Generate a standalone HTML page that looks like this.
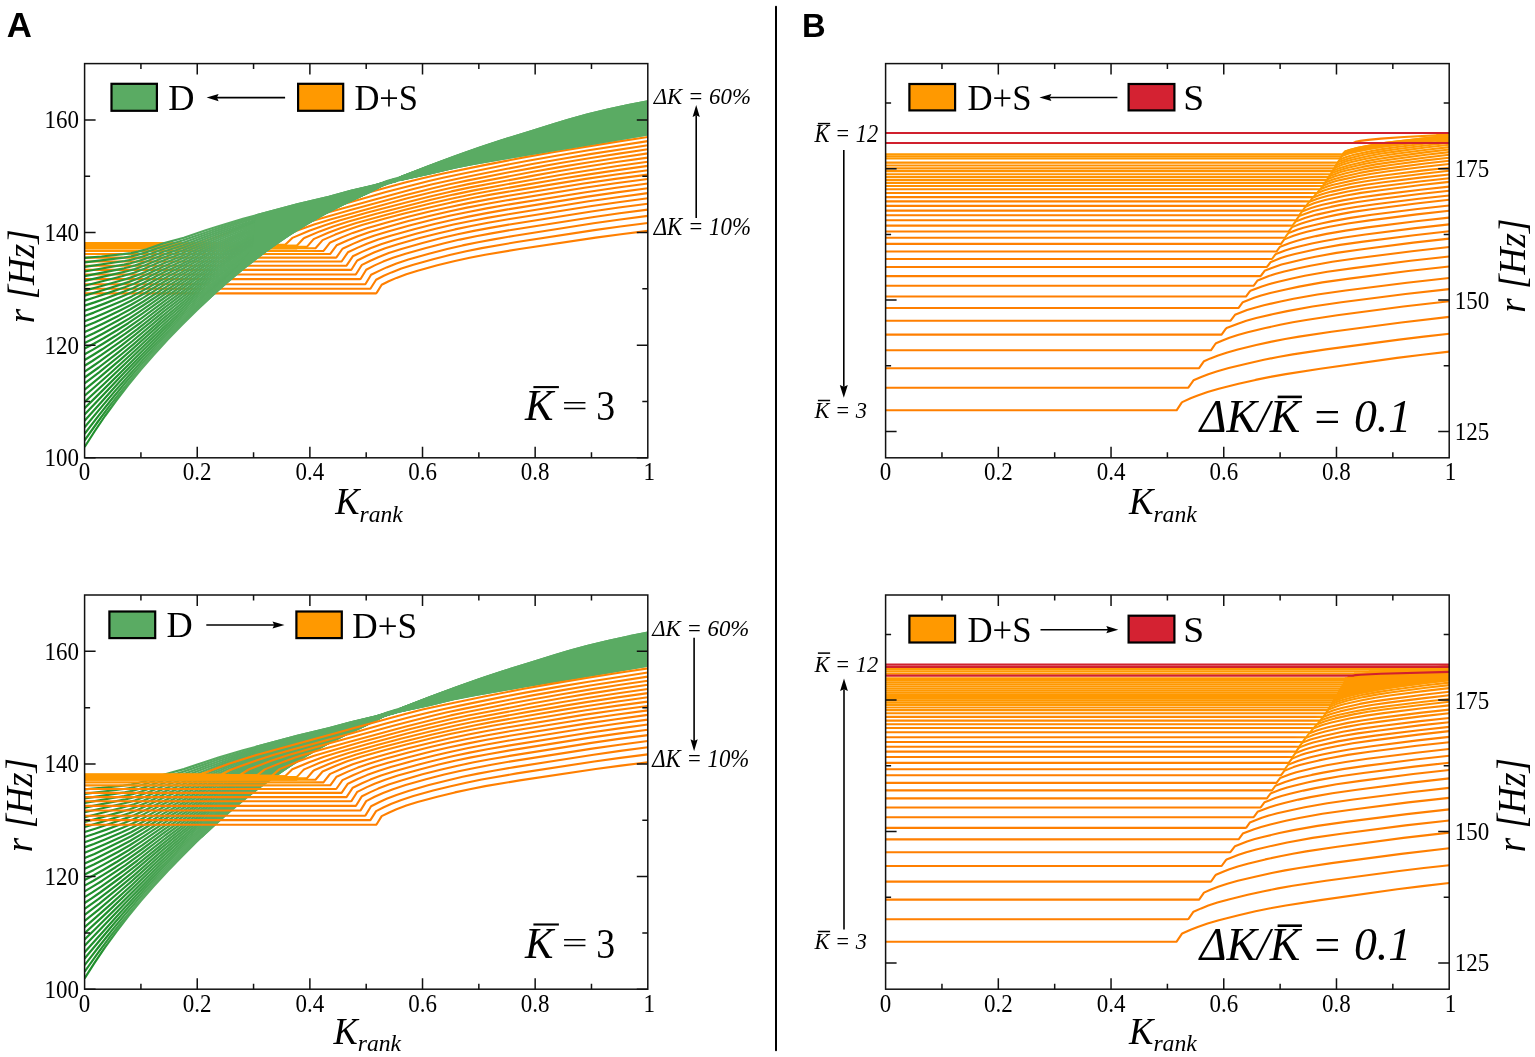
<!DOCTYPE html>
<html><head><meta charset="utf-8"><title>Figure</title>
<style>html,body{margin:0;padding:0;background:#fff;} svg{display:block;}</style></head>
<body><svg width="1535" height="1057" viewBox="0 0 1535 1057">
<rect x="0" y="0" width="1535" height="1057" fill="#fff"/>
<line x1="776.0" y1="6.7" x2="776.0" y2="1050.2" stroke="#000" stroke-width="2.0" stroke-linecap="round"/>
<defs></defs>
<clipPath id="clipA0"><rect x="84.60" y="63.60" width="563.20" height="394.20"/></clipPath>
<defs><linearGradient id="g0" gradientUnits="userSpaceOnUse" x1="84.6" y1="0" x2="647.8" y2="0"><stop offset="0.000" stop-color="#ff8200"/><stop offset="0.450" stop-color="#ff8200"/><stop offset="0.475" stop-color="#ff7f00"/><stop offset="1.000" stop-color="#ff7f00"/></linearGradient><linearGradient id="g1" gradientUnits="userSpaceOnUse" x1="84.6" y1="0" x2="647.8" y2="0"><stop offset="0.000" stop-color="#ff8200"/><stop offset="0.450" stop-color="#ff8200"/><stop offset="0.462" stop-color="#ff7f00"/><stop offset="1.000" stop-color="#ff7f00"/></linearGradient><linearGradient id="g2" gradientUnits="userSpaceOnUse" x1="84.6" y1="0" x2="647.8" y2="0"><stop offset="0.000" stop-color="#ff8500"/><stop offset="0.438" stop-color="#ff8500"/><stop offset="0.450" stop-color="#ff8300"/><stop offset="0.462" stop-color="#ff7f00"/><stop offset="1.000" stop-color="#ff7f00"/></linearGradient><linearGradient id="g3" gradientUnits="userSpaceOnUse" x1="84.6" y1="0" x2="647.8" y2="0"><stop offset="0.000" stop-color="#ff8800"/><stop offset="0.425" stop-color="#ff8800"/><stop offset="0.450" stop-color="#ff7f00"/><stop offset="1.000" stop-color="#ff7f00"/></linearGradient><linearGradient id="g4" gradientUnits="userSpaceOnUse" x1="84.6" y1="0" x2="647.8" y2="0"><stop offset="0.000" stop-color="#ff8f00"/><stop offset="0.412" stop-color="#ff8f00"/><stop offset="0.425" stop-color="#ff8b00"/><stop offset="0.438" stop-color="#ff7f00"/><stop offset="0.600" stop-color="#ff8100"/><stop offset="1.000" stop-color="#ff8000"/></linearGradient><linearGradient id="g5" gradientUnits="userSpaceOnUse" x1="84.6" y1="0" x2="647.8" y2="0"><stop offset="0.000" stop-color="#ff9200"/><stop offset="0.400" stop-color="#ff9200"/><stop offset="0.425" stop-color="#ff8000"/><stop offset="0.438" stop-color="#ff7f00"/><stop offset="0.500" stop-color="#ff7f00"/><stop offset="0.512" stop-color="#ff8000"/><stop offset="0.575" stop-color="#ff8200"/><stop offset="1.000" stop-color="#ff8100"/></linearGradient><linearGradient id="g6" gradientUnits="userSpaceOnUse" x1="84.6" y1="0" x2="647.8" y2="0"><stop offset="0.000" stop-color="#ff9900"/><stop offset="0.388" stop-color="#ff9900"/><stop offset="0.400" stop-color="#ff9300"/><stop offset="0.412" stop-color="#ff7f00"/><stop offset="0.450" stop-color="#ff8000"/><stop offset="0.462" stop-color="#ff8300"/><stop offset="0.475" stop-color="#ff8500"/><stop offset="0.500" stop-color="#ff8700"/><stop offset="0.775" stop-color="#ff8500"/><stop offset="0.900" stop-color="#ff8300"/><stop offset="1.000" stop-color="#ff8100"/></linearGradient><linearGradient id="g7" gradientUnits="userSpaceOnUse" x1="84.6" y1="0" x2="647.8" y2="0"><stop offset="0.000" stop-color="#ff9900"/><stop offset="0.388" stop-color="#ff9900"/><stop offset="0.400" stop-color="#ff7f00"/><stop offset="0.438" stop-color="#ff8000"/><stop offset="0.450" stop-color="#ff8300"/><stop offset="0.462" stop-color="#ff8500"/><stop offset="0.487" stop-color="#ff8800"/><stop offset="0.775" stop-color="#ff8600"/><stop offset="0.913" stop-color="#ff8300"/><stop offset="1.000" stop-color="#ff8200"/></linearGradient><linearGradient id="g8" gradientUnits="userSpaceOnUse" x1="84.6" y1="0" x2="647.8" y2="0"><stop offset="0.000" stop-color="#ff9900"/><stop offset="0.375" stop-color="#ff9900"/><stop offset="0.388" stop-color="#ff7f00"/><stop offset="0.412" stop-color="#ff7f00"/><stop offset="0.438" stop-color="#ff8300"/><stop offset="0.450" stop-color="#ff8500"/><stop offset="0.475" stop-color="#ff8800"/><stop offset="0.775" stop-color="#ff8600"/><stop offset="0.925" stop-color="#ff8400"/><stop offset="1.000" stop-color="#ff8200"/></linearGradient><linearGradient id="g9" gradientUnits="userSpaceOnUse" x1="84.6" y1="0" x2="647.8" y2="0"><stop offset="0.000" stop-color="#ff9900"/><stop offset="0.350" stop-color="#ff9900"/><stop offset="0.363" stop-color="#ff8100"/><stop offset="0.375" stop-color="#ff7f00"/><stop offset="0.400" stop-color="#ff7f00"/><stop offset="0.425" stop-color="#ff8400"/><stop offset="0.438" stop-color="#ff8600"/><stop offset="0.450" stop-color="#ff8700"/><stop offset="0.812" stop-color="#ff8500"/><stop offset="0.988" stop-color="#ff8300"/><stop offset="1.000" stop-color="#ff8300"/></linearGradient><linearGradient id="g10" gradientUnits="userSpaceOnUse" x1="84.6" y1="0" x2="647.8" y2="0"><stop offset="0.000" stop-color="#ff9900"/><stop offset="0.325" stop-color="#ff9900"/><stop offset="0.337" stop-color="#ff8f00"/><stop offset="0.350" stop-color="#ff7f00"/><stop offset="0.388" stop-color="#ff7f00"/><stop offset="0.400" stop-color="#ff8100"/><stop offset="0.412" stop-color="#ff8400"/><stop offset="0.438" stop-color="#ff8600"/><stop offset="0.450" stop-color="#ff8700"/><stop offset="0.812" stop-color="#ff8500"/><stop offset="1.000" stop-color="#ff8300"/></linearGradient><linearGradient id="g11" gradientUnits="userSpaceOnUse" x1="84.6" y1="0" x2="647.8" y2="0"><stop offset="0.000" stop-color="#ff9900"/><stop offset="0.300" stop-color="#ff9900"/><stop offset="0.312" stop-color="#ff8d00"/><stop offset="0.325" stop-color="#ff7f00"/><stop offset="0.375" stop-color="#ff7f00"/><stop offset="0.388" stop-color="#ff8100"/><stop offset="0.412" stop-color="#ff8400"/><stop offset="0.438" stop-color="#ff8600"/><stop offset="0.900" stop-color="#ff8400"/><stop offset="1.000" stop-color="#ff8300"/></linearGradient><linearGradient id="g12" gradientUnits="userSpaceOnUse" x1="84.6" y1="0" x2="647.8" y2="0"><stop offset="0.000" stop-color="#ff9900"/><stop offset="0.275" stop-color="#ff9900"/><stop offset="0.288" stop-color="#ff7f00"/><stop offset="0.363" stop-color="#ff7f00"/><stop offset="0.388" stop-color="#ff8200"/><stop offset="0.412" stop-color="#ff8400"/><stop offset="1.000" stop-color="#ff8300"/></linearGradient><linearGradient id="g13" gradientUnits="userSpaceOnUse" x1="84.6" y1="0" x2="647.8" y2="0"><stop offset="0.000" stop-color="#ff9900"/><stop offset="0.238" stop-color="#ff9900"/><stop offset="0.250" stop-color="#ff9400"/><stop offset="0.263" stop-color="#ff7f00"/><stop offset="0.363" stop-color="#ff8000"/><stop offset="0.388" stop-color="#ff8200"/><stop offset="0.650" stop-color="#ff8400"/><stop offset="1.000" stop-color="#ff8300"/></linearGradient><linearGradient id="g14" gradientUnits="userSpaceOnUse" x1="84.6" y1="0" x2="647.8" y2="0"><stop offset="0.000" stop-color="#ff9900"/><stop offset="0.212" stop-color="#ff9900"/><stop offset="0.225" stop-color="#ff7f00"/><stop offset="0.412" stop-color="#ff8200"/><stop offset="0.450" stop-color="#ff8100"/><stop offset="0.475" stop-color="#ff7f00"/><stop offset="0.600" stop-color="#ff8100"/><stop offset="0.625" stop-color="#ff8200"/><stop offset="1.000" stop-color="#ff8300"/></linearGradient></defs>
<g clip-path="url(#clipA0)" fill="none" stroke-width="2.1" stroke-linejoin="round">
<path d="M84.6,293.4 376.1,293.4 376.8,292.6 381.7,284.7 388.7,281.3 396.5,277.9 406.3,274.2 417.6,270.7 437.3,265.3 454.9,261.0 469.7,257.8 485.2,254.7 519.7,249.0 595.7,237.6 621.0,234.2 647.8,230.9" stroke="#ff7f00"/>
<path d="M84.6,288.7 370.4,288.7 376.1,279.7 383.8,275.8 391.5,272.4 401.4,268.6 413.4,264.7 433.1,259.2 450.7,254.8 466.2,251.3 481.7,248.1 516.9,242.0 594.3,230.1 620.3,226.5 647.8,223.0" stroke="#ff7f00"/>
<path d="M84.6,284.3 364.8,284.3 365.5,284.0 371.1,274.8 379.6,270.6 386.6,267.4 396.5,263.5 408.4,259.6 428.9,253.7 447.2,249.0 462.6,245.4 478.1,242.2 493.6,239.4 514.7,235.7 593.6,223.3 620.3,219.5 647.8,215.9" stroke="#ff7f00"/>
<path d="M84.6,279.1 359.9,279.1 360.6,279.0 366.2,269.7 374.6,265.4 383.1,261.6 393.0,257.8 405.6,253.7 426.0,247.9 444.3,243.2 459.8,239.6 476.0,236.3 491.5,233.4 512.6,229.7 592.2,217.2 619.6,213.3 647.8,209.6" stroke="#ff7f00"/>
<path d="M84.6,274.5 355.6,274.5 356.3,273.8 361.3,265.7 362.0,264.9 370.4,260.7 378.2,257.2 388.7,253.1 401.4,249.0 422.5,242.9 441.5,238.0 457.7,234.3 473.9,230.9 490.1,227.9 511.2,224.2 591.5,211.5 618.9,207.5 647.8,203.7" stroke="#ff7f00"/>
<path d="M84.6,269.9 350.7,269.9 351.4,269.7 357.0,260.8 357.8,260.2 366.9,255.7 374.6,252.3 385.2,248.3 397.9,244.2 419.7,238.0 438.7,233.2 454.9,229.4 471.1,226.0 488.0,222.8 509.8,219.0 590.1,206.2 618.2,202.2 647.8,198.3" stroke="url(#g0)"/>
<path d="M84.6,265.7 346.5,265.7 352.8,256.3 362.0,251.9 370.4,248.2 381.0,244.2 394.4,239.9 416.9,233.5 436.6,228.5 453.5,224.6 469.7,221.2 487.3,217.9 508.4,214.2 588.7,201.3 617.5,197.2 647.8,193.1" stroke="url(#g1)"/>
<path d="M84.6,261.5 341.6,261.5 347.9,252.3 357.8,247.6 366.9,243.7 378.2,239.6 391.5,235.4 414.1,229.2 434.5,224.0 452.1,220.0 468.3,216.6 486.6,213.1 507.7,209.4 587.3,196.6 616.8,192.4 647.8,188.2" stroke="url(#g2)"/>
<path d="M84.6,257.6 335.9,257.6 336.6,257.1 342.3,249.0 343.0,248.5 353.5,243.6 362.7,239.7 373.9,235.7 388.0,231.4 411.3,225.0 433.1,219.6 450.7,215.6 466.9,212.2 486.6,208.4 507.0,204.8 585.8,192.2 616.1,187.8 647.8,183.5" stroke="url(#g3)"/>
<path d="M84.6,254.0 330.3,253.9 336.6,245.3 347.9,240.2 357.8,236.2 369.7,232.0 385.2,227.4 408.4,221.1 432.4,215.2 450.0,211.2 466.9,207.6 487.3,203.8 507.0,200.3 584.4,187.8 615.4,183.3 647.8,179.0" stroke="url(#g4)"/>
<path d="M84.6,251.0 323.3,251.0 324.0,250.3 329.6,243.1 330.3,242.5 342.3,237.1 352.8,232.9 367.6,228.0 388.7,222.0 409.1,216.6 431.7,211.1 450.0,206.9 468.3,203.1 488.0,199.4 508.4,195.8 583.7,183.5 615.4,178.9 647.8,174.6" stroke="url(#g5)"/>
<path d="M84.6,248.3 315.5,248.3 322.6,240.1 335.2,234.6 347.2,229.9 362.0,225.1 385.2,218.6 406.3,213.1 431.7,206.9 451.4,202.4 473.9,197.8 492.2,194.4 520.4,189.6 585.8,178.9 616.1,174.5 647.8,170.2" stroke="url(#g6)"/>
<path d="M84.6,246.9 306.4,246.9 307.1,246.6 313.4,239.4 314.1,238.9 328.2,232.8 340.9,228.0 356.3,223.0 381.7,215.9 404.2,210.0 432.4,203.1 453.5,198.3 475.3,193.8 492.9,190.5 526.7,184.6 562.6,178.5 587.3,174.6 617.5,170.1 647.8,165.9" stroke="url(#g7)"/>
<path d="M84.6,245.8 296.5,245.8 297.2,245.2 303.5,238.5 304.2,238.0 319.7,231.4 333.1,226.5 348.6,221.6 375.4,214.0 400.7,207.4 431.0,199.8 453.5,194.6 473.9,190.4 529.5,180.2 561.9,174.7 588.0,170.5 617.5,166.0 647.8,161.7" stroke="url(#g8)"/>
<path d="M84.6,244.9 284.5,244.9 285.2,244.8 292.3,237.9 293.0,237.6 309.2,230.8 324.0,225.4 339.4,220.5 367.6,212.6 407.0,202.2 428.9,196.7 451.4,191.4 470.4,187.4 530.9,176.1 561.2,170.8 588.7,166.3 618.2,161.8 647.8,157.6" stroke="url(#g9)"/>
<path d="M84.6,244.4 271.9,244.4 279.6,237.7 297.9,230.2 314.1,224.4 330.3,219.5 360.6,210.9 408.4,198.1 431.7,192.3 451.4,187.7 468.3,184.1 533.0,171.8 561.2,166.9 589.4,162.2 618.2,157.7 647.8,153.4" stroke="url(#g10)"/>
<path d="M84.6,244.0 257.1,243.9 264.8,238.0 284.5,230.0 293.7,226.7 302.8,223.7 319.0,218.9 351.4,209.8 404.9,195.3 433.8,188.0 450.7,184.0 466.9,180.6 509.1,172.3 534.5,167.6 561.9,162.8 590.8,158.0 618.9,153.6 647.8,149.3" stroke="url(#g11)"/>
<path d="M84.6,243.6 240.2,243.6 247.9,238.6 249.3,237.9 270.5,229.7 280.3,226.3 289.5,223.4 326.8,212.7 392.2,194.7 413.4,189.1 432.4,184.3 447.2,180.9 463.4,177.5 507.0,168.8 532.3,164.0 559.8,159.2 590.1,154.1 647.8,145.2" stroke="url(#g12)"/>
<path d="M84.6,243.4 221.2,243.3 229.6,238.9 239.5,235.1 257.1,228.8 274.0,223.4 290.9,218.5 350.0,202.3 385.9,192.1 411.3,185.4 428.9,181.0 442.9,177.8 459.8,174.2 502.8,165.5 528.1,160.7 556.3,155.7 588.7,150.3 647.8,141.1" stroke="url(#g13)"/>
<path d="M84.6,243.1 200.1,243.1 214.8,237.5 229.6,232.2 243.7,227.5 256.4,223.7 334.5,202.2 377.5,190.0 404.2,182.8 422.5,178.2 442.2,173.8 483.1,165.4 522.5,157.6 551.4,152.5 586.6,146.6 617.5,141.6 647.8,137.0" stroke="url(#g14)"/>
</g>
<g clip-path="url(#clipA0)" fill="#ff9900" stroke="none">
<path d="M84.6,242.1 199.4,242.1 200.1,242.0 203.6,240.7 204.3,242.3 220.5,242.3 221.2,242.3 224.0,240.8 224.7,242.6 240.2,242.5 242.3,241.2 243.0,242.9 256.4,242.9 257.1,242.9 258.5,241.8 259.2,243.3 271.9,243.3 273.3,242.1 274.0,243.9 284.5,243.9 285.2,243.8 285.9,243.1 286.6,244.7 296.5,244.7 297.2,244.2 297.2,249.4 84.6,249.4Z"/>
</g>
<defs><linearGradient id="g15" gradientUnits="userSpaceOnUse" x1="84.6" y1="0" x2="647.8" y2="0"><stop offset="0.000" stop-color="#20902d"/><stop offset="0.012" stop-color="#259232"/><stop offset="0.025" stop-color="#2a9436"/><stop offset="0.050" stop-color="#33983e"/><stop offset="0.075" stop-color="#3a9c45"/><stop offset="0.100" stop-color="#409f4b"/><stop offset="0.125" stop-color="#45a14f"/><stop offset="0.150" stop-color="#4aa354"/><stop offset="0.175" stop-color="#4fa659"/><stop offset="0.200" stop-color="#54a85e"/><stop offset="0.225" stop-color="#59ab62"/><stop offset="1.000" stop-color="#5aab63"/></linearGradient><linearGradient id="g16" gradientUnits="userSpaceOnUse" x1="84.6" y1="0" x2="647.8" y2="0"><stop offset="0.000" stop-color="#20902d"/><stop offset="0.012" stop-color="#259232"/><stop offset="0.025" stop-color="#2a9436"/><stop offset="0.050" stop-color="#33983e"/><stop offset="0.075" stop-color="#3a9c45"/><stop offset="0.100" stop-color="#409f4b"/><stop offset="0.125" stop-color="#45a14f"/><stop offset="0.150" stop-color="#4aa354"/><stop offset="0.175" stop-color="#4fa659"/><stop offset="0.200" stop-color="#54a85e"/><stop offset="0.225" stop-color="#59ab62"/><stop offset="1.000" stop-color="#5aab63"/></linearGradient><linearGradient id="g17" gradientUnits="userSpaceOnUse" x1="84.6" y1="0" x2="647.8" y2="0"><stop offset="0.000" stop-color="#1f8f2c"/><stop offset="0.025" stop-color="#289334"/><stop offset="0.050" stop-color="#31973c"/><stop offset="0.075" stop-color="#389b44"/><stop offset="0.100" stop-color="#3f9e4a"/><stop offset="0.125" stop-color="#44a14f"/><stop offset="0.150" stop-color="#49a354"/><stop offset="0.175" stop-color="#4fa659"/><stop offset="0.200" stop-color="#54a85d"/><stop offset="0.225" stop-color="#59aa62"/><stop offset="1.000" stop-color="#5aab63"/></linearGradient><linearGradient id="g18" gradientUnits="userSpaceOnUse" x1="84.6" y1="0" x2="647.8" y2="0"><stop offset="0.000" stop-color="#1f8f2c"/><stop offset="0.025" stop-color="#269232"/><stop offset="0.050" stop-color="#2f963a"/><stop offset="0.075" stop-color="#379a42"/><stop offset="0.100" stop-color="#3e9e49"/><stop offset="0.125" stop-color="#43a04e"/><stop offset="0.150" stop-color="#49a353"/><stop offset="0.175" stop-color="#4fa658"/><stop offset="0.200" stop-color="#54a85d"/><stop offset="0.225" stop-color="#59aa62"/><stop offset="1.000" stop-color="#5aab63"/></linearGradient><linearGradient id="g19" gradientUnits="userSpaceOnUse" x1="84.6" y1="0" x2="647.8" y2="0"><stop offset="0.000" stop-color="#1f8f2c"/><stop offset="0.012" stop-color="#1f8f2c"/><stop offset="0.038" stop-color="#289334"/><stop offset="0.062" stop-color="#31983d"/><stop offset="0.088" stop-color="#399b44"/><stop offset="0.112" stop-color="#409e4a"/><stop offset="0.138" stop-color="#45a150"/><stop offset="0.163" stop-color="#4ba455"/><stop offset="0.188" stop-color="#51a75a"/><stop offset="0.212" stop-color="#56a95f"/><stop offset="0.225" stop-color="#58aa62"/><stop offset="1.000" stop-color="#5aab63"/></linearGradient><linearGradient id="g20" gradientUnits="userSpaceOnUse" x1="84.6" y1="0" x2="647.8" y2="0"><stop offset="0.000" stop-color="#1f8f2c"/><stop offset="0.012" stop-color="#1f8f2c"/><stop offset="0.038" stop-color="#269232"/><stop offset="0.062" stop-color="#2f973b"/><stop offset="0.088" stop-color="#389b43"/><stop offset="0.112" stop-color="#3f9e49"/><stop offset="0.138" stop-color="#44a14f"/><stop offset="0.163" stop-color="#4ba455"/><stop offset="0.188" stop-color="#50a65a"/><stop offset="0.212" stop-color="#56a95f"/><stop offset="0.225" stop-color="#58aa61"/><stop offset="1.000" stop-color="#5aab63"/></linearGradient><linearGradient id="g21" gradientUnits="userSpaceOnUse" x1="84.6" y1="0" x2="647.8" y2="0"><stop offset="0.000" stop-color="#1f8f2c"/><stop offset="0.025" stop-color="#1f8f2c"/><stop offset="0.050" stop-color="#289335"/><stop offset="0.075" stop-color="#32983d"/><stop offset="0.100" stop-color="#3a9c45"/><stop offset="0.125" stop-color="#419f4b"/><stop offset="0.150" stop-color="#47a251"/><stop offset="0.175" stop-color="#4da557"/><stop offset="0.200" stop-color="#53a85c"/><stop offset="0.225" stop-color="#58aa61"/><stop offset="0.238" stop-color="#5aab63"/><stop offset="1.000" stop-color="#5aab63"/></linearGradient><linearGradient id="g22" gradientUnits="userSpaceOnUse" x1="84.6" y1="0" x2="647.8" y2="0"><stop offset="0.000" stop-color="#1f8f2c"/><stop offset="0.025" stop-color="#1f8f2c"/><stop offset="0.050" stop-color="#269333"/><stop offset="0.062" stop-color="#2b9537"/><stop offset="0.075" stop-color="#30973c"/><stop offset="0.100" stop-color="#399b44"/><stop offset="0.125" stop-color="#3f9e4a"/><stop offset="0.150" stop-color="#46a250"/><stop offset="0.175" stop-color="#4da557"/><stop offset="0.200" stop-color="#53a75c"/><stop offset="0.225" stop-color="#58aa61"/><stop offset="0.238" stop-color="#5aab63"/><stop offset="1.000" stop-color="#5aab63"/></linearGradient><linearGradient id="g23" gradientUnits="userSpaceOnUse" x1="84.6" y1="0" x2="647.8" y2="0"><stop offset="0.000" stop-color="#1f8f2c"/><stop offset="0.038" stop-color="#208f2d"/><stop offset="0.062" stop-color="#299436"/><stop offset="0.075" stop-color="#2e963a"/><stop offset="0.100" stop-color="#379a42"/><stop offset="0.125" stop-color="#3e9e49"/><stop offset="0.150" stop-color="#45a150"/><stop offset="0.175" stop-color="#4ca456"/><stop offset="0.200" stop-color="#52a75c"/><stop offset="0.225" stop-color="#58aa61"/><stop offset="0.238" stop-color="#5aab63"/><stop offset="1.000" stop-color="#5aab63"/></linearGradient><linearGradient id="g24" gradientUnits="userSpaceOnUse" x1="84.6" y1="0" x2="647.8" y2="0"><stop offset="0.000" stop-color="#1f8f2c"/><stop offset="0.038" stop-color="#1f8f2c"/><stop offset="0.062" stop-color="#289334"/><stop offset="0.075" stop-color="#2d9539"/><stop offset="0.088" stop-color="#31983d"/><stop offset="0.112" stop-color="#3a9c45"/><stop offset="0.138" stop-color="#419f4b"/><stop offset="0.163" stop-color="#48a352"/><stop offset="0.188" stop-color="#4fa659"/><stop offset="0.212" stop-color="#55a85e"/><stop offset="0.238" stop-color="#5aab63"/><stop offset="1.000" stop-color="#5aab63"/></linearGradient><linearGradient id="g25" gradientUnits="userSpaceOnUse" x1="84.6" y1="0" x2="647.8" y2="0"><stop offset="0.000" stop-color="#1f8f2c"/><stop offset="0.038" stop-color="#1f8f2c"/><stop offset="0.062" stop-color="#269233"/><stop offset="0.075" stop-color="#2b9537"/><stop offset="0.088" stop-color="#30973c"/><stop offset="0.112" stop-color="#389b44"/><stop offset="0.138" stop-color="#409f4a"/><stop offset="0.163" stop-color="#47a252"/><stop offset="0.188" stop-color="#4ea558"/><stop offset="0.212" stop-color="#54a85e"/><stop offset="0.238" stop-color="#5aab63"/><stop offset="1.000" stop-color="#5aab63"/></linearGradient><linearGradient id="g26" gradientUnits="userSpaceOnUse" x1="84.6" y1="0" x2="647.8" y2="0"><stop offset="0.000" stop-color="#1f8f2c"/><stop offset="0.050" stop-color="#208f2d"/><stop offset="0.062" stop-color="#259231"/><stop offset="0.075" stop-color="#2a9436"/><stop offset="0.088" stop-color="#2e963a"/><stop offset="0.112" stop-color="#379a42"/><stop offset="0.138" stop-color="#3f9e4a"/><stop offset="0.163" stop-color="#47a251"/><stop offset="0.188" stop-color="#4ea558"/><stop offset="0.212" stop-color="#54a85d"/><stop offset="0.238" stop-color="#5aab63"/><stop offset="1.000" stop-color="#5aab63"/></linearGradient><linearGradient id="g27" gradientUnits="userSpaceOnUse" x1="84.6" y1="0" x2="647.8" y2="0"><stop offset="0.000" stop-color="#1f8f2c"/><stop offset="0.050" stop-color="#1f8f2c"/><stop offset="0.075" stop-color="#289335"/><stop offset="0.088" stop-color="#2d9639"/><stop offset="0.112" stop-color="#369a41"/><stop offset="0.138" stop-color="#3e9e49"/><stop offset="0.163" stop-color="#46a150"/><stop offset="0.188" stop-color="#4da557"/><stop offset="0.212" stop-color="#54a85d"/><stop offset="0.238" stop-color="#5aab63"/><stop offset="1.000" stop-color="#5aab63"/></linearGradient><linearGradient id="g28" gradientUnits="userSpaceOnUse" x1="84.6" y1="0" x2="647.8" y2="0"><stop offset="0.000" stop-color="#1f8f2c"/><stop offset="0.050" stop-color="#1f8f2c"/><stop offset="0.075" stop-color="#279333"/><stop offset="0.088" stop-color="#2c9538"/><stop offset="0.112" stop-color="#359940"/><stop offset="0.138" stop-color="#3d9d48"/><stop offset="0.163" stop-color="#45a14f"/><stop offset="0.188" stop-color="#4da557"/><stop offset="0.212" stop-color="#53a85d"/><stop offset="0.238" stop-color="#5aab63"/><stop offset="1.000" stop-color="#5aab63"/></linearGradient><linearGradient id="g29" gradientUnits="userSpaceOnUse" x1="84.6" y1="0" x2="647.8" y2="0"><stop offset="0.000" stop-color="#1f8f2c"/><stop offset="0.050" stop-color="#1f8f2c"/><stop offset="0.075" stop-color="#269233"/><stop offset="0.088" stop-color="#2b9537"/><stop offset="0.112" stop-color="#34993f"/><stop offset="0.138" stop-color="#3c9d47"/><stop offset="0.163" stop-color="#44a14f"/><stop offset="0.188" stop-color="#4ca456"/><stop offset="0.212" stop-color="#53a85c"/><stop offset="0.238" stop-color="#59ab62"/><stop offset="1.000" stop-color="#5aab63"/></linearGradient><linearGradient id="g30" gradientUnits="userSpaceOnUse" x1="84.6" y1="0" x2="647.8" y2="0"><stop offset="0.000" stop-color="#1f8f2c"/><stop offset="0.062" stop-color="#20902d"/><stop offset="0.075" stop-color="#259232"/><stop offset="0.088" stop-color="#2a9436"/><stop offset="0.112" stop-color="#33983f"/><stop offset="0.138" stop-color="#3b9c46"/><stop offset="0.163" stop-color="#44a04e"/><stop offset="0.188" stop-color="#4ca456"/><stop offset="0.212" stop-color="#52a75c"/><stop offset="0.238" stop-color="#59ab62"/><stop offset="1.000" stop-color="#5aab63"/></linearGradient><linearGradient id="g31" gradientUnits="userSpaceOnUse" x1="84.6" y1="0" x2="647.8" y2="0"><stop offset="0.000" stop-color="#1f8f2c"/><stop offset="0.062" stop-color="#208f2c"/><stop offset="0.075" stop-color="#259231"/><stop offset="0.088" stop-color="#299436"/><stop offset="0.112" stop-color="#32983e"/><stop offset="0.138" stop-color="#3b9c46"/><stop offset="0.163" stop-color="#43a04e"/><stop offset="0.188" stop-color="#4ba455"/><stop offset="0.212" stop-color="#52a75c"/><stop offset="0.238" stop-color="#59aa62"/><stop offset="1.000" stop-color="#5aab63"/></linearGradient><linearGradient id="g32" gradientUnits="userSpaceOnUse" x1="84.6" y1="0" x2="647.8" y2="0"><stop offset="0.000" stop-color="#1f8f2c"/><stop offset="0.062" stop-color="#1f8f2c"/><stop offset="0.075" stop-color="#249131"/><stop offset="0.088" stop-color="#299435"/><stop offset="0.112" stop-color="#32983e"/><stop offset="0.138" stop-color="#3a9c45"/><stop offset="0.163" stop-color="#43a04d"/><stop offset="0.188" stop-color="#4ba455"/><stop offset="0.212" stop-color="#52a75b"/><stop offset="0.238" stop-color="#59aa62"/><stop offset="1.000" stop-color="#5aab63"/></linearGradient><linearGradient id="g33" gradientUnits="userSpaceOnUse" x1="84.6" y1="0" x2="647.8" y2="0"><stop offset="0.000" stop-color="#1f8f2c"/><stop offset="0.062" stop-color="#1f8f2c"/><stop offset="0.075" stop-color="#249130"/><stop offset="0.088" stop-color="#299435"/><stop offset="0.112" stop-color="#32983d"/><stop offset="0.138" stop-color="#3a9c45"/><stop offset="0.163" stop-color="#43a04d"/><stop offset="0.188" stop-color="#4ba455"/><stop offset="0.212" stop-color="#52a75b"/><stop offset="0.238" stop-color="#59aa62"/><stop offset="1.000" stop-color="#5aab63"/></linearGradient><linearGradient id="g34" gradientUnits="userSpaceOnUse" x1="84.6" y1="0" x2="647.8" y2="0"><stop offset="0.000" stop-color="#1f8f2c"/><stop offset="0.062" stop-color="#1f8f2c"/><stop offset="0.088" stop-color="#299435"/><stop offset="0.100" stop-color="#2d9639"/><stop offset="0.125" stop-color="#369a41"/><stop offset="0.150" stop-color="#3e9e49"/><stop offset="0.175" stop-color="#47a251"/><stop offset="0.200" stop-color="#4ea558"/><stop offset="0.225" stop-color="#55a95f"/><stop offset="0.238" stop-color="#59aa62"/><stop offset="1.000" stop-color="#5aab63"/></linearGradient><linearGradient id="g35" gradientUnits="userSpaceOnUse" x1="84.6" y1="0" x2="647.8" y2="0"><stop offset="0.000" stop-color="#1f8f2c"/><stop offset="0.062" stop-color="#1f8f2c"/><stop offset="0.075" stop-color="#249130"/><stop offset="0.088" stop-color="#299435"/><stop offset="0.100" stop-color="#2e963a"/><stop offset="0.125" stop-color="#369a42"/><stop offset="0.150" stop-color="#3f9e4a"/><stop offset="0.175" stop-color="#47a251"/><stop offset="0.200" stop-color="#4ea658"/><stop offset="0.225" stop-color="#55a95f"/><stop offset="0.238" stop-color="#59aa62"/><stop offset="1.000" stop-color="#5aab63"/></linearGradient><linearGradient id="g36" gradientUnits="userSpaceOnUse" x1="84.6" y1="0" x2="647.8" y2="0"><stop offset="0.000" stop-color="#1f8f2c"/><stop offset="0.062" stop-color="#1f8f2c"/><stop offset="0.075" stop-color="#249131"/><stop offset="0.088" stop-color="#299436"/><stop offset="0.100" stop-color="#2e963a"/><stop offset="0.125" stop-color="#379a42"/><stop offset="0.150" stop-color="#3f9e4a"/><stop offset="0.175" stop-color="#48a252"/><stop offset="0.200" stop-color="#4fa659"/><stop offset="0.225" stop-color="#56a95f"/><stop offset="0.238" stop-color="#59ab62"/><stop offset="1.000" stop-color="#5aab63"/></linearGradient><linearGradient id="g37" gradientUnits="userSpaceOnUse" x1="84.6" y1="0" x2="647.8" y2="0"><stop offset="0.000" stop-color="#1f8f2c"/><stop offset="0.062" stop-color="#1f8f2c"/><stop offset="0.075" stop-color="#259231"/><stop offset="0.088" stop-color="#2a9436"/><stop offset="0.100" stop-color="#2f973b"/><stop offset="0.125" stop-color="#389b43"/><stop offset="0.150" stop-color="#409f4b"/><stop offset="0.175" stop-color="#48a353"/><stop offset="0.200" stop-color="#50a659"/><stop offset="0.225" stop-color="#56a960"/><stop offset="0.238" stop-color="#5aab63"/><stop offset="1.000" stop-color="#5aab63"/></linearGradient><linearGradient id="g38" gradientUnits="userSpaceOnUse" x1="84.6" y1="0" x2="647.8" y2="0"><stop offset="0.000" stop-color="#1f8f2c"/><stop offset="0.062" stop-color="#1f8f2c"/><stop offset="0.075" stop-color="#259232"/><stop offset="0.088" stop-color="#2b9537"/><stop offset="0.100" stop-color="#30973c"/><stop offset="0.125" stop-color="#399b44"/><stop offset="0.150" stop-color="#419f4c"/><stop offset="0.175" stop-color="#49a353"/><stop offset="0.200" stop-color="#50a65a"/><stop offset="0.225" stop-color="#57aa60"/><stop offset="0.238" stop-color="#5aab63"/><stop offset="1.000" stop-color="#5aab63"/></linearGradient><linearGradient id="g39" gradientUnits="userSpaceOnUse" x1="84.6" y1="0" x2="647.8" y2="0"><stop offset="0.000" stop-color="#1f8f2c"/><stop offset="0.062" stop-color="#208f2d"/><stop offset="0.075" stop-color="#269233"/><stop offset="0.088" stop-color="#2c9538"/><stop offset="0.100" stop-color="#31983d"/><stop offset="0.125" stop-color="#3a9c45"/><stop offset="0.150" stop-color="#43a04d"/><stop offset="0.175" stop-color="#4ba455"/><stop offset="0.200" stop-color="#52a75b"/><stop offset="0.225" stop-color="#58aa61"/><stop offset="0.238" stop-color="#5aab63"/><stop offset="1.000" stop-color="#5aab63"/></linearGradient><linearGradient id="g40" gradientUnits="userSpaceOnUse" x1="84.6" y1="0" x2="647.8" y2="0"><stop offset="0.000" stop-color="#1f8f2c"/><stop offset="0.050" stop-color="#1f8f2c"/><stop offset="0.075" stop-color="#279334"/><stop offset="0.088" stop-color="#2d9639"/><stop offset="0.100" stop-color="#33983e"/><stop offset="0.112" stop-color="#389b43"/><stop offset="0.138" stop-color="#409f4b"/><stop offset="0.163" stop-color="#48a352"/><stop offset="0.188" stop-color="#50a659"/><stop offset="0.212" stop-color="#56a95f"/><stop offset="0.225" stop-color="#59ab62"/><stop offset="1.000" stop-color="#5aab63"/></linearGradient><linearGradient id="g41" gradientUnits="userSpaceOnUse" x1="84.6" y1="0" x2="647.8" y2="0"><stop offset="0.000" stop-color="#1f8f2c"/><stop offset="0.050" stop-color="#1f8f2c"/><stop offset="0.075" stop-color="#299435"/><stop offset="0.088" stop-color="#2f973b"/><stop offset="0.100" stop-color="#359940"/><stop offset="0.112" stop-color="#399c45"/><stop offset="0.138" stop-color="#42a04c"/><stop offset="0.163" stop-color="#4aa354"/><stop offset="0.188" stop-color="#51a75b"/><stop offset="0.212" stop-color="#58aa61"/><stop offset="0.225" stop-color="#5aab63"/><stop offset="1.000" stop-color="#5aab63"/></linearGradient><linearGradient id="g42" gradientUnits="userSpaceOnUse" x1="84.6" y1="0" x2="647.8" y2="0"><stop offset="0.000" stop-color="#1f8f2c"/><stop offset="0.050" stop-color="#1f8f2c"/><stop offset="0.075" stop-color="#2b9537"/><stop offset="0.088" stop-color="#31983d"/><stop offset="0.100" stop-color="#379a42"/><stop offset="0.112" stop-color="#3c9d47"/><stop offset="0.138" stop-color="#44a14f"/><stop offset="0.163" stop-color="#4ca456"/><stop offset="0.188" stop-color="#53a85d"/><stop offset="0.212" stop-color="#59ab62"/><stop offset="1.000" stop-color="#5aab63"/></linearGradient><linearGradient id="g43" gradientUnits="userSpaceOnUse" x1="84.6" y1="0" x2="647.8" y2="0"><stop offset="0.000" stop-color="#1f8f2c"/><stop offset="0.050" stop-color="#1f8f2c"/><stop offset="0.062" stop-color="#259232"/><stop offset="0.075" stop-color="#2d9639"/><stop offset="0.088" stop-color="#33993f"/><stop offset="0.100" stop-color="#399b44"/><stop offset="0.112" stop-color="#3e9e49"/><stop offset="0.138" stop-color="#47a251"/><stop offset="0.163" stop-color="#4fa658"/><stop offset="0.188" stop-color="#56a95f"/><stop offset="0.200" stop-color="#59aa62"/><stop offset="1.000" stop-color="#5aab63"/></linearGradient><linearGradient id="g44" gradientUnits="userSpaceOnUse" x1="84.6" y1="0" x2="647.8" y2="0"><stop offset="0.000" stop-color="#1f8f2c"/><stop offset="0.050" stop-color="#1f8f2c"/><stop offset="0.062" stop-color="#289334"/><stop offset="0.075" stop-color="#30973c"/><stop offset="0.088" stop-color="#369a42"/><stop offset="0.100" stop-color="#3c9d47"/><stop offset="0.112" stop-color="#419f4c"/><stop offset="0.138" stop-color="#4aa354"/><stop offset="0.163" stop-color="#52a75b"/><stop offset="0.188" stop-color="#58aa61"/><stop offset="1.000" stop-color="#5aab63"/></linearGradient><linearGradient id="g45" gradientUnits="userSpaceOnUse" x1="84.6" y1="0" x2="647.8" y2="0"><stop offset="0.000" stop-color="#1f8f2c"/><stop offset="0.038" stop-color="#1f8f2c"/><stop offset="0.062" stop-color="#2b9537"/><stop offset="0.075" stop-color="#33993f"/><stop offset="0.088" stop-color="#3a9c45"/><stop offset="0.100" stop-color="#409f4b"/><stop offset="0.112" stop-color="#45a14f"/><stop offset="0.138" stop-color="#4da557"/><stop offset="0.163" stop-color="#55a95f"/><stop offset="0.175" stop-color="#59aa62"/><stop offset="1.000" stop-color="#5aab63"/></linearGradient><linearGradient id="g46" gradientUnits="userSpaceOnUse" x1="84.6" y1="0" x2="647.8" y2="0"><stop offset="0.000" stop-color="#1f8f2c"/><stop offset="0.038" stop-color="#1f8f2c"/><stop offset="0.050" stop-color="#269232"/><stop offset="0.062" stop-color="#2f973b"/><stop offset="0.075" stop-color="#389b43"/><stop offset="0.088" stop-color="#3f9e4a"/><stop offset="0.100" stop-color="#45a14f"/><stop offset="0.112" stop-color="#4aa354"/><stop offset="0.138" stop-color="#52a75c"/><stop offset="0.163" stop-color="#5aab63"/><stop offset="1.000" stop-color="#5aab63"/></linearGradient><linearGradient id="g47" gradientUnits="userSpaceOnUse" x1="84.6" y1="0" x2="647.8" y2="0"><stop offset="0.000" stop-color="#1f8f2c"/><stop offset="0.038" stop-color="#208f2d"/><stop offset="0.050" stop-color="#2c9538"/><stop offset="0.062" stop-color="#369a41"/><stop offset="0.075" stop-color="#3f9e49"/><stop offset="0.088" stop-color="#46a150"/><stop offset="0.100" stop-color="#4ca456"/><stop offset="0.112" stop-color="#51a75a"/><stop offset="0.138" stop-color="#58aa62"/><stop offset="1.000" stop-color="#5aab63"/></linearGradient><linearGradient id="g48" gradientUnits="userSpaceOnUse" x1="84.6" y1="0" x2="647.8" y2="0"><stop offset="0.000" stop-color="#1f8f2c"/><stop offset="0.025" stop-color="#1f8f2c"/><stop offset="0.038" stop-color="#2d9539"/><stop offset="0.050" stop-color="#3a9c45"/><stop offset="0.062" stop-color="#44a14f"/><stop offset="0.075" stop-color="#4da557"/><stop offset="0.088" stop-color="#53a85d"/><stop offset="0.100" stop-color="#59aa62"/><stop offset="1.000" stop-color="#5aab63"/></linearGradient><linearGradient id="g49" gradientUnits="userSpaceOnUse" x1="84.6" y1="0" x2="647.8" y2="0"><stop offset="0.000" stop-color="#1f8f2c"/><stop offset="0.025" stop-color="#1f8f2c"/><stop offset="0.038" stop-color="#2d9539"/><stop offset="0.050" stop-color="#3a9c45"/><stop offset="0.062" stop-color="#44a14f"/><stop offset="0.075" stop-color="#4da557"/><stop offset="0.088" stop-color="#53a85d"/><stop offset="0.100" stop-color="#59aa62"/><stop offset="1.000" stop-color="#5aab63"/></linearGradient></defs>
<g clip-path="url(#clipA0)" fill="none" stroke-width="2.2" stroke-linejoin="round">
<path d="M84.6,257.9 101.5,256.5 123.3,254.2 131.1,253.1 138.1,251.6 146.6,249.2 163.4,243.4 183.9,237.7 205.7,230.3 218.4,226.2 243.0,218.9 297.2,204.3 328.9,196.8 350.7,190.9 375.4,185.1 383.1,182.9 395.1,179.1 396.5,179.0 399.3,179.9 400.7,179.8 430.3,173.4 455.6,167.4 476.0,163.4 524.6,155.0 583.7,145.2 647.8,134.3" stroke="url(#g15)"/>
<path d="M84.6,262.4 124.0,257.6 131.1,256.4 137.4,254.9 145.8,252.4 163.4,246.2 183.2,240.3 206.4,232.2 219.1,227.9 245.1,219.9 297.9,205.0 330.3,197.0 352.1,190.8 375.4,185.2 395.1,179.2 396.5,179.0 399.3,179.9 400.7,179.7 430.3,173.1 455.6,167.1 477.4,162.7 527.4,153.8 647.8,133.3" stroke="url(#g16)"/>
<path d="M84.6,266.9 124.7,261.0 131.1,259.8 137.4,258.1 145.8,255.5 163.4,249.0 183.2,242.8 206.4,234.3 219.1,229.9 233.8,225.0 247.9,220.5 296.5,206.2 331.0,197.3 351.4,191.4 373.9,185.7 395.1,179.3 396.5,179.1 399.3,179.8 400.7,179.7 430.3,172.9 457.0,166.4 470.4,163.6 486.6,160.5 534.5,152.0 647.8,132.3" stroke="url(#g17)"/>
<path d="M84.6,271.5 124.0,264.6 130.4,263.3 136.0,261.8 145.8,258.6 163.4,251.8 183.2,245.3 206.4,236.4 219.8,231.6 235.3,226.2 250.7,221.2 297.9,206.7 331.0,197.8 351.4,191.7 373.9,185.9 395.1,179.3 396.5,179.2 399.3,179.7 400.7,179.6 430.3,172.7 457.0,166.1 471.1,163.1 487.3,159.9 542.9,149.8 647.8,131.4" stroke="url(#g18)"/>
<path d="M84.6,276.2 124.0,268.3 130.4,266.8 135.3,265.4 145.1,262.1 164.2,254.4 183.2,247.8 206.4,238.6 219.8,233.5 236.0,227.7 252.9,221.9 299.3,207.1 331.0,198.2 350.7,192.2 373.9,186.0 395.1,179.4 396.5,179.2 399.3,179.7 400.7,179.5 431.0,172.3 457.0,165.8 471.1,162.7 488.0,159.3 550.6,147.6 647.8,130.4" stroke="url(#g19)"/>
<path d="M84.6,280.9 123.3,272.1 129.7,270.5 134.6,269.1 145.1,265.3 164.2,257.3 183.2,250.3 206.4,240.7 219.8,235.4 236.7,229.1 255.0,222.6 285.2,212.5 300.0,207.7 331.7,198.5 350.7,192.6 373.9,186.2 395.1,179.5 396.5,179.3 399.3,179.6 400.7,179.4 431.0,172.0 457.0,165.4 471.8,162.1 489.4,158.5 555.6,146.0 647.8,129.4" stroke="url(#g20)"/>
<path d="M84.6,285.8 121.9,276.3 133.9,272.8 144.4,268.8 162.7,260.8 182.5,253.1 205.7,243.2 219.1,237.7 237.4,230.5 257.1,223.3 285.9,213.2 300.7,208.3 331.7,199.0 350.0,193.1 373.9,186.3 394.4,179.8 396.5,179.3 399.3,179.6 400.7,179.3 431.0,171.8 457.0,165.1 472.5,161.6 490.1,157.9 558.4,144.7 603.4,136.4 647.8,128.5" stroke="url(#g21)"/>
<path d="M84.6,290.6 98.0,287.0 121.9,280.2 129.7,277.9 135.3,275.9 145.1,271.9 163.4,263.4 181.8,256.0 207.1,244.7 226.1,236.7 250.7,227.0 282.4,215.4 305.7,207.5 331.7,199.4 349.3,193.7 371.1,187.3 394.4,179.8 396.5,179.4 399.3,179.5 400.7,179.3 457.0,164.7 472.5,161.2 490.8,157.3 569.0,141.9 609.1,134.4 647.8,127.5" stroke="url(#g22)"/>
<path d="M84.6,295.6 98.7,291.5 119.8,284.9 129.0,281.9 134.6,279.8 145.1,275.2 163.4,266.4 181.8,258.6 206.4,247.2 221.9,240.4 245.8,230.4 273.3,219.9 292.3,212.8 305.0,208.5 332.4,199.7 349.3,194.0 370.4,187.7 390.8,181.0 395.8,179.6 399.3,179.5 400.7,179.2 457.0,164.4 472.5,160.8 490.1,156.9 545.0,145.8 573.9,140.1 611.9,133.0 647.8,126.5" stroke="url(#g23)"/>
<path d="M84.6,300.6 95.2,297.3 108.5,292.9 125.4,287.0 133.9,283.8 144.4,279.0 163.4,269.5 181.8,261.3 205.7,249.7 218.4,243.9 242.3,233.4 269.0,222.6 290.9,214.3 305.0,209.2 332.4,200.1 349.3,194.3 366.9,189.0 388.0,181.9 395.8,179.7 399.3,179.4 400.7,179.1 458.4,163.7 489.4,156.6 546.4,144.7 575.3,139.0 612.6,131.9 647.8,125.6" stroke="url(#g24)"/>
<path d="M84.6,305.6 94.5,302.4 106.4,298.2 124.0,291.6 133.2,287.9 144.4,282.5 163.4,272.5 181.8,263.9 204.3,252.6 215.5,247.2 239.5,236.3 265.5,225.2 289.5,215.7 305.0,209.9 348.6,194.9 366.9,189.2 386.6,182.4 395.8,179.7 399.3,179.3 400.7,179.0 457.7,163.6 473.2,159.8 490.1,155.9 548.5,143.6 577.4,137.7 614.0,130.7 647.8,124.6" stroke="url(#g25)"/>
<path d="M84.6,310.8 94.5,307.4 105.7,303.1 122.6,296.3 132.5,292.1 143.7,286.5 164.2,275.3 181.8,266.6 213.4,250.3 238.1,238.5 263.4,227.4 288.1,217.2 305.0,210.7 348.6,195.3 366.9,189.4 385.2,182.9 395.1,180.0 400.0,179.1 457.0,163.4 472.5,159.5 490.1,155.4 549.2,142.7 578.1,136.7 614.7,129.6 647.8,123.6" stroke="url(#g26)"/>
<path d="M84.6,316.0 93.8,312.6 105.0,308.1 121.9,300.9 131.8,296.4 143.7,290.1 164.2,278.5 181.8,269.3 207.8,255.3 230.3,243.9 251.4,234.0 274.7,223.7 297.9,214.1 311.3,209.0 350.0,195.1 366.2,189.9 384.5,183.3 390.1,181.5 395.8,179.9 400.0,179.1 454.9,163.6 474.6,158.6 504.2,151.8 570.4,137.5 609.1,129.8 647.8,122.6" stroke="url(#g27)"/>
<path d="M84.6,321.3 94.5,317.4 105.0,312.9 120.5,305.9 131.1,300.8 143.7,293.8 164.2,281.7 181.8,272.1 207.1,257.9 228.9,246.4 249.3,236.4 273.3,225.5 297.2,215.2 312.0,209.4 349.3,195.7 366.2,190.1 384.5,183.3 388.7,182.0 395.8,180.0 400.0,179.0 454.2,163.5 475.3,158.0 504.2,151.2 572.5,136.2 610.5,128.6 647.8,121.7" stroke="url(#g28)"/>
<path d="M84.6,326.6 94.5,322.5 105.0,317.7 120.5,310.2 131.1,304.8 143.0,297.9 164.2,284.9 206.4,260.5 227.5,249.0 247.9,238.6 272.6,226.9 297.2,216.0 312.7,209.8 348.6,196.3 366.2,190.3 383.8,183.7 388.0,182.3 453.5,163.4 475.3,157.6 504.2,150.6 552.8,139.6 573.2,135.2 611.2,127.5 647.8,120.7" stroke="url(#g29)"/>
<path d="M84.6,332.0 93.8,328.0 104.3,322.9 119.1,315.4 130.4,309.3 143.0,301.7 164.2,288.1 205.0,263.6 226.1,251.7 245.8,241.2 270.5,229.0 295.8,217.4 312.7,210.4 346.5,197.4 366.2,190.5 387.3,182.6 452.1,163.5 474.6,157.4 504.2,150.1 553.5,138.7 573.2,134.3 611.2,126.5 647.8,119.7" stroke="url(#g30)"/>
<path d="M84.6,337.4 93.8,333.2 104.3,327.9 118.4,320.3 129.7,313.9 143.0,305.5 164.9,291.0 203.6,266.8 224.0,254.8 243.7,243.8 268.3,231.2 294.4,218.9 312.0,211.3 344.4,198.6 353.5,195.1 366.2,190.7 386.6,182.9 450.7,163.6 474.6,156.9 504.2,149.5 553.5,137.9 573.9,133.3 611.2,125.6 647.8,118.8" stroke="url(#g31)"/>
<path d="M84.6,343.0 93.8,338.5 103.6,333.2 117.7,325.3 129.0,318.6 142.3,309.8 164.9,294.2 202.2,270.1 221.9,257.9 241.6,246.6 254.3,239.7 266.9,233.1 280.3,226.4 293.0,220.3 312.0,212.0 341.6,200.0 352.8,195.7 366.2,190.9 386.6,182.9 395.8,180.3 402.8,177.8 449.3,163.7 473.2,156.9 504.2,149.0 553.5,137.2 573.9,132.5 589.4,129.1 611.2,124.7 647.8,117.8" stroke="url(#g32)"/>
<path d="M84.6,348.6 93.8,343.8 103.6,338.3 117.0,330.3 128.2,323.2 142.3,313.7 164.9,297.5 197.9,275.3 215.5,263.9 234.6,252.3 257.1,239.5 281.0,227.0 301.4,217.2 323.3,207.9 347.2,198.2 366.2,191.1 385.2,183.5 395.8,180.4 401.4,178.1 416.2,173.5 451.4,162.7 466.2,158.4 483.8,153.6 502.1,148.9 553.5,136.4 571.1,132.3 588.7,128.4 609.8,124.0 629.5,120.2 647.8,116.8" stroke="url(#g33)"/>
<path d="M84.6,354.2 93.0,349.6 102.9,343.7 115.6,335.8 126.8,328.4 141.6,318.1 164.9,300.8 196.5,278.7 214.1,266.9 233.1,254.9 255.7,241.7 278.9,229.1 300.0,218.6 321.1,209.3 346.5,198.8 366.2,191.3 385.2,183.6 395.8,180.5 400.7,178.3 414.1,174.0 450.0,162.8 465.5,158.3 483.1,153.4 502.1,148.4 553.5,135.6 571.1,131.5 588.0,127.6 609.1,123.2 629.5,119.2 647.8,115.9" stroke="url(#g34)"/>
<path d="M84.6,360.0 93.0,355.0 102.2,349.3 125.4,333.7 140.9,322.5 164.9,304.1 193.7,283.3 212.0,270.5 231.0,258.0 242.3,251.0 253.6,244.2 276.1,231.6 297.9,220.4 307.8,215.8 319.0,210.7 345.8,199.4 366.2,191.6 385.2,183.7 395.8,180.6 399.3,178.8 402.8,177.5 447.9,163.2 464.1,158.3 482.4,153.1 501.4,148.0 553.5,134.9 571.1,130.6 588.0,126.8 609.1,122.3 629.5,118.3 647.8,114.9" stroke="url(#g35)"/>
<path d="M84.6,365.7 92.3,361.0 101.5,354.9 124.0,339.1 137.4,329.1 164.2,307.9 190.2,288.4 209.2,274.6 228.9,261.2 240.2,253.9 251.4,246.9 262.7,240.2 274.0,233.8 285.9,227.3 296.5,221.9 306.4,217.1 317.6,211.9 344.4,200.4 366.2,191.8 385.2,183.7 395.8,180.6 399.3,178.7 402.8,177.4 446.5,163.3 463.4,158.1 482.4,152.7 501.4,147.5 553.5,134.1 571.1,129.8 588.0,125.9 609.1,121.4 629.5,117.3 647.8,113.9" stroke="url(#g36)"/>
<path d="M84.6,371.6 91.6,367.0 100.1,361.1 121.2,345.6 135.3,334.7 164.2,311.2 186.0,294.3 207.1,278.4 227.5,264.0 238.8,256.4 250.0,249.2 261.3,242.3 272.6,235.7 283.8,229.4 295.1,223.4 305.7,218.1 316.9,212.8 343.7,201.0 366.2,192.0 385.2,183.8 395.8,180.6 399.3,178.7 402.1,177.6 445.0,163.5 463.4,157.8 482.4,152.2 502.1,146.7 554.2,133.2 571.8,128.8 588.7,124.8 609.8,120.3 629.5,116.3 647.8,113.0" stroke="url(#g37)"/>
<path d="M84.6,377.5 98.7,367.5 117.0,353.4 132.5,341.0 160.6,317.3 174.0,306.5 202.9,283.8 214.1,275.4 225.4,267.3 236.7,259.5 247.9,252.0 259.2,244.8 270.5,238.0 282.4,231.1 293.7,224.9 304.2,219.5 315.5,214.0 342.3,202.0 352.1,197.8 366.2,192.3 385.2,183.8 395.8,180.7 399.3,178.6 402.1,177.5 428.9,168.5 462.6,157.6 481.7,151.9 501.4,146.4 554.2,132.4 571.8,127.9 588.7,123.9 609.8,119.4 629.5,115.4 647.8,112.0" stroke="url(#g38)"/>
<path d="M84.6,383.5 99.4,372.2 121.2,354.5 133.9,343.9 162.7,318.8 184.6,300.8 204.3,285.0 222.6,271.2 234.6,262.6 245.8,254.9 257.1,247.5 268.3,240.4 280.3,233.3 291.6,226.9 302.8,220.9 314.1,215.3 326.1,209.6 340.2,203.3 351.4,198.4 366.2,192.5 384.5,184.1 388.0,182.9 395.8,180.7 399.3,178.5 402.1,177.4 428.2,168.5 461.9,157.5 481.7,151.5 501.4,145.8 554.2,131.6 571.8,127.1 588.7,123.0 609.8,118.4 629.5,114.4 647.8,111.0" stroke="url(#g39)"/>
<path d="M84.6,389.6 98.7,378.2 119.8,360.1 133.2,348.4 159.9,324.4 172.6,313.5 199.4,291.2 220.5,274.7 232.4,265.8 243.7,257.8 255.0,250.1 266.9,242.4 278.9,235.0 290.9,228.1 302.1,221.9 313.4,216.2 324.7,210.8 338.0,204.6 350.7,199.1 366.2,192.8 384.5,184.1 388.0,182.9 395.8,180.8 399.3,178.5 402.1,177.3 428.2,168.3 461.2,157.3 481.7,151.0 501.4,145.3 554.2,130.8 571.8,126.3 588.7,122.1 609.8,117.5 629.5,113.5 647.8,110.1" stroke="url(#g40)"/>
<path d="M84.6,395.7 95.9,386.0 111.4,372.2 131.1,354.3 157.8,329.5 168.4,320.0 195.8,296.4 217.0,279.3 228.9,270.1 240.9,261.2 252.9,252.8 264.8,244.9 276.8,237.3 288.8,230.1 300.0,223.8 312.0,217.5 323.3,211.9 335.9,206.0 350.0,199.7 366.9,192.7 384.5,184.2 388.0,183.0 395.8,180.8 399.3,178.4 402.1,177.2 428.2,168.1 460.5,157.2 481.0,150.8 501.4,144.7 554.2,130.1 571.8,125.4 588.7,121.3 609.8,116.6 629.5,112.5 647.8,109.1" stroke="url(#g41)"/>
<path d="M84.6,401.9 102.9,385.0 153.6,336.6 164.9,326.1 191.6,302.3 202.9,292.7 214.1,283.4 226.8,273.4 238.8,264.3 250.7,255.6 262.7,247.4 274.7,239.6 287.4,231.8 299.3,224.9 310.6,218.8 321.8,213.1 333.8,207.4 348.6,200.6 366.2,193.1 384.5,184.2 388.0,183.0 395.8,180.8 397.2,180.0 399.3,178.3 402.1,177.1 428.2,167.9 459.1,157.3 480.2,150.6 501.4,144.2 554.2,129.3 571.8,124.6 588.7,120.4 609.8,115.6 629.5,111.5 647.8,108.1" stroke="url(#g42)"/>
<path d="M84.6,408.1 96.6,396.4 147.3,346.0 162.0,331.6 173.3,321.1 188.1,307.7 200.1,297.2 210.6,288.2 223.3,277.8 236.0,267.9 248.6,258.4 260.6,249.9 272.6,241.9 285.2,233.9 297.2,226.8 309.2,220.1 319.7,214.6 331.7,208.8 345.8,202.2 366.2,193.2 384.5,184.2 388.0,183.0 395.1,181.1 396.5,180.5 399.3,178.3 401.4,177.3 428.2,167.6 458.4,157.2 480.2,150.1 501.4,143.7 528.1,136.1 554.2,128.5 571.8,123.8 588.7,119.5 609.8,114.7 629.5,110.6 647.8,107.1" stroke="url(#g43)"/>
<path d="M84.6,414.4 124.7,372.3 157.1,339.3 168.4,328.3 181.8,315.7 194.4,304.2 206.4,293.6 219.8,282.3 232.4,272.1 245.1,262.3 257.8,253.0 270.5,244.2 283.1,236.0 295.8,228.3 307.8,221.5 318.3,215.8 330.3,209.9 343.0,203.9 366.2,193.3 383.8,184.5 387.3,183.2 395.8,180.9 397.2,180.0 399.3,178.2 402.1,176.9 428.2,167.4 457.7,157.1 480.2,149.7 501.4,143.1 528.1,135.5 554.9,127.6 571.8,122.9 588.7,118.6 609.8,113.8 629.5,109.6 647.8,106.2" stroke="url(#g44)"/>
<path d="M84.6,420.8 119.8,381.6 137.4,362.6 151.5,347.8 163.4,335.7 175.4,324.0 189.5,310.7 202.2,299.2 215.5,287.5 228.9,276.3 242.3,265.7 255.0,256.1 268.3,246.6 281.0,238.1 293.7,230.2 306.4,222.8 317.6,216.7 329.6,210.6 349.3,201.1 366.2,193.4 383.8,184.6 387.3,183.3 395.1,181.1 396.5,180.5 399.3,178.1 401.4,177.1 428.2,167.2 457.0,157.0 479.5,149.5 501.4,142.6 528.1,134.8 554.9,126.8 571.8,122.1 588.7,117.7 609.8,112.8 629.5,108.7 647.8,105.2" stroke="url(#g45)"/>
<path d="M84.6,427.2 102.2,406.1 115.6,390.4 129.7,374.4 144.4,358.2 157.1,344.7 169.8,331.8 183.9,318.0 197.9,304.8 211.3,292.7 225.4,280.6 238.8,269.7 252.2,259.3 265.5,249.5 278.9,240.3 292.3,231.7 305.0,224.2 317.6,217.2 336.6,207.3 350.7,200.5 366.2,193.4 383.8,184.6 387.3,183.3 395.1,181.2 396.5,180.5 399.3,178.1 401.4,177.0 428.2,167.0 455.6,157.2 478.8,149.3 500.7,142.2 528.8,134.0 554.9,126.0 571.8,121.2 588.7,116.8 609.8,111.9 629.5,107.7 647.8,104.2" stroke="url(#g46)"/>
<path d="M84.6,433.8 99.4,414.6 112.1,398.7 124.7,383.5 138.1,368.1 151.5,353.2 164.2,339.8 178.2,325.5 192.3,311.8 206.4,298.6 220.5,286.1 234.6,274.2 248.6,263.0 262.7,252.4 276.1,242.9 289.5,234.1 302.8,225.9 319.7,216.3 333.8,208.8 348.6,201.6 366.2,193.4 383.1,184.9 387.3,183.3 395.1,181.2 396.5,180.5 399.3,178.0 401.4,176.9 428.2,166.8 453.5,157.6 478.1,149.0 500.7,141.7 528.8,133.3 554.9,125.2 571.1,120.6 588.0,116.1 609.1,111.1 629.5,106.7 647.8,103.3" stroke="url(#g47)"/>
<path d="M84.6,440.3 97.3,422.5 109.2,406.4 121.2,391.1 133.9,375.7 147.3,360.3 160.6,345.5 174.7,330.8 189.5,316.0 204.3,301.9 219.1,288.5 233.8,275.9 247.9,264.4 262.0,253.7 275.4,244.1 292.3,232.9 305.7,224.5 319.7,216.4 334.5,208.5 349.3,201.3 366.2,193.5 383.8,184.6 387.3,183.3 395.1,181.2 396.5,180.5 399.3,177.9 401.4,176.9 428.2,166.5 457.0,156.0 480.2,147.9 501.4,140.9 528.8,132.7 554.9,124.5 572.5,119.4 588.7,115.0 610.5,109.9 630.2,105.6 647.8,102.3" stroke="url(#g48)"/>
<path d="M84.6,447.0 94.5,431.5 105.0,416.0 116.3,400.5 128.2,385.0 140.9,369.5 153.6,355.0 167.7,339.6 181.8,325.0 196.5,310.4 212.0,295.8 227.5,282.0 243.0,269.0 257.8,257.3 272.6,246.4 287.4,236.2 302.1,226.7 316.9,218.0 332.4,209.7 347.9,202.0 366.2,193.5 383.1,184.9 387.3,183.3 395.1,181.2 396.5,180.5 399.3,177.9 401.4,176.8 428.2,166.3 454.9,156.4 478.8,147.9 500.7,140.6 528.8,132.0 554.9,123.7 571.8,118.7 588.7,114.1 609.8,109.1 629.5,104.8 647.8,101.3" stroke="url(#g49)"/>
</g>
<g clip-path="url(#clipA0)" fill="#5aab63" stroke="none">
<path d="M202.2,301.3 215.5,289.0 216.2,287.3 225.4,279.5 226.1,277.5 232.4,272.4 233.1,270.4 237.4,267.1 238.1,265.2 241.6,262.5 242.3,260.6 244.4,259.0 245.1,257.1 247.2,255.6 247.9,253.8 248.6,253.3 249.3,251.4 250.0,250.9 250.7,249.1 251.4,248.6 252.9,245.0 253.6,240.4 254.3,228.8 255.7,214.3 297.9,203.0 328.9,195.7 350.7,189.8 370.4,185.2 378.9,183.0 386.6,180.1 400.7,175.9 439.4,161.0 464.1,152.0 485.2,144.7 504.2,138.4 566.8,119.0 585.8,113.8 606.3,108.8 628.1,104.0 647.8,100.2 647.8,135.4 583.7,146.3 522.5,156.4 468.3,165.9 454.9,168.7 430.3,174.5 401.4,180.8 388.0,184.7 383.1,186.4 379.6,187.8 366.2,194.6 345.8,204.1 328.2,213.0 307.8,224.4 288.1,236.8 277.5,244.0 266.9,251.6 256.4,259.5 245.1,268.4 233.8,277.7 222.6,287.5 202.2,306.3Z"/>
</g>
<clipPath id="clipB0"><rect x="885.60" y="63.60" width="563.60" height="394.20"/></clipPath>
<defs><linearGradient id="g50" gradientUnits="userSpaceOnUse" x1="885.6" y1="0" x2="1449.2" y2="0"><stop offset="0.000" stop-color="#ff7f00"/><stop offset="0.650" stop-color="#ff7f00"/><stop offset="0.663" stop-color="#ff8200"/><stop offset="0.675" stop-color="#ff7f00"/><stop offset="1.000" stop-color="#ff7f00"/></linearGradient><linearGradient id="g51" gradientUnits="userSpaceOnUse" x1="885.6" y1="0" x2="1449.2" y2="0"><stop offset="0.000" stop-color="#ff7f00"/><stop offset="0.650" stop-color="#ff7f00"/><stop offset="0.663" stop-color="#ff8200"/><stop offset="0.675" stop-color="#ff8500"/><stop offset="0.688" stop-color="#ff7f00"/><stop offset="1.000" stop-color="#ff7f00"/></linearGradient><linearGradient id="g52" gradientUnits="userSpaceOnUse" x1="885.6" y1="0" x2="1449.2" y2="0"><stop offset="0.000" stop-color="#ff7f00"/><stop offset="0.663" stop-color="#ff7f00"/><stop offset="0.675" stop-color="#ff8500"/><stop offset="0.688" stop-color="#ff8500"/><stop offset="0.700" stop-color="#ff7f00"/><stop offset="1.000" stop-color="#ff7f00"/></linearGradient><linearGradient id="g53" gradientUnits="userSpaceOnUse" x1="885.6" y1="0" x2="1449.2" y2="0"><stop offset="0.000" stop-color="#ff7f00"/><stop offset="0.675" stop-color="#ff7f00"/><stop offset="0.688" stop-color="#ff8c00"/><stop offset="0.700" stop-color="#ff7f00"/><stop offset="1.000" stop-color="#ff7f00"/></linearGradient><linearGradient id="g54" gradientUnits="userSpaceOnUse" x1="885.6" y1="0" x2="1449.2" y2="0"><stop offset="0.000" stop-color="#ff7f00"/><stop offset="0.688" stop-color="#ff7f00"/><stop offset="0.700" stop-color="#ff8a00"/><stop offset="0.712" stop-color="#ff7f00"/><stop offset="1.000" stop-color="#ff7f00"/></linearGradient><linearGradient id="g55" gradientUnits="userSpaceOnUse" x1="885.6" y1="0" x2="1449.2" y2="0"><stop offset="0.000" stop-color="#ff7f00"/><stop offset="0.688" stop-color="#ff7f00"/><stop offset="0.700" stop-color="#ff8500"/><stop offset="0.712" stop-color="#ff8c00"/><stop offset="0.725" stop-color="#ff7f00"/><stop offset="1.000" stop-color="#ff7f00"/></linearGradient><linearGradient id="g56" gradientUnits="userSpaceOnUse" x1="885.6" y1="0" x2="1449.2" y2="0"><stop offset="0.000" stop-color="#ff7f00"/><stop offset="0.700" stop-color="#ff7f00"/><stop offset="0.712" stop-color="#ff9700"/><stop offset="0.725" stop-color="#ff7f00"/><stop offset="1.000" stop-color="#ff7f00"/></linearGradient><linearGradient id="g57" gradientUnits="userSpaceOnUse" x1="885.6" y1="0" x2="1449.2" y2="0"><stop offset="0.000" stop-color="#ff7f00"/><stop offset="0.700" stop-color="#ff7f00"/><stop offset="0.712" stop-color="#ff8900"/><stop offset="0.725" stop-color="#ff8f00"/><stop offset="0.738" stop-color="#ff8200"/><stop offset="0.762" stop-color="#ff7f00"/><stop offset="0.950" stop-color="#ff8100"/><stop offset="1.000" stop-color="#ff8200"/></linearGradient><linearGradient id="g58" gradientUnits="userSpaceOnUse" x1="885.6" y1="0" x2="1449.2" y2="0"><stop offset="0.000" stop-color="#ff7f00"/><stop offset="0.712" stop-color="#ff7f00"/><stop offset="0.725" stop-color="#ff9900"/><stop offset="0.738" stop-color="#ff8500"/><stop offset="0.750" stop-color="#ff8200"/><stop offset="0.775" stop-color="#ff7f00"/><stop offset="0.963" stop-color="#ff8100"/><stop offset="1.000" stop-color="#ff8200"/></linearGradient><linearGradient id="g59" gradientUnits="userSpaceOnUse" x1="885.6" y1="0" x2="1449.2" y2="0"><stop offset="0.000" stop-color="#ff7f00"/><stop offset="0.712" stop-color="#ff7f00"/><stop offset="0.725" stop-color="#ff8d00"/><stop offset="0.738" stop-color="#ff9500"/><stop offset="0.750" stop-color="#ff8800"/><stop offset="0.762" stop-color="#ff8600"/><stop offset="0.775" stop-color="#ff8400"/><stop offset="0.850" stop-color="#ff8200"/><stop offset="1.000" stop-color="#ff8200"/></linearGradient><linearGradient id="g60" gradientUnits="userSpaceOnUse" x1="885.6" y1="0" x2="1449.2" y2="0"><stop offset="0.000" stop-color="#ff7f00"/><stop offset="0.725" stop-color="#ff7f00"/><stop offset="0.738" stop-color="#ff9900"/><stop offset="0.750" stop-color="#ff8900"/><stop offset="0.762" stop-color="#ff8600"/><stop offset="0.775" stop-color="#ff8400"/><stop offset="0.850" stop-color="#ff8200"/><stop offset="1.000" stop-color="#ff8200"/></linearGradient><linearGradient id="g61" gradientUnits="userSpaceOnUse" x1="885.6" y1="0" x2="1449.2" y2="0"><stop offset="0.000" stop-color="#ff7f00"/><stop offset="0.725" stop-color="#ff7f00"/><stop offset="0.738" stop-color="#ff9200"/><stop offset="0.750" stop-color="#ff9800"/><stop offset="0.762" stop-color="#ff8b00"/><stop offset="0.775" stop-color="#ff8900"/><stop offset="0.787" stop-color="#ff8800"/><stop offset="1.000" stop-color="#ff8800"/></linearGradient><linearGradient id="g62" gradientUnits="userSpaceOnUse" x1="885.6" y1="0" x2="1449.2" y2="0"><stop offset="0.000" stop-color="#ff7f00"/><stop offset="0.725" stop-color="#ff7f00"/><stop offset="0.738" stop-color="#ff8200"/><stop offset="0.750" stop-color="#ff9900"/><stop offset="0.762" stop-color="#ff8f00"/><stop offset="0.775" stop-color="#ff8c00"/><stop offset="0.787" stop-color="#ff8a00"/><stop offset="0.850" stop-color="#ff8800"/><stop offset="1.000" stop-color="#ff8800"/></linearGradient><linearGradient id="g63" gradientUnits="userSpaceOnUse" x1="885.6" y1="0" x2="1449.2" y2="0"><stop offset="0.000" stop-color="#ff8100"/><stop offset="0.738" stop-color="#ff8100"/><stop offset="0.750" stop-color="#ff9700"/><stop offset="0.775" stop-color="#ff8f00"/><stop offset="0.787" stop-color="#ff8c00"/><stop offset="0.800" stop-color="#ff8b00"/><stop offset="0.850" stop-color="#ff8900"/><stop offset="1.000" stop-color="#ff8800"/></linearGradient><linearGradient id="g64" gradientUnits="userSpaceOnUse" x1="885.6" y1="0" x2="1449.2" y2="0"><stop offset="0.000" stop-color="#ff8300"/><stop offset="0.738" stop-color="#ff8300"/><stop offset="0.750" stop-color="#ff8500"/><stop offset="0.762" stop-color="#ff9900"/><stop offset="0.775" stop-color="#ff9300"/><stop offset="0.787" stop-color="#ff9000"/><stop offset="0.800" stop-color="#ff8e00"/><stop offset="1.000" stop-color="#ff8d00"/></linearGradient><linearGradient id="g65" gradientUnits="userSpaceOnUse" x1="885.6" y1="0" x2="1449.2" y2="0"><stop offset="0.000" stop-color="#ff8700"/><stop offset="0.750" stop-color="#ff8700"/><stop offset="0.762" stop-color="#ff9900"/><stop offset="0.775" stop-color="#ff9900"/><stop offset="0.787" stop-color="#ff9100"/><stop offset="0.800" stop-color="#ff8e00"/><stop offset="1.000" stop-color="#ff8d00"/></linearGradient><linearGradient id="g66" gradientUnits="userSpaceOnUse" x1="885.6" y1="0" x2="1449.2" y2="0"><stop offset="0.000" stop-color="#ff8b00"/><stop offset="0.750" stop-color="#ff8b00"/><stop offset="0.775" stop-color="#ff9900"/><stop offset="0.787" stop-color="#ff9500"/><stop offset="0.800" stop-color="#ff9300"/><stop offset="0.813" stop-color="#ff9100"/><stop offset="0.862" stop-color="#ff8f00"/><stop offset="1.000" stop-color="#ff8d00"/></linearGradient><linearGradient id="g67" gradientUnits="userSpaceOnUse" x1="885.6" y1="0" x2="1449.2" y2="0"><stop offset="0.000" stop-color="#ff8e00"/><stop offset="0.762" stop-color="#ff8e00"/><stop offset="0.775" stop-color="#ff9900"/><stop offset="0.800" stop-color="#ff9400"/><stop offset="0.813" stop-color="#ff9200"/><stop offset="0.862" stop-color="#ff9000"/><stop offset="0.975" stop-color="#ff8d00"/><stop offset="1.000" stop-color="#ff8d00"/></linearGradient><linearGradient id="g68" gradientUnits="userSpaceOnUse" x1="885.6" y1="0" x2="1449.2" y2="0"><stop offset="0.000" stop-color="#ff8f00"/><stop offset="0.762" stop-color="#ff8f00"/><stop offset="0.775" stop-color="#ff9600"/><stop offset="0.787" stop-color="#ff9900"/><stop offset="0.800" stop-color="#ff9600"/><stop offset="0.813" stop-color="#ff9400"/><stop offset="0.862" stop-color="#ff9200"/><stop offset="1.000" stop-color="#ff9000"/></linearGradient><linearGradient id="g69" gradientUnits="userSpaceOnUse" x1="885.6" y1="0" x2="1449.2" y2="0"><stop offset="0.000" stop-color="#ff9000"/><stop offset="0.775" stop-color="#ff9000"/><stop offset="0.787" stop-color="#ff9900"/><stop offset="0.800" stop-color="#ff9700"/><stop offset="0.825" stop-color="#ff9400"/><stop offset="0.900" stop-color="#ff9200"/><stop offset="1.000" stop-color="#ff9100"/></linearGradient><linearGradient id="g70" gradientUnits="userSpaceOnUse" x1="885.6" y1="0" x2="1449.2" y2="0"><stop offset="0.000" stop-color="#ff9200"/><stop offset="0.775" stop-color="#ff9200"/><stop offset="0.787" stop-color="#ff9900"/><stop offset="0.800" stop-color="#ff9900"/><stop offset="0.825" stop-color="#ff9600"/><stop offset="0.900" stop-color="#ff9400"/><stop offset="1.000" stop-color="#ff9300"/></linearGradient><linearGradient id="g71" gradientUnits="userSpaceOnUse" x1="885.6" y1="0" x2="1449.2" y2="0"><stop offset="0.000" stop-color="#ff9200"/><stop offset="0.775" stop-color="#ff9200"/><stop offset="0.787" stop-color="#ff9900"/><stop offset="0.800" stop-color="#ff9900"/><stop offset="0.825" stop-color="#ff9600"/><stop offset="0.900" stop-color="#ff9400"/><stop offset="1.000" stop-color="#ff9500"/></linearGradient><linearGradient id="g72" gradientUnits="userSpaceOnUse" x1="885.6" y1="0" x2="1449.2" y2="0"><stop offset="0.000" stop-color="#ff9100"/><stop offset="0.775" stop-color="#ff9100"/><stop offset="0.787" stop-color="#ff9400"/><stop offset="0.800" stop-color="#ff9900"/><stop offset="0.825" stop-color="#ff9700"/><stop offset="1.000" stop-color="#ff9600"/></linearGradient><linearGradient id="g73" gradientUnits="userSpaceOnUse" x1="885.6" y1="0" x2="1449.2" y2="0"><stop offset="0.000" stop-color="#ff9100"/><stop offset="0.787" stop-color="#ff9100"/><stop offset="0.800" stop-color="#ff9900"/><stop offset="0.825" stop-color="#ff9700"/><stop offset="1.000" stop-color="#ff9800"/></linearGradient><linearGradient id="g74" gradientUnits="userSpaceOnUse" x1="885.6" y1="0" x2="1449.2" y2="0"><stop offset="0.000" stop-color="#ff9000"/><stop offset="0.787" stop-color="#ff9000"/><stop offset="0.800" stop-color="#ff9900"/><stop offset="0.813" stop-color="#ff9800"/><stop offset="0.825" stop-color="#ff9700"/><stop offset="1.000" stop-color="#ff9900"/></linearGradient><linearGradient id="g75" gradientUnits="userSpaceOnUse" x1="885.6" y1="0" x2="1449.2" y2="0"><stop offset="0.000" stop-color="#ff9000"/><stop offset="0.787" stop-color="#ff9000"/><stop offset="0.800" stop-color="#ff9900"/><stop offset="0.813" stop-color="#ff9900"/><stop offset="0.825" stop-color="#ff9700"/><stop offset="1.000" stop-color="#ff9900"/></linearGradient><linearGradient id="g76" gradientUnits="userSpaceOnUse" x1="885.6" y1="0" x2="1449.2" y2="0"><stop offset="0.000" stop-color="#ff9800"/><stop offset="0.800" stop-color="#ff9800"/><stop offset="0.813" stop-color="#ff9900"/><stop offset="1.000" stop-color="#ff9900"/></linearGradient><linearGradient id="g77" gradientUnits="userSpaceOnUse" x1="885.6" y1="0" x2="1449.2" y2="0"><stop offset="0.000" stop-color="#ff9800"/><stop offset="0.800" stop-color="#ff9800"/><stop offset="0.813" stop-color="#ff9900"/><stop offset="1.000" stop-color="#ff9900"/></linearGradient><linearGradient id="g78" gradientUnits="userSpaceOnUse" x1="885.6" y1="0" x2="1449.2" y2="0"><stop offset="0.000" stop-color="#ff9800"/><stop offset="0.800" stop-color="#ff9800"/><stop offset="0.813" stop-color="#ff9900"/><stop offset="1.000" stop-color="#ff9900"/></linearGradient><linearGradient id="g79" gradientUnits="userSpaceOnUse" x1="885.6" y1="0" x2="1449.2" y2="0"><stop offset="0.000" stop-color="#ff7f00"/><stop offset="0.888" stop-color="#ff7f00"/><stop offset="0.900" stop-color="#ff8200"/><stop offset="0.912" stop-color="#ff8600"/><stop offset="0.925" stop-color="#ff8a00"/><stop offset="0.937" stop-color="#ff8e00"/><stop offset="0.950" stop-color="#ff9200"/><stop offset="0.963" stop-color="#ff9600"/><stop offset="0.975" stop-color="#ff9900"/><stop offset="1.000" stop-color="#ff9900"/></linearGradient></defs>
<g clip-path="url(#clipB0)" fill="none" stroke-width="2.1" stroke-linejoin="round">
<path d="M885.6,410.3 1175.9,410.3 1176.6,410.3 1181.5,402.9 1182.2,402.1 1190.6,398.3 1197.7,395.5 1207.6,392.1 1218.8,388.8 1238.6,383.8 1255.5,379.9 1270.3,376.9 1285.8,374.1 1320.3,368.7 1397.1,357.9 1422.4,354.7 1449.2,351.6" stroke="#ff7f00"/>
<path d="M885.6,387.8 1187.8,387.8 1188.5,387.4 1193.5,380.3 1201.2,377.0 1208.3,374.2 1217.4,371.2 1228.7,368.0 1247.7,363.4 1263.9,359.8 1278.0,357.0 1292.8,354.4 1325.9,349.4 1399.2,339.6 1423.8,336.6 1449.2,333.8" stroke="#ff7f00"/>
<path d="M885.6,368.2 1199.1,368.2 1204.0,361.2 1210.4,358.4 1218.1,355.4 1227.3,352.4 1237.8,349.4 1256.2,345.0 1271.7,341.6 1285.1,339.0 1299.1,336.6 1331.5,331.7 1401.3,322.5 1449.2,316.9" stroke="#ff7f00"/>
<path d="M885.6,350.2 1210.4,350.2 1211.1,350.1 1215.3,344.0 1216.0,343.3 1223.1,340.3 1229.4,337.8 1237.8,335.0 1247.7,332.3 1265.3,328.0 1280.1,324.8 1292.8,322.3 1306.2,320.0 1337.2,315.3 1403.4,306.5 1449.2,301.2" stroke="#ff7f00"/>
<path d="M885.6,334.6 1221.6,334.6 1225.9,328.7 1226.6,328.1 1238.6,323.4 1246.3,320.8 1256.2,318.1 1272.4,314.3 1287.2,311.1 1312.5,306.5 1341.4,302.3 1405.5,294.0 1449.2,289.1" stroke="#ff7f00"/>
<path d="M885.6,320.8 1230.1,320.8 1230.8,320.3 1235.0,314.8 1247.0,310.1 1254.8,307.7 1263.9,305.3 1279.4,301.7 1293.5,298.7 1317.5,294.5 1345.6,290.5 1406.9,282.7 1449.2,278.0" stroke="#ff7f00"/>
<path d="M885.6,308.0 1238.6,307.9 1242.8,302.2 1254.1,297.8 1261.1,295.5 1270.3,293.0 1285.8,289.4 1299.1,286.6 1322.4,282.4 1349.2,278.6 1408.3,271.0 1449.2,266.5" stroke="#ff7f00"/>
<path d="M885.6,296.5 1245.6,296.5 1246.3,296.2 1249.8,291.3 1250.5,290.8 1261.8,286.4 1268.8,284.2 1277.3,281.9 1292.1,278.5 1304.8,275.8 1327.3,271.8 1353.4,268.1 1410.5,260.8 1449.2,256.5" stroke="#ff7f00"/>
<path d="M885.6,285.8 1253.3,285.8 1254.1,285.2 1257.6,280.4 1268.8,276.0 1275.9,273.8 1284.3,271.5 1298.4,268.2 1310.4,265.7 1332.3,261.8 1356.9,258.3 1411.9,251.2 1449.2,247.0" stroke="url(#g50)"/>
<path d="M885.6,276.1 1260.4,276.1 1261.1,275.5 1264.6,270.8 1275.2,266.7 1281.5,264.6 1290.0,262.4 1303.4,259.2 1315.3,256.7 1336.5,252.9 1360.4,249.5 1413.3,242.6 1449.2,238.6" stroke="url(#g51)"/>
<path d="M885.6,267.0 1266.7,267.0 1267.4,266.3 1270.3,262.5 1271.0,261.9 1280.8,258.1 1287.2,256.0 1294.9,254.0 1308.3,250.9 1319.6,248.5 1340.0,244.9 1363.3,241.6 1414.0,235.2 1449.2,231.3" stroke="url(#g52)"/>
<path d="M885.6,259.0 1271.7,259.0 1272.4,258.5 1275.2,254.6 1275.9,254.1 1285.1,250.5 1291.4,248.5 1299.1,246.4 1311.8,243.5 1323.1,241.2 1342.8,237.7 1365.4,234.5 1415.4,228.1 1449.2,224.4" stroke="url(#g53)"/>
<path d="M885.6,251.5 1275.9,251.5 1276.6,251.3 1280.1,246.7 1290.0,242.9 1296.3,240.9 1303.4,239.1 1316.0,236.1 1326.6,233.9 1345.6,230.6 1367.5,227.4 1416.1,221.3 1449.2,217.6" stroke="url(#g54)"/>
<path d="M885.6,243.9 1280.8,243.9 1281.5,243.2 1284.3,239.4 1293.5,235.7 1299.8,233.7 1306.9,231.8 1318.9,229.0 1329.4,226.8 1347.8,223.5 1369.6,220.4 1416.8,214.4 1449.2,210.8" stroke="url(#g55)"/>
<path d="M885.6,237.8 1284.3,237.8 1285.1,237.5 1287.9,233.6 1288.6,233.1 1297.7,229.6 1303.4,227.8 1310.4,225.9 1322.4,223.2 1332.3,221.1 1350.6,217.9 1371.7,214.8 1417.5,209.0 1449.2,205.5" stroke="url(#g56)"/>
<path d="M885.6,231.5 1288.6,231.5 1292.1,227.1 1300.6,223.7 1306.2,221.9 1313.2,220.0 1325.2,217.2 1335.1,215.1 1352.7,211.9 1373.1,209.0 1418.2,203.2 1449.2,199.7" stroke="url(#g57)"/>
<path d="M885.6,225.6 1292.1,225.6 1292.8,225.2 1295.6,221.5 1304.8,218.0 1310.4,216.3 1316.8,214.6 1337.9,210.0 1355.5,207.0 1375.2,204.2 1418.9,198.8 1449.2,195.5" stroke="url(#g58)"/>
<path d="M885.6,220.2 1295.6,220.2 1296.3,219.8 1299.1,216.1 1307.6,212.9 1313.2,211.1 1319.6,209.5 1330.8,206.9 1340.7,204.9 1357.6,202.0 1377.3,199.3 1419.6,194.0 1449.2,190.8" stroke="url(#g59)"/>
<path d="M885.6,215.3 1299.1,215.3 1302.0,211.7 1302.7,211.2 1310.4,208.2 1316.0,206.5 1322.4,204.8 1342.8,200.4 1359.7,197.5 1378.8,194.9 1420.3,189.7 1449.2,186.6" stroke="url(#g60)"/>
<path d="M885.6,210.6 1302.0,210.6 1302.7,210.5 1305.5,206.7 1313.9,203.3 1318.9,201.8 1325.2,200.1 1344.9,195.7 1361.1,192.9 1380.2,190.2 1421.0,185.0 1449.2,181.9" stroke="url(#g61)"/>
<path d="M885.6,205.9 1306.2,205.9 1309.0,202.1 1316.8,199.1 1321.7,197.5 1328.0,195.8 1347.8,191.5 1363.3,188.8 1381.6,186.2 1421.7,181.2 1449.2,178.2" stroke="url(#g62)"/>
<path d="M885.6,201.4 1309.7,201.4 1310.4,200.8 1312.5,197.9 1313.2,197.5 1320.3,194.8 1325.2,193.2 1331.5,191.6 1350.6,187.4 1366.1,184.7 1383.7,182.3 1422.4,177.4 1449.2,174.5" stroke="url(#g63)"/>
<path d="M885.6,197.1 1313.2,197.1 1313.9,196.7 1316.0,193.9 1316.8,193.3 1323.8,190.6 1328.7,189.0 1334.4,187.6 1352.7,183.5 1367.5,181.0 1385.1,178.5 1423.1,173.7 1449.2,170.8" stroke="url(#g64)"/>
<path d="M885.6,193.0 1316.8,193.0 1317.5,192.7 1319.6,189.8 1320.3,189.3 1327.3,186.6 1332.3,185.1 1337.9,183.7 1355.5,179.9 1370.3,177.3 1387.2,175.0 1423.8,170.4 1449.2,167.7" stroke="url(#g65)"/>
<path d="M885.6,189.3 1320.3,189.3 1323.1,185.7 1330.1,182.9 1334.4,181.6 1340.0,180.1 1357.6,176.2 1371.7,173.7 1388.6,171.3 1424.5,166.7 1449.2,164.0" stroke="url(#g66)"/>
<path d="M885.6,186.0 1322.4,186.0 1323.1,185.6 1325.2,182.7 1325.9,182.2 1333.0,179.5 1342.8,176.7 1359.7,172.9 1373.8,170.4 1390.0,168.1 1425.2,163.5 1449.2,160.8" stroke="url(#g67)"/>
<path d="M885.6,182.9 1324.5,182.9 1325.2,182.6 1327.3,179.6 1328.0,179.1 1335.1,176.3 1344.9,173.5 1361.1,169.8 1374.5,167.4 1390.7,165.0 1425.2,160.4 1449.2,157.7" stroke="url(#g68)"/>
<path d="M885.6,179.9 1326.6,179.9 1327.3,179.5 1329.4,176.4 1336.5,173.5 1340.7,172.1 1346.3,170.6 1362.5,166.9 1375.9,164.4 1391.4,162.1 1426.0,157.5 1449.2,154.8" stroke="url(#g69)"/>
<path d="M885.6,177.0 1328.7,177.0 1331.5,173.4 1337.9,170.8 1342.1,169.4 1347.0,168.0 1364.0,164.0 1377.3,161.5 1392.8,159.2 1426.0,154.8 1449.2,152.1" stroke="url(#g70)"/>
<path d="M885.6,174.3 1330.1,174.3 1330.8,173.9 1333.0,170.8 1340.0,167.9 1349.2,165.2 1365.4,161.4 1378.0,159.0 1393.5,156.6 1426.7,152.1 1449.2,149.5" stroke="url(#g71)"/>
<path d="M885.6,171.1 1332.3,171.1 1333.0,170.5 1335.1,167.7 1341.4,165.1 1350.6,162.3 1366.1,158.7 1379.5,156.2 1394.2,154.0 1426.7,149.7 1449.2,147.1" stroke="url(#g72)"/>
<path d="M885.6,168.4 1333.7,168.4 1334.4,168.1 1336.5,165.1 1342.8,162.5 1347.0,161.1 1352.0,159.7 1367.5,156.2 1380.2,153.8 1395.0,151.6 1427.4,147.3 1449.2,144.8" stroke="url(#g73)"/>
<path d="M885.6,165.5 1335.8,165.5 1337.9,162.7 1338.6,162.1 1344.2,159.9 1348.5,158.5 1353.4,157.2 1368.9,153.6 1381.6,151.4 1395.7,149.3 1427.4,145.2 1449.2,142.7" stroke="url(#g74)"/>
<path d="M885.6,162.6 1337.2,162.6 1337.9,162.2 1340.0,159.5 1346.3,157.0 1354.8,154.6 1370.3,151.2 1382.3,149.1 1397.1,147.0 1428.1,143.1 1449.2,140.8" stroke="url(#g75)"/>
<path d="M885.6,158.5 1340.0,158.5 1342.1,156.0 1342.8,155.6 1348.5,153.6 1356.9,151.4 1371.7,148.4 1383.7,146.4 1397.8,144.6 1428.1,141.1 1449.2,139.0" stroke="url(#g76)"/>
<path d="M885.6,156.4 1340.7,156.4 1341.4,156.2 1343.5,153.7 1349.9,151.5 1358.3,149.3 1372.4,146.5 1384.4,144.6 1398.5,142.8 1428.8,139.4 1449.2,137.3" stroke="url(#g77)"/>
<path d="M885.6,154.3 1342.1,154.3 1342.8,153.9 1344.9,151.6 1350.6,149.7 1359.0,147.5 1373.8,144.7 1385.8,142.8 1399.2,141.2 1428.8,137.9 1449.2,135.9" stroke="url(#g78)"/>
<path d="M885.6,143.0 1353.4,143.0 1355.5,141.8 1360.4,140.9 1368.2,139.9 1380.9,138.6 1404.1,137.0 1449.2,134.6" stroke="url(#g79)"/>
</g>
<g clip-path="url(#clipB0)" fill="#ff9900" stroke="none">
<path d="M1323.8,181.8 1324.5,181.8 1324.5,186.1 1323.8,186.4Z"/>
<path d="M1325.9,178.8 1326.6,178.8 1326.6,183.0 1325.9,183.3Z"/>
<path d="M1328.0,175.9 1328.7,175.9 1328.7,179.9 1328.0,180.2Z"/>
<path d="M1330.1,173.2 1330.8,172.9 1331.5,170.1 1332.3,170.1 1332.3,174.1 1331.5,174.5 1330.8,176.8 1330.1,177.1Z"/>
<path d="M1333.7,167.3 1334.4,167.1 1335.1,164.4 1335.8,164.4 1335.8,168.4 1335.1,168.7 1334.4,171.3 1333.7,171.6Z"/>
<path d="M1337.2,161.5 1337.9,161.2 1337.9,165.5 1337.2,165.8Z"/>
<path d="M1342.1,153.2 1342.8,152.8 1344.9,150.6 1349.2,149.1 1356.9,147.0 1369.6,144.4 1380.2,142.6 1391.4,141.0 1435.8,136.1 1436.5,134.1 1449.2,133.5 1449.2,141.8 1437.2,143.1 1436.5,141.3 1402.0,145.2 1384.4,147.4 1370.3,149.7 1356.2,152.6 1348.5,154.6 1342.1,157.0Z"/>
</g>
<g clip-path="url(#clipB0)" fill="none" stroke="#d0202e" stroke-width="2.1">
<path d="M885.6,133.0 1449.2,133.0"/>
<path d="M885.6,143.0 1449.2,143.0"/>
</g>
<clipPath id="clipA1"><rect x="84.60" y="595.00" width="563.20" height="394.20"/></clipPath>
<defs><linearGradient id="g80" gradientUnits="userSpaceOnUse" x1="84.6" y1="0" x2="647.8" y2="0"><stop offset="0.000" stop-color="#20902d"/><stop offset="0.012" stop-color="#259232"/><stop offset="0.025" stop-color="#2a9436"/><stop offset="0.050" stop-color="#33983e"/><stop offset="0.075" stop-color="#3a9c45"/><stop offset="0.100" stop-color="#409f4b"/><stop offset="0.125" stop-color="#45a14f"/><stop offset="0.150" stop-color="#4aa354"/><stop offset="0.175" stop-color="#4fa659"/><stop offset="0.200" stop-color="#54a85e"/><stop offset="0.225" stop-color="#59ab62"/><stop offset="1.000" stop-color="#5aab63"/></linearGradient><linearGradient id="g81" gradientUnits="userSpaceOnUse" x1="84.6" y1="0" x2="647.8" y2="0"><stop offset="0.000" stop-color="#20902d"/><stop offset="0.012" stop-color="#259232"/><stop offset="0.025" stop-color="#2a9436"/><stop offset="0.050" stop-color="#33983e"/><stop offset="0.075" stop-color="#3a9c45"/><stop offset="0.100" stop-color="#409f4b"/><stop offset="0.125" stop-color="#45a14f"/><stop offset="0.150" stop-color="#4aa354"/><stop offset="0.175" stop-color="#4fa659"/><stop offset="0.200" stop-color="#54a85e"/><stop offset="0.225" stop-color="#59ab62"/><stop offset="1.000" stop-color="#5aab63"/></linearGradient><linearGradient id="g82" gradientUnits="userSpaceOnUse" x1="84.6" y1="0" x2="647.8" y2="0"><stop offset="0.000" stop-color="#1f8f2c"/><stop offset="0.025" stop-color="#289334"/><stop offset="0.050" stop-color="#31973c"/><stop offset="0.075" stop-color="#389b44"/><stop offset="0.100" stop-color="#3f9e4a"/><stop offset="0.125" stop-color="#44a14f"/><stop offset="0.150" stop-color="#49a354"/><stop offset="0.175" stop-color="#4fa659"/><stop offset="0.200" stop-color="#54a85d"/><stop offset="0.225" stop-color="#59aa62"/><stop offset="1.000" stop-color="#5aab63"/></linearGradient><linearGradient id="g83" gradientUnits="userSpaceOnUse" x1="84.6" y1="0" x2="647.8" y2="0"><stop offset="0.000" stop-color="#1f8f2c"/><stop offset="0.025" stop-color="#269232"/><stop offset="0.050" stop-color="#2f963a"/><stop offset="0.075" stop-color="#379a42"/><stop offset="0.100" stop-color="#3e9e49"/><stop offset="0.125" stop-color="#43a04e"/><stop offset="0.150" stop-color="#49a353"/><stop offset="0.175" stop-color="#4fa658"/><stop offset="0.200" stop-color="#54a85d"/><stop offset="0.225" stop-color="#59aa62"/><stop offset="1.000" stop-color="#5aab63"/></linearGradient><linearGradient id="g84" gradientUnits="userSpaceOnUse" x1="84.6" y1="0" x2="647.8" y2="0"><stop offset="0.000" stop-color="#1f8f2c"/><stop offset="0.012" stop-color="#1f8f2c"/><stop offset="0.038" stop-color="#289334"/><stop offset="0.062" stop-color="#31983d"/><stop offset="0.088" stop-color="#399b44"/><stop offset="0.112" stop-color="#409e4a"/><stop offset="0.138" stop-color="#45a150"/><stop offset="0.163" stop-color="#4ba455"/><stop offset="0.188" stop-color="#51a75a"/><stop offset="0.212" stop-color="#56a95f"/><stop offset="0.225" stop-color="#58aa62"/><stop offset="1.000" stop-color="#5aab63"/></linearGradient><linearGradient id="g85" gradientUnits="userSpaceOnUse" x1="84.6" y1="0" x2="647.8" y2="0"><stop offset="0.000" stop-color="#1f8f2c"/><stop offset="0.012" stop-color="#1f8f2c"/><stop offset="0.038" stop-color="#269232"/><stop offset="0.062" stop-color="#2f973b"/><stop offset="0.088" stop-color="#389b43"/><stop offset="0.112" stop-color="#3f9e49"/><stop offset="0.138" stop-color="#44a14f"/><stop offset="0.163" stop-color="#4ba455"/><stop offset="0.188" stop-color="#50a65a"/><stop offset="0.212" stop-color="#56a95f"/><stop offset="0.225" stop-color="#58aa61"/><stop offset="1.000" stop-color="#5aab63"/></linearGradient><linearGradient id="g86" gradientUnits="userSpaceOnUse" x1="84.6" y1="0" x2="647.8" y2="0"><stop offset="0.000" stop-color="#1f8f2c"/><stop offset="0.025" stop-color="#1f8f2c"/><stop offset="0.050" stop-color="#289335"/><stop offset="0.075" stop-color="#32983d"/><stop offset="0.100" stop-color="#3a9c45"/><stop offset="0.125" stop-color="#419f4b"/><stop offset="0.150" stop-color="#47a251"/><stop offset="0.175" stop-color="#4da557"/><stop offset="0.200" stop-color="#53a85c"/><stop offset="0.225" stop-color="#58aa61"/><stop offset="0.238" stop-color="#5aab63"/><stop offset="1.000" stop-color="#5aab63"/></linearGradient><linearGradient id="g87" gradientUnits="userSpaceOnUse" x1="84.6" y1="0" x2="647.8" y2="0"><stop offset="0.000" stop-color="#1f8f2c"/><stop offset="0.025" stop-color="#1f8f2c"/><stop offset="0.050" stop-color="#269333"/><stop offset="0.062" stop-color="#2b9537"/><stop offset="0.075" stop-color="#30973c"/><stop offset="0.100" stop-color="#399b44"/><stop offset="0.125" stop-color="#3f9e4a"/><stop offset="0.150" stop-color="#46a250"/><stop offset="0.175" stop-color="#4da557"/><stop offset="0.200" stop-color="#53a75c"/><stop offset="0.225" stop-color="#58aa61"/><stop offset="0.238" stop-color="#5aab63"/><stop offset="1.000" stop-color="#5aab63"/></linearGradient><linearGradient id="g88" gradientUnits="userSpaceOnUse" x1="84.6" y1="0" x2="647.8" y2="0"><stop offset="0.000" stop-color="#1f8f2c"/><stop offset="0.038" stop-color="#208f2d"/><stop offset="0.062" stop-color="#299436"/><stop offset="0.075" stop-color="#2e963a"/><stop offset="0.100" stop-color="#379a42"/><stop offset="0.125" stop-color="#3e9e49"/><stop offset="0.150" stop-color="#45a150"/><stop offset="0.175" stop-color="#4ca456"/><stop offset="0.200" stop-color="#52a75c"/><stop offset="0.225" stop-color="#58aa61"/><stop offset="0.238" stop-color="#5aab63"/><stop offset="1.000" stop-color="#5aab63"/></linearGradient><linearGradient id="g89" gradientUnits="userSpaceOnUse" x1="84.6" y1="0" x2="647.8" y2="0"><stop offset="0.000" stop-color="#1f8f2c"/><stop offset="0.038" stop-color="#1f8f2c"/><stop offset="0.062" stop-color="#289334"/><stop offset="0.075" stop-color="#2d9539"/><stop offset="0.088" stop-color="#31983d"/><stop offset="0.112" stop-color="#3a9c45"/><stop offset="0.138" stop-color="#419f4b"/><stop offset="0.163" stop-color="#48a352"/><stop offset="0.188" stop-color="#4fa659"/><stop offset="0.212" stop-color="#55a85e"/><stop offset="0.238" stop-color="#5aab63"/><stop offset="1.000" stop-color="#5aab63"/></linearGradient><linearGradient id="g90" gradientUnits="userSpaceOnUse" x1="84.6" y1="0" x2="647.8" y2="0"><stop offset="0.000" stop-color="#1f8f2c"/><stop offset="0.038" stop-color="#1f8f2c"/><stop offset="0.062" stop-color="#269233"/><stop offset="0.075" stop-color="#2b9537"/><stop offset="0.088" stop-color="#30973c"/><stop offset="0.112" stop-color="#389b44"/><stop offset="0.138" stop-color="#409f4a"/><stop offset="0.163" stop-color="#47a252"/><stop offset="0.188" stop-color="#4ea558"/><stop offset="0.212" stop-color="#54a85e"/><stop offset="0.238" stop-color="#5aab63"/><stop offset="1.000" stop-color="#5aab63"/></linearGradient><linearGradient id="g91" gradientUnits="userSpaceOnUse" x1="84.6" y1="0" x2="647.8" y2="0"><stop offset="0.000" stop-color="#1f8f2c"/><stop offset="0.050" stop-color="#208f2d"/><stop offset="0.062" stop-color="#259231"/><stop offset="0.075" stop-color="#2a9436"/><stop offset="0.088" stop-color="#2e963a"/><stop offset="0.112" stop-color="#379a42"/><stop offset="0.138" stop-color="#3f9e4a"/><stop offset="0.163" stop-color="#47a251"/><stop offset="0.188" stop-color="#4ea558"/><stop offset="0.212" stop-color="#54a85d"/><stop offset="0.238" stop-color="#5aab63"/><stop offset="1.000" stop-color="#5aab63"/></linearGradient><linearGradient id="g92" gradientUnits="userSpaceOnUse" x1="84.6" y1="0" x2="647.8" y2="0"><stop offset="0.000" stop-color="#1f8f2c"/><stop offset="0.050" stop-color="#1f8f2c"/><stop offset="0.075" stop-color="#289335"/><stop offset="0.088" stop-color="#2d9639"/><stop offset="0.112" stop-color="#369a41"/><stop offset="0.138" stop-color="#3e9e49"/><stop offset="0.163" stop-color="#46a150"/><stop offset="0.188" stop-color="#4da557"/><stop offset="0.212" stop-color="#54a85d"/><stop offset="0.238" stop-color="#5aab63"/><stop offset="1.000" stop-color="#5aab63"/></linearGradient><linearGradient id="g93" gradientUnits="userSpaceOnUse" x1="84.6" y1="0" x2="647.8" y2="0"><stop offset="0.000" stop-color="#1f8f2c"/><stop offset="0.050" stop-color="#1f8f2c"/><stop offset="0.075" stop-color="#279333"/><stop offset="0.088" stop-color="#2c9538"/><stop offset="0.112" stop-color="#359940"/><stop offset="0.138" stop-color="#3d9d48"/><stop offset="0.163" stop-color="#45a14f"/><stop offset="0.188" stop-color="#4da557"/><stop offset="0.212" stop-color="#53a85d"/><stop offset="0.238" stop-color="#5aab63"/><stop offset="1.000" stop-color="#5aab63"/></linearGradient><linearGradient id="g94" gradientUnits="userSpaceOnUse" x1="84.6" y1="0" x2="647.8" y2="0"><stop offset="0.000" stop-color="#1f8f2c"/><stop offset="0.050" stop-color="#1f8f2c"/><stop offset="0.075" stop-color="#269233"/><stop offset="0.088" stop-color="#2b9537"/><stop offset="0.112" stop-color="#34993f"/><stop offset="0.138" stop-color="#3c9d47"/><stop offset="0.163" stop-color="#44a14f"/><stop offset="0.188" stop-color="#4ca456"/><stop offset="0.212" stop-color="#53a85c"/><stop offset="0.238" stop-color="#59ab62"/><stop offset="1.000" stop-color="#5aab63"/></linearGradient><linearGradient id="g95" gradientUnits="userSpaceOnUse" x1="84.6" y1="0" x2="647.8" y2="0"><stop offset="0.000" stop-color="#1f8f2c"/><stop offset="0.062" stop-color="#20902d"/><stop offset="0.075" stop-color="#259232"/><stop offset="0.088" stop-color="#2a9436"/><stop offset="0.112" stop-color="#33983f"/><stop offset="0.138" stop-color="#3b9c46"/><stop offset="0.163" stop-color="#44a04e"/><stop offset="0.188" stop-color="#4ca456"/><stop offset="0.212" stop-color="#52a75c"/><stop offset="0.238" stop-color="#59ab62"/><stop offset="1.000" stop-color="#5aab63"/></linearGradient><linearGradient id="g96" gradientUnits="userSpaceOnUse" x1="84.6" y1="0" x2="647.8" y2="0"><stop offset="0.000" stop-color="#1f8f2c"/><stop offset="0.062" stop-color="#208f2c"/><stop offset="0.075" stop-color="#259231"/><stop offset="0.088" stop-color="#299436"/><stop offset="0.112" stop-color="#32983e"/><stop offset="0.138" stop-color="#3b9c46"/><stop offset="0.163" stop-color="#43a04e"/><stop offset="0.188" stop-color="#4ba455"/><stop offset="0.212" stop-color="#52a75c"/><stop offset="0.238" stop-color="#59aa62"/><stop offset="1.000" stop-color="#5aab63"/></linearGradient><linearGradient id="g97" gradientUnits="userSpaceOnUse" x1="84.6" y1="0" x2="647.8" y2="0"><stop offset="0.000" stop-color="#1f8f2c"/><stop offset="0.062" stop-color="#1f8f2c"/><stop offset="0.075" stop-color="#249131"/><stop offset="0.088" stop-color="#299435"/><stop offset="0.112" stop-color="#32983e"/><stop offset="0.138" stop-color="#3a9c45"/><stop offset="0.163" stop-color="#43a04d"/><stop offset="0.188" stop-color="#4ba455"/><stop offset="0.212" stop-color="#52a75b"/><stop offset="0.238" stop-color="#59aa62"/><stop offset="1.000" stop-color="#5aab63"/></linearGradient><linearGradient id="g98" gradientUnits="userSpaceOnUse" x1="84.6" y1="0" x2="647.8" y2="0"><stop offset="0.000" stop-color="#1f8f2c"/><stop offset="0.062" stop-color="#1f8f2c"/><stop offset="0.075" stop-color="#249130"/><stop offset="0.088" stop-color="#299435"/><stop offset="0.112" stop-color="#32983d"/><stop offset="0.138" stop-color="#3a9c45"/><stop offset="0.163" stop-color="#43a04d"/><stop offset="0.188" stop-color="#4ba455"/><stop offset="0.212" stop-color="#52a75b"/><stop offset="0.238" stop-color="#59aa62"/><stop offset="1.000" stop-color="#5aab63"/></linearGradient><linearGradient id="g99" gradientUnits="userSpaceOnUse" x1="84.6" y1="0" x2="647.8" y2="0"><stop offset="0.000" stop-color="#1f8f2c"/><stop offset="0.062" stop-color="#1f8f2c"/><stop offset="0.088" stop-color="#299435"/><stop offset="0.100" stop-color="#2d9639"/><stop offset="0.125" stop-color="#369a41"/><stop offset="0.150" stop-color="#3e9e49"/><stop offset="0.175" stop-color="#47a251"/><stop offset="0.200" stop-color="#4ea558"/><stop offset="0.225" stop-color="#55a95f"/><stop offset="0.238" stop-color="#59aa62"/><stop offset="1.000" stop-color="#5aab63"/></linearGradient><linearGradient id="g100" gradientUnits="userSpaceOnUse" x1="84.6" y1="0" x2="647.8" y2="0"><stop offset="0.000" stop-color="#1f8f2c"/><stop offset="0.062" stop-color="#1f8f2c"/><stop offset="0.075" stop-color="#249130"/><stop offset="0.088" stop-color="#299435"/><stop offset="0.100" stop-color="#2e963a"/><stop offset="0.125" stop-color="#369a42"/><stop offset="0.150" stop-color="#3f9e4a"/><stop offset="0.175" stop-color="#47a251"/><stop offset="0.200" stop-color="#4ea658"/><stop offset="0.225" stop-color="#55a95f"/><stop offset="0.238" stop-color="#59aa62"/><stop offset="1.000" stop-color="#5aab63"/></linearGradient><linearGradient id="g101" gradientUnits="userSpaceOnUse" x1="84.6" y1="0" x2="647.8" y2="0"><stop offset="0.000" stop-color="#1f8f2c"/><stop offset="0.062" stop-color="#1f8f2c"/><stop offset="0.075" stop-color="#249131"/><stop offset="0.088" stop-color="#299436"/><stop offset="0.100" stop-color="#2e963a"/><stop offset="0.125" stop-color="#379a42"/><stop offset="0.150" stop-color="#3f9e4a"/><stop offset="0.175" stop-color="#48a252"/><stop offset="0.200" stop-color="#4fa659"/><stop offset="0.225" stop-color="#56a95f"/><stop offset="0.238" stop-color="#59ab62"/><stop offset="1.000" stop-color="#5aab63"/></linearGradient><linearGradient id="g102" gradientUnits="userSpaceOnUse" x1="84.6" y1="0" x2="647.8" y2="0"><stop offset="0.000" stop-color="#1f8f2c"/><stop offset="0.062" stop-color="#1f8f2c"/><stop offset="0.075" stop-color="#259231"/><stop offset="0.088" stop-color="#2a9436"/><stop offset="0.100" stop-color="#2f973b"/><stop offset="0.125" stop-color="#389b43"/><stop offset="0.150" stop-color="#409f4b"/><stop offset="0.175" stop-color="#48a353"/><stop offset="0.200" stop-color="#50a659"/><stop offset="0.225" stop-color="#56a960"/><stop offset="0.238" stop-color="#5aab63"/><stop offset="1.000" stop-color="#5aab63"/></linearGradient><linearGradient id="g103" gradientUnits="userSpaceOnUse" x1="84.6" y1="0" x2="647.8" y2="0"><stop offset="0.000" stop-color="#1f8f2c"/><stop offset="0.062" stop-color="#1f8f2c"/><stop offset="0.075" stop-color="#259232"/><stop offset="0.088" stop-color="#2b9537"/><stop offset="0.100" stop-color="#30973c"/><stop offset="0.125" stop-color="#399b44"/><stop offset="0.150" stop-color="#419f4c"/><stop offset="0.175" stop-color="#49a353"/><stop offset="0.200" stop-color="#50a65a"/><stop offset="0.225" stop-color="#57aa60"/><stop offset="0.238" stop-color="#5aab63"/><stop offset="1.000" stop-color="#5aab63"/></linearGradient><linearGradient id="g104" gradientUnits="userSpaceOnUse" x1="84.6" y1="0" x2="647.8" y2="0"><stop offset="0.000" stop-color="#1f8f2c"/><stop offset="0.062" stop-color="#208f2d"/><stop offset="0.075" stop-color="#269233"/><stop offset="0.088" stop-color="#2c9538"/><stop offset="0.100" stop-color="#31983d"/><stop offset="0.125" stop-color="#3a9c45"/><stop offset="0.150" stop-color="#43a04d"/><stop offset="0.175" stop-color="#4ba455"/><stop offset="0.200" stop-color="#52a75b"/><stop offset="0.225" stop-color="#58aa61"/><stop offset="0.238" stop-color="#5aab63"/><stop offset="1.000" stop-color="#5aab63"/></linearGradient><linearGradient id="g105" gradientUnits="userSpaceOnUse" x1="84.6" y1="0" x2="647.8" y2="0"><stop offset="0.000" stop-color="#1f8f2c"/><stop offset="0.050" stop-color="#1f8f2c"/><stop offset="0.075" stop-color="#279334"/><stop offset="0.088" stop-color="#2d9639"/><stop offset="0.100" stop-color="#33983e"/><stop offset="0.112" stop-color="#389b43"/><stop offset="0.138" stop-color="#409f4b"/><stop offset="0.163" stop-color="#48a352"/><stop offset="0.188" stop-color="#50a659"/><stop offset="0.212" stop-color="#56a95f"/><stop offset="0.225" stop-color="#59ab62"/><stop offset="1.000" stop-color="#5aab63"/></linearGradient><linearGradient id="g106" gradientUnits="userSpaceOnUse" x1="84.6" y1="0" x2="647.8" y2="0"><stop offset="0.000" stop-color="#1f8f2c"/><stop offset="0.050" stop-color="#1f8f2c"/><stop offset="0.075" stop-color="#299435"/><stop offset="0.088" stop-color="#2f973b"/><stop offset="0.100" stop-color="#359940"/><stop offset="0.112" stop-color="#399c45"/><stop offset="0.138" stop-color="#42a04c"/><stop offset="0.163" stop-color="#4aa354"/><stop offset="0.188" stop-color="#51a75b"/><stop offset="0.212" stop-color="#58aa61"/><stop offset="0.225" stop-color="#5aab63"/><stop offset="1.000" stop-color="#5aab63"/></linearGradient><linearGradient id="g107" gradientUnits="userSpaceOnUse" x1="84.6" y1="0" x2="647.8" y2="0"><stop offset="0.000" stop-color="#1f8f2c"/><stop offset="0.050" stop-color="#1f8f2c"/><stop offset="0.075" stop-color="#2b9537"/><stop offset="0.088" stop-color="#31983d"/><stop offset="0.100" stop-color="#379a42"/><stop offset="0.112" stop-color="#3c9d47"/><stop offset="0.138" stop-color="#44a14f"/><stop offset="0.163" stop-color="#4ca456"/><stop offset="0.188" stop-color="#53a85d"/><stop offset="0.212" stop-color="#59ab62"/><stop offset="1.000" stop-color="#5aab63"/></linearGradient><linearGradient id="g108" gradientUnits="userSpaceOnUse" x1="84.6" y1="0" x2="647.8" y2="0"><stop offset="0.000" stop-color="#1f8f2c"/><stop offset="0.050" stop-color="#1f8f2c"/><stop offset="0.062" stop-color="#259232"/><stop offset="0.075" stop-color="#2d9639"/><stop offset="0.088" stop-color="#33993f"/><stop offset="0.100" stop-color="#399b44"/><stop offset="0.112" stop-color="#3e9e49"/><stop offset="0.138" stop-color="#47a251"/><stop offset="0.163" stop-color="#4fa658"/><stop offset="0.188" stop-color="#56a95f"/><stop offset="0.200" stop-color="#59aa62"/><stop offset="1.000" stop-color="#5aab63"/></linearGradient><linearGradient id="g109" gradientUnits="userSpaceOnUse" x1="84.6" y1="0" x2="647.8" y2="0"><stop offset="0.000" stop-color="#1f8f2c"/><stop offset="0.050" stop-color="#1f8f2c"/><stop offset="0.062" stop-color="#289334"/><stop offset="0.075" stop-color="#30973c"/><stop offset="0.088" stop-color="#369a42"/><stop offset="0.100" stop-color="#3c9d47"/><stop offset="0.112" stop-color="#419f4c"/><stop offset="0.138" stop-color="#4aa354"/><stop offset="0.163" stop-color="#52a75b"/><stop offset="0.188" stop-color="#58aa61"/><stop offset="1.000" stop-color="#5aab63"/></linearGradient><linearGradient id="g110" gradientUnits="userSpaceOnUse" x1="84.6" y1="0" x2="647.8" y2="0"><stop offset="0.000" stop-color="#1f8f2c"/><stop offset="0.038" stop-color="#1f8f2c"/><stop offset="0.062" stop-color="#2b9537"/><stop offset="0.075" stop-color="#33993f"/><stop offset="0.088" stop-color="#3a9c45"/><stop offset="0.100" stop-color="#409f4b"/><stop offset="0.112" stop-color="#45a14f"/><stop offset="0.138" stop-color="#4da557"/><stop offset="0.163" stop-color="#55a95f"/><stop offset="0.175" stop-color="#59aa62"/><stop offset="1.000" stop-color="#5aab63"/></linearGradient><linearGradient id="g111" gradientUnits="userSpaceOnUse" x1="84.6" y1="0" x2="647.8" y2="0"><stop offset="0.000" stop-color="#1f8f2c"/><stop offset="0.038" stop-color="#1f8f2c"/><stop offset="0.050" stop-color="#269232"/><stop offset="0.062" stop-color="#2f973b"/><stop offset="0.075" stop-color="#389b43"/><stop offset="0.088" stop-color="#3f9e4a"/><stop offset="0.100" stop-color="#45a14f"/><stop offset="0.112" stop-color="#4aa354"/><stop offset="0.138" stop-color="#52a75c"/><stop offset="0.163" stop-color="#5aab63"/><stop offset="1.000" stop-color="#5aab63"/></linearGradient><linearGradient id="g112" gradientUnits="userSpaceOnUse" x1="84.6" y1="0" x2="647.8" y2="0"><stop offset="0.000" stop-color="#1f8f2c"/><stop offset="0.038" stop-color="#208f2d"/><stop offset="0.050" stop-color="#2c9538"/><stop offset="0.062" stop-color="#369a41"/><stop offset="0.075" stop-color="#3f9e49"/><stop offset="0.088" stop-color="#46a150"/><stop offset="0.100" stop-color="#4ca456"/><stop offset="0.112" stop-color="#51a75a"/><stop offset="0.138" stop-color="#58aa62"/><stop offset="1.000" stop-color="#5aab63"/></linearGradient><linearGradient id="g113" gradientUnits="userSpaceOnUse" x1="84.6" y1="0" x2="647.8" y2="0"><stop offset="0.000" stop-color="#1f8f2c"/><stop offset="0.025" stop-color="#1f8f2c"/><stop offset="0.038" stop-color="#2d9539"/><stop offset="0.050" stop-color="#3a9c45"/><stop offset="0.062" stop-color="#44a14f"/><stop offset="0.075" stop-color="#4da557"/><stop offset="0.088" stop-color="#53a85d"/><stop offset="0.100" stop-color="#59aa62"/><stop offset="1.000" stop-color="#5aab63"/></linearGradient><linearGradient id="g114" gradientUnits="userSpaceOnUse" x1="84.6" y1="0" x2="647.8" y2="0"><stop offset="0.000" stop-color="#1f8f2c"/><stop offset="0.025" stop-color="#1f8f2c"/><stop offset="0.038" stop-color="#2d9539"/><stop offset="0.050" stop-color="#3a9c45"/><stop offset="0.062" stop-color="#44a14f"/><stop offset="0.075" stop-color="#4da557"/><stop offset="0.088" stop-color="#53a85d"/><stop offset="0.100" stop-color="#59aa62"/><stop offset="1.000" stop-color="#5aab63"/></linearGradient></defs>
<g clip-path="url(#clipA1)" fill="none" stroke-width="2.2" stroke-linejoin="round">
<path d="M84.6,789.3 101.5,787.9 123.3,785.6 131.1,784.5 138.1,783.0 146.6,780.6 163.4,774.8 183.9,769.1 205.7,761.7 218.4,757.6 243.0,750.3 297.2,735.7 328.9,728.2 350.7,722.3 375.4,716.5 383.1,714.3 395.1,710.5 396.5,710.4 399.3,711.3 400.7,711.2 430.3,704.8 455.6,698.8 476.0,694.8 524.6,686.4 583.7,676.6 647.8,665.7" stroke="url(#g80)"/>
<path d="M84.6,793.8 124.0,789.0 131.1,787.8 137.4,786.3 145.8,783.8 163.4,777.6 183.2,771.7 206.4,763.6 219.1,759.3 245.1,751.3 297.9,736.4 330.3,728.4 352.1,722.2 375.4,716.6 395.1,710.6 396.5,710.4 399.3,711.3 400.7,711.1 430.3,704.5 455.6,698.5 477.4,694.1 527.4,685.2 647.8,664.7" stroke="url(#g81)"/>
<path d="M84.6,798.3 124.7,792.4 131.1,791.2 137.4,789.5 145.8,786.9 163.4,780.4 183.2,774.2 206.4,765.7 219.1,761.3 233.8,756.4 247.9,751.9 296.5,737.6 331.0,728.7 351.4,722.8 373.9,717.1 395.1,710.7 396.5,710.5 399.3,711.2 400.7,711.1 430.3,704.3 457.0,697.8 470.4,695.0 486.6,691.9 534.5,683.4 647.8,663.7" stroke="url(#g82)"/>
<path d="M84.6,802.9 124.0,796.0 130.4,794.7 136.0,793.2 145.8,790.0 163.4,783.2 183.2,776.7 206.4,767.8 219.8,763.0 235.3,757.6 250.7,752.6 297.9,738.1 331.0,729.2 351.4,723.1 373.9,717.3 395.1,710.7 396.5,710.6 399.3,711.1 400.7,711.0 430.3,704.1 457.0,697.5 471.1,694.5 487.3,691.3 542.9,681.2 647.8,662.8" stroke="url(#g83)"/>
<path d="M84.6,807.6 124.0,799.7 130.4,798.2 135.3,796.8 145.1,793.5 164.2,785.8 183.2,779.2 206.4,770.0 219.8,764.9 236.0,759.1 252.9,753.3 299.3,738.5 331.0,729.6 350.7,723.6 373.9,717.4 395.1,710.8 396.5,710.6 399.3,711.1 400.7,710.9 431.0,703.7 457.0,697.2 471.1,694.1 488.0,690.7 550.6,679.0 647.8,661.8" stroke="url(#g84)"/>
<path d="M84.6,812.3 123.3,803.5 129.7,801.9 134.6,800.5 145.1,796.7 164.2,788.7 183.2,781.7 206.4,772.1 219.8,766.8 236.7,760.5 255.0,754.0 285.2,743.9 300.0,739.1 331.7,729.9 350.7,724.0 373.9,717.6 395.1,710.9 396.5,710.7 399.3,711.0 400.7,710.8 431.0,703.4 457.0,696.8 471.8,693.5 489.4,689.9 555.6,677.4 647.8,660.8" stroke="url(#g85)"/>
<path d="M84.6,817.2 121.9,807.7 133.9,804.2 144.4,800.2 162.7,792.2 182.5,784.5 205.7,774.6 219.1,769.1 237.4,761.9 257.1,754.7 285.9,744.6 300.7,739.7 331.7,730.4 350.0,724.5 373.9,717.7 394.4,711.2 396.5,710.7 399.3,711.0 400.7,710.7 431.0,703.2 457.0,696.5 472.5,693.0 490.1,689.3 558.4,676.1 603.4,667.8 647.8,659.9" stroke="url(#g86)"/>
<path d="M84.6,822.0 98.0,818.4 121.9,811.6 129.7,809.3 135.3,807.3 145.1,803.3 163.4,794.8 181.8,787.4 207.1,776.1 226.1,768.1 250.7,758.4 282.4,746.8 305.7,738.9 331.7,730.8 349.3,725.1 371.1,718.7 394.4,711.2 396.5,710.8 399.3,710.9 400.7,710.7 457.0,696.1 472.5,692.6 490.8,688.7 569.0,673.3 609.1,665.8 647.8,658.9" stroke="url(#g87)"/>
<path d="M84.6,827.0 98.7,822.9 119.8,816.3 129.0,813.3 134.6,811.2 145.1,806.6 163.4,797.8 181.8,790.0 206.4,778.6 221.9,771.8 245.8,761.8 273.3,751.3 292.3,744.2 305.0,739.9 332.4,731.1 349.3,725.4 370.4,719.1 390.8,712.4 395.8,711.0 399.3,710.9 400.7,710.6 457.0,695.8 472.5,692.2 490.1,688.3 545.0,677.2 573.9,671.5 611.9,664.4 647.8,657.9" stroke="url(#g88)"/>
<path d="M84.6,832.0 95.2,828.7 108.5,824.3 125.4,818.4 133.9,815.2 144.4,810.4 163.4,800.9 181.8,792.7 205.7,781.1 218.4,775.3 242.3,764.8 269.0,754.0 290.9,745.7 305.0,740.6 332.4,731.5 349.3,725.7 366.9,720.4 388.0,713.3 395.8,711.1 399.3,710.8 400.7,710.5 458.4,695.1 489.4,688.0 546.4,676.1 575.3,670.4 612.6,663.3 647.8,657.0" stroke="url(#g89)"/>
<path d="M84.6,837.0 94.5,833.8 106.4,829.6 124.0,823.0 133.2,819.3 144.4,813.9 163.4,803.9 181.8,795.3 204.3,784.0 215.5,778.6 239.5,767.7 265.5,756.6 289.5,747.1 305.0,741.3 348.6,726.3 366.9,720.6 386.6,713.8 395.8,711.1 399.3,710.7 400.7,710.4 457.7,695.0 473.2,691.2 490.1,687.3 548.5,675.0 577.4,669.1 614.0,662.1 647.8,656.0" stroke="url(#g90)"/>
<path d="M84.6,842.2 94.5,838.8 105.7,834.5 122.6,827.7 132.5,823.5 143.7,817.9 164.2,806.7 181.8,798.0 213.4,781.7 238.1,769.9 263.4,758.8 288.1,748.6 305.0,742.1 348.6,726.7 366.9,720.8 385.2,714.3 395.1,711.4 400.0,710.5 457.0,694.8 472.5,690.9 490.1,686.8 549.2,674.1 578.1,668.1 614.7,661.0 647.8,655.0" stroke="url(#g91)"/>
<path d="M84.6,847.4 93.8,844.0 105.0,839.5 121.9,832.3 131.8,827.8 143.7,821.5 164.2,809.9 181.8,800.7 207.8,786.7 230.3,775.3 251.4,765.4 274.7,755.1 297.9,745.5 311.3,740.4 350.0,726.5 366.2,721.3 384.5,714.7 390.1,712.9 395.8,711.3 400.0,710.5 454.9,695.0 474.6,690.0 504.2,683.2 570.4,668.9 609.1,661.2 647.8,654.0" stroke="url(#g92)"/>
<path d="M84.6,852.7 94.5,848.8 105.0,844.3 120.5,837.3 131.1,832.2 143.7,825.2 164.2,813.1 181.8,803.5 207.1,789.3 228.9,777.8 249.3,767.8 273.3,756.9 297.2,746.6 312.0,740.8 349.3,727.1 366.2,721.5 384.5,714.7 388.7,713.4 395.8,711.4 400.0,710.4 454.2,694.9 475.3,689.4 504.2,682.6 572.5,667.6 610.5,660.0 647.8,653.1" stroke="url(#g93)"/>
<path d="M84.6,858.0 94.5,853.9 105.0,849.1 120.5,841.6 131.1,836.2 143.0,829.3 164.2,816.3 206.4,791.9 227.5,780.4 247.9,770.0 272.6,758.3 297.2,747.4 312.7,741.2 348.6,727.7 366.2,721.7 383.8,715.1 388.0,713.7 453.5,694.8 475.3,689.0 504.2,682.0 552.8,671.0 573.2,666.6 611.2,658.9 647.8,652.1" stroke="url(#g94)"/>
<path d="M84.6,863.4 93.8,859.4 104.3,854.3 119.1,846.8 130.4,840.7 143.0,833.1 164.2,819.5 205.0,795.0 226.1,783.1 245.8,772.6 270.5,760.4 295.8,748.8 312.7,741.8 346.5,728.8 366.2,721.9 387.3,714.0 452.1,694.9 474.6,688.8 504.2,681.5 553.5,670.1 573.2,665.7 611.2,657.9 647.8,651.1" stroke="url(#g95)"/>
<path d="M84.6,868.8 93.8,864.6 104.3,859.3 118.4,851.7 129.7,845.3 143.0,836.9 164.9,822.4 203.6,798.2 224.0,786.2 243.7,775.2 268.3,762.6 294.4,750.3 312.0,742.7 344.4,730.0 353.5,726.5 366.2,722.1 386.6,714.3 450.7,695.0 474.6,688.3 504.2,680.9 553.5,669.3 573.9,664.7 611.2,657.0 647.8,650.2" stroke="url(#g96)"/>
<path d="M84.6,874.4 93.8,869.9 103.6,864.6 117.7,856.7 129.0,850.0 142.3,841.2 164.9,825.6 202.2,801.5 221.9,789.3 241.6,778.0 254.3,771.1 266.9,764.5 280.3,757.8 293.0,751.7 312.0,743.4 341.6,731.4 352.8,727.1 366.2,722.3 386.6,714.3 395.8,711.7 402.8,709.2 449.3,695.1 473.2,688.3 504.2,680.4 553.5,668.6 573.9,663.9 589.4,660.5 611.2,656.1 647.8,649.2" stroke="url(#g97)"/>
<path d="M84.6,880.0 93.8,875.2 103.6,869.7 117.0,861.7 128.2,854.6 142.3,845.1 164.9,828.9 197.9,806.7 215.5,795.3 234.6,783.7 257.1,770.9 281.0,758.4 301.4,748.6 323.3,739.3 347.2,729.6 366.2,722.5 385.2,714.9 395.8,711.8 401.4,709.5 416.2,704.9 451.4,694.1 466.2,689.8 483.8,685.0 502.1,680.3 553.5,667.8 571.1,663.7 588.7,659.8 609.8,655.4 629.5,651.6 647.8,648.2" stroke="url(#g98)"/>
<path d="M84.6,885.6 93.0,881.0 102.9,875.1 115.6,867.2 126.8,859.8 141.6,849.5 164.9,832.2 196.5,810.1 214.1,798.3 233.1,786.3 255.7,773.1 278.9,760.5 300.0,750.0 321.1,740.7 346.5,730.2 366.2,722.7 385.2,715.0 395.8,711.9 400.7,709.7 414.1,705.4 450.0,694.2 465.5,689.7 483.1,684.8 502.1,679.8 553.5,667.0 571.1,662.9 588.0,659.0 609.1,654.6 629.5,650.6 647.8,647.3" stroke="url(#g99)"/>
<path d="M84.6,891.4 93.0,886.4 102.2,880.7 125.4,865.1 140.9,853.9 164.9,835.5 193.7,814.7 212.0,801.9 231.0,789.4 242.3,782.4 253.6,775.6 276.1,763.0 297.9,751.8 307.8,747.2 319.0,742.1 345.8,730.8 366.2,723.0 385.2,715.1 395.8,712.0 399.3,710.2 402.8,708.9 447.9,694.6 464.1,689.7 482.4,684.5 501.4,679.4 553.5,666.3 571.1,662.0 588.0,658.2 609.1,653.7 629.5,649.7 647.8,646.3" stroke="url(#g100)"/>
<path d="M84.6,897.1 92.3,892.4 101.5,886.3 124.0,870.5 137.4,860.5 164.2,839.3 190.2,819.8 209.2,806.0 228.9,792.6 240.2,785.3 251.4,778.3 262.7,771.6 274.0,765.2 285.9,758.7 296.5,753.3 306.4,748.5 317.6,743.3 344.4,731.8 366.2,723.2 385.2,715.1 395.8,712.0 399.3,710.1 402.8,708.8 446.5,694.7 463.4,689.5 482.4,684.1 501.4,678.9 553.5,665.5 571.1,661.2 588.0,657.3 609.1,652.8 629.5,648.7 647.8,645.3" stroke="url(#g101)"/>
<path d="M84.6,903.0 91.6,898.4 100.1,892.5 121.2,877.0 135.3,866.1 164.2,842.6 186.0,825.7 207.1,809.8 227.5,795.4 238.8,787.8 250.0,780.6 261.3,773.7 272.6,767.1 283.8,760.8 295.1,754.8 305.7,749.5 316.9,744.2 343.7,732.4 366.2,723.4 385.2,715.2 395.8,712.0 399.3,710.1 402.1,709.0 445.0,694.9 463.4,689.2 482.4,683.6 502.1,678.1 554.2,664.6 571.8,660.2 588.7,656.2 609.8,651.7 629.5,647.7 647.8,644.4" stroke="url(#g102)"/>
<path d="M84.6,908.9 98.7,898.9 117.0,884.8 132.5,872.4 160.6,848.7 174.0,837.9 202.9,815.2 214.1,806.8 225.4,798.7 236.7,790.9 247.9,783.4 259.2,776.2 270.5,769.4 282.4,762.5 293.7,756.3 304.2,750.9 315.5,745.4 342.3,733.4 352.1,729.2 366.2,723.7 385.2,715.2 395.8,712.1 399.3,710.0 402.1,708.9 428.9,699.9 462.6,689.0 481.7,683.3 501.4,677.8 554.2,663.8 571.8,659.3 588.7,655.3 609.8,650.8 629.5,646.8 647.8,643.4" stroke="url(#g103)"/>
<path d="M84.6,914.9 99.4,903.6 121.2,885.9 133.9,875.3 162.7,850.2 184.6,832.2 204.3,816.4 222.6,802.6 234.6,794.0 245.8,786.3 257.1,778.9 268.3,771.8 280.3,764.7 291.6,758.3 302.8,752.3 314.1,746.7 326.1,741.0 340.2,734.7 351.4,729.8 366.2,723.9 384.5,715.5 388.0,714.3 395.8,712.1 399.3,709.9 402.1,708.8 428.2,699.9 461.9,688.9 481.7,682.9 501.4,677.2 554.2,663.0 571.8,658.5 588.7,654.4 609.8,649.8 629.5,645.8 647.8,642.4" stroke="url(#g104)"/>
<path d="M84.6,921.0 98.7,909.6 119.8,891.5 133.2,879.8 159.9,855.8 172.6,844.9 199.4,822.6 220.5,806.1 232.4,797.2 243.7,789.2 255.0,781.5 266.9,773.8 278.9,766.4 290.9,759.5 302.1,753.3 313.4,747.6 324.7,742.2 338.0,736.0 350.7,730.5 366.2,724.2 384.5,715.5 388.0,714.3 395.8,712.2 399.3,709.9 402.1,708.7 428.2,699.7 461.2,688.7 481.7,682.4 501.4,676.7 554.2,662.2 571.8,657.7 588.7,653.5 609.8,648.9 629.5,644.9 647.8,641.5" stroke="url(#g105)"/>
<path d="M84.6,927.1 95.9,917.4 111.4,903.6 131.1,885.7 157.8,860.9 168.4,851.4 195.8,827.8 217.0,810.7 228.9,801.5 240.9,792.6 252.9,784.2 264.8,776.3 276.8,768.7 288.8,761.5 300.0,755.2 312.0,748.9 323.3,743.3 335.9,737.4 350.0,731.1 366.9,724.1 384.5,715.6 388.0,714.4 395.8,712.2 399.3,709.8 402.1,708.6 428.2,699.5 460.5,688.6 481.0,682.2 501.4,676.1 554.2,661.5 571.8,656.8 588.7,652.7 609.8,648.0 629.5,643.9 647.8,640.5" stroke="url(#g106)"/>
<path d="M84.6,933.3 102.9,916.4 153.6,868.0 164.9,857.5 191.6,833.7 202.9,824.1 214.1,814.8 226.8,804.8 238.8,795.7 250.7,787.0 262.7,778.8 274.7,771.0 287.4,763.2 299.3,756.3 310.6,750.2 321.8,744.5 333.8,738.8 348.6,732.0 366.2,724.5 384.5,715.6 388.0,714.4 395.8,712.2 397.2,711.4 399.3,709.7 402.1,708.5 428.2,699.3 459.1,688.7 480.2,682.0 501.4,675.6 554.2,660.7 571.8,656.0 588.7,651.8 609.8,647.0 629.5,642.9 647.8,639.5" stroke="url(#g107)"/>
<path d="M84.6,939.5 96.6,927.8 147.3,877.4 162.0,863.0 173.3,852.5 188.1,839.1 200.1,828.6 210.6,819.6 223.3,809.2 236.0,799.3 248.6,789.8 260.6,781.3 272.6,773.3 285.2,765.3 297.2,758.2 309.2,751.5 319.7,746.0 331.7,740.2 345.8,733.6 366.2,724.6 384.5,715.6 388.0,714.4 395.1,712.5 396.5,711.9 399.3,709.7 401.4,708.7 428.2,699.0 458.4,688.6 480.2,681.5 501.4,675.1 528.1,667.5 554.2,659.9 571.8,655.2 588.7,650.9 609.8,646.1 629.5,642.0 647.8,638.5" stroke="url(#g108)"/>
<path d="M84.6,945.8 124.7,903.7 157.1,870.7 168.4,859.7 181.8,847.1 194.4,835.6 206.4,825.0 219.8,813.7 232.4,803.5 245.1,793.7 257.8,784.4 270.5,775.6 283.1,767.4 295.8,759.7 307.8,752.9 318.3,747.2 330.3,741.3 343.0,735.3 366.2,724.7 383.8,715.9 387.3,714.6 395.8,712.3 397.2,711.4 399.3,709.6 402.1,708.3 428.2,698.8 457.7,688.5 480.2,681.1 501.4,674.5 528.1,666.9 554.9,659.0 571.8,654.3 588.7,650.0 609.8,645.2 629.5,641.0 647.8,637.6" stroke="url(#g109)"/>
<path d="M84.6,952.2 119.8,913.0 137.4,894.0 151.5,879.2 163.4,867.1 175.4,855.4 189.5,842.1 202.2,830.6 215.5,818.9 228.9,807.7 242.3,797.1 255.0,787.5 268.3,778.0 281.0,769.5 293.7,761.6 306.4,754.2 317.6,748.1 329.6,742.0 349.3,732.5 366.2,724.8 383.8,716.0 387.3,714.7 395.1,712.5 396.5,711.9 399.3,709.5 401.4,708.5 428.2,698.6 457.0,688.4 479.5,680.9 501.4,674.0 528.1,666.2 554.9,658.2 571.8,653.5 588.7,649.1 609.8,644.2 629.5,640.1 647.8,636.6" stroke="url(#g110)"/>
<path d="M84.6,958.6 102.2,937.5 115.6,921.8 129.7,905.8 144.4,889.6 157.1,876.1 169.8,863.2 183.9,849.4 197.9,836.2 211.3,824.1 225.4,812.0 238.8,801.1 252.2,790.7 265.5,780.9 278.9,771.7 292.3,763.1 305.0,755.6 317.6,748.6 336.6,738.7 350.7,731.9 366.2,724.8 383.8,716.0 387.3,714.7 395.1,712.6 396.5,711.9 399.3,709.5 401.4,708.4 428.2,698.4 455.6,688.6 478.8,680.7 500.7,673.6 528.8,665.4 554.9,657.4 571.8,652.6 588.7,648.2 609.8,643.3 629.5,639.1 647.8,635.6" stroke="url(#g111)"/>
<path d="M84.6,965.2 99.4,946.0 112.1,930.1 124.7,914.9 138.1,899.5 151.5,884.6 164.2,871.2 178.2,856.9 192.3,843.2 206.4,830.0 220.5,817.5 234.6,805.6 248.6,794.4 262.7,783.8 276.1,774.3 289.5,765.5 302.8,757.3 319.7,747.7 333.8,740.2 348.6,733.0 366.2,724.8 383.1,716.3 387.3,714.7 395.1,712.6 396.5,711.9 399.3,709.4 401.4,708.3 428.2,698.2 453.5,689.0 478.1,680.4 500.7,673.1 528.8,664.7 554.9,656.6 571.1,652.0 588.0,647.5 609.1,642.5 629.5,638.1 647.8,634.7" stroke="url(#g112)"/>
<path d="M84.6,971.7 97.3,953.9 109.2,937.8 121.2,922.5 133.9,907.1 147.3,891.7 160.6,876.9 174.7,862.2 189.5,847.4 204.3,833.3 219.1,819.9 233.8,807.3 247.9,795.8 262.0,785.1 275.4,775.5 292.3,764.3 305.7,755.9 319.7,747.8 334.5,739.9 349.3,732.7 366.2,724.9 383.8,716.0 387.3,714.7 395.1,712.6 396.5,711.9 399.3,709.3 401.4,708.3 428.2,697.9 457.0,687.4 480.2,679.3 501.4,672.3 528.8,664.1 554.9,655.9 572.5,650.8 588.7,646.4 610.5,641.3 630.2,637.0 647.8,633.7" stroke="url(#g113)"/>
<path d="M84.6,978.4 94.5,962.9 105.0,947.4 116.3,931.9 128.2,916.4 140.9,900.9 153.6,886.4 167.7,871.0 181.8,856.4 196.5,841.8 212.0,827.2 227.5,813.4 243.0,800.4 257.8,788.7 272.6,777.8 287.4,767.6 302.1,758.1 316.9,749.4 332.4,741.1 347.9,733.4 366.2,724.9 383.1,716.3 387.3,714.7 395.1,712.6 396.5,711.9 399.3,709.3 401.4,708.2 428.2,697.7 454.9,687.8 478.8,679.3 500.7,672.0 528.8,663.4 554.9,655.1 571.8,650.1 588.7,645.5 609.8,640.5 629.5,636.2 647.8,632.7" stroke="url(#g114)"/>
</g>
<g clip-path="url(#clipA1)" fill="#5aab63" stroke="none">
<path d="M202.2,832.7 215.5,820.4 216.2,818.7 225.4,810.9 226.1,808.9 232.4,803.8 233.1,801.8 237.4,798.5 238.1,796.6 241.6,793.9 242.3,792.0 244.4,790.4 245.1,788.5 247.2,787.0 247.9,785.2 248.6,784.7 249.3,782.8 250.0,782.3 250.7,780.5 251.4,780.0 252.9,776.4 253.6,771.8 254.3,760.2 255.7,745.7 297.9,734.4 328.9,727.1 350.7,721.2 370.4,716.6 378.9,714.4 386.6,711.5 400.7,707.3 439.4,692.4 464.1,683.4 485.2,676.1 504.2,669.8 566.8,650.4 585.8,645.2 606.3,640.2 628.1,635.4 647.8,631.6 647.8,666.8 583.7,677.7 522.5,687.8 468.3,697.3 454.9,700.1 430.3,705.9 401.4,712.2 388.0,716.1 383.1,717.8 379.6,719.2 366.2,726.0 345.8,735.5 328.2,744.4 307.8,755.8 288.1,768.2 277.5,775.4 266.9,783.0 256.4,790.9 245.1,799.8 233.8,809.1 222.6,818.9 202.2,837.7Z"/>
</g>
<defs><linearGradient id="g115" gradientUnits="userSpaceOnUse" x1="84.6" y1="0" x2="647.8" y2="0"><stop offset="0.000" stop-color="#ff8200"/><stop offset="0.450" stop-color="#ff8200"/><stop offset="0.475" stop-color="#ff7f00"/><stop offset="1.000" stop-color="#ff7f00"/></linearGradient><linearGradient id="g116" gradientUnits="userSpaceOnUse" x1="84.6" y1="0" x2="647.8" y2="0"><stop offset="0.000" stop-color="#ff8200"/><stop offset="0.450" stop-color="#ff8200"/><stop offset="0.462" stop-color="#ff7f00"/><stop offset="1.000" stop-color="#ff7f00"/></linearGradient><linearGradient id="g117" gradientUnits="userSpaceOnUse" x1="84.6" y1="0" x2="647.8" y2="0"><stop offset="0.000" stop-color="#ff8500"/><stop offset="0.438" stop-color="#ff8500"/><stop offset="0.450" stop-color="#ff8300"/><stop offset="0.462" stop-color="#ff7f00"/><stop offset="1.000" stop-color="#ff7f00"/></linearGradient><linearGradient id="g118" gradientUnits="userSpaceOnUse" x1="84.6" y1="0" x2="647.8" y2="0"><stop offset="0.000" stop-color="#ff8800"/><stop offset="0.425" stop-color="#ff8800"/><stop offset="0.450" stop-color="#ff7f00"/><stop offset="1.000" stop-color="#ff7f00"/></linearGradient><linearGradient id="g119" gradientUnits="userSpaceOnUse" x1="84.6" y1="0" x2="647.8" y2="0"><stop offset="0.000" stop-color="#ff8f00"/><stop offset="0.412" stop-color="#ff8f00"/><stop offset="0.425" stop-color="#ff8b00"/><stop offset="0.438" stop-color="#ff7f00"/><stop offset="0.600" stop-color="#ff8100"/><stop offset="1.000" stop-color="#ff8000"/></linearGradient><linearGradient id="g120" gradientUnits="userSpaceOnUse" x1="84.6" y1="0" x2="647.8" y2="0"><stop offset="0.000" stop-color="#ff9200"/><stop offset="0.400" stop-color="#ff9200"/><stop offset="0.425" stop-color="#ff8000"/><stop offset="0.438" stop-color="#ff7f00"/><stop offset="0.500" stop-color="#ff7f00"/><stop offset="0.512" stop-color="#ff8000"/><stop offset="0.575" stop-color="#ff8200"/><stop offset="1.000" stop-color="#ff8100"/></linearGradient><linearGradient id="g121" gradientUnits="userSpaceOnUse" x1="84.6" y1="0" x2="647.8" y2="0"><stop offset="0.000" stop-color="#ff9900"/><stop offset="0.388" stop-color="#ff9900"/><stop offset="0.400" stop-color="#ff9300"/><stop offset="0.412" stop-color="#ff7f00"/><stop offset="0.450" stop-color="#ff8000"/><stop offset="0.462" stop-color="#ff8300"/><stop offset="0.475" stop-color="#ff8500"/><stop offset="0.500" stop-color="#ff8700"/><stop offset="0.775" stop-color="#ff8500"/><stop offset="0.900" stop-color="#ff8300"/><stop offset="1.000" stop-color="#ff8100"/></linearGradient><linearGradient id="g122" gradientUnits="userSpaceOnUse" x1="84.6" y1="0" x2="647.8" y2="0"><stop offset="0.000" stop-color="#ff9900"/><stop offset="0.388" stop-color="#ff9900"/><stop offset="0.400" stop-color="#ff7f00"/><stop offset="0.438" stop-color="#ff8000"/><stop offset="0.450" stop-color="#ff8300"/><stop offset="0.462" stop-color="#ff8500"/><stop offset="0.487" stop-color="#ff8800"/><stop offset="0.775" stop-color="#ff8600"/><stop offset="0.913" stop-color="#ff8300"/><stop offset="1.000" stop-color="#ff8200"/></linearGradient><linearGradient id="g123" gradientUnits="userSpaceOnUse" x1="84.6" y1="0" x2="647.8" y2="0"><stop offset="0.000" stop-color="#ff9900"/><stop offset="0.375" stop-color="#ff9900"/><stop offset="0.388" stop-color="#ff7f00"/><stop offset="0.412" stop-color="#ff7f00"/><stop offset="0.438" stop-color="#ff8300"/><stop offset="0.450" stop-color="#ff8500"/><stop offset="0.475" stop-color="#ff8800"/><stop offset="0.775" stop-color="#ff8600"/><stop offset="0.925" stop-color="#ff8400"/><stop offset="1.000" stop-color="#ff8200"/></linearGradient><linearGradient id="g124" gradientUnits="userSpaceOnUse" x1="84.6" y1="0" x2="647.8" y2="0"><stop offset="0.000" stop-color="#ff9900"/><stop offset="0.350" stop-color="#ff9900"/><stop offset="0.363" stop-color="#ff8100"/><stop offset="0.375" stop-color="#ff7f00"/><stop offset="0.400" stop-color="#ff7f00"/><stop offset="0.425" stop-color="#ff8400"/><stop offset="0.438" stop-color="#ff8600"/><stop offset="0.450" stop-color="#ff8700"/><stop offset="0.812" stop-color="#ff8500"/><stop offset="0.988" stop-color="#ff8300"/><stop offset="1.000" stop-color="#ff8300"/></linearGradient><linearGradient id="g125" gradientUnits="userSpaceOnUse" x1="84.6" y1="0" x2="647.8" y2="0"><stop offset="0.000" stop-color="#ff9900"/><stop offset="0.325" stop-color="#ff9900"/><stop offset="0.337" stop-color="#ff8f00"/><stop offset="0.350" stop-color="#ff7f00"/><stop offset="0.388" stop-color="#ff7f00"/><stop offset="0.400" stop-color="#ff8100"/><stop offset="0.412" stop-color="#ff8400"/><stop offset="0.438" stop-color="#ff8600"/><stop offset="0.450" stop-color="#ff8700"/><stop offset="0.812" stop-color="#ff8500"/><stop offset="1.000" stop-color="#ff8300"/></linearGradient><linearGradient id="g126" gradientUnits="userSpaceOnUse" x1="84.6" y1="0" x2="647.8" y2="0"><stop offset="0.000" stop-color="#ff9900"/><stop offset="0.300" stop-color="#ff9900"/><stop offset="0.312" stop-color="#ff8d00"/><stop offset="0.325" stop-color="#ff7f00"/><stop offset="0.375" stop-color="#ff7f00"/><stop offset="0.388" stop-color="#ff8100"/><stop offset="0.412" stop-color="#ff8400"/><stop offset="0.438" stop-color="#ff8600"/><stop offset="0.900" stop-color="#ff8400"/><stop offset="1.000" stop-color="#ff8300"/></linearGradient><linearGradient id="g127" gradientUnits="userSpaceOnUse" x1="84.6" y1="0" x2="647.8" y2="0"><stop offset="0.000" stop-color="#ff9900"/><stop offset="0.275" stop-color="#ff9900"/><stop offset="0.288" stop-color="#ff7f00"/><stop offset="0.363" stop-color="#ff7f00"/><stop offset="0.388" stop-color="#ff8200"/><stop offset="0.412" stop-color="#ff8400"/><stop offset="1.000" stop-color="#ff8300"/></linearGradient><linearGradient id="g128" gradientUnits="userSpaceOnUse" x1="84.6" y1="0" x2="647.8" y2="0"><stop offset="0.000" stop-color="#ff9900"/><stop offset="0.238" stop-color="#ff9900"/><stop offset="0.250" stop-color="#ff9400"/><stop offset="0.263" stop-color="#ff7f00"/><stop offset="0.363" stop-color="#ff8000"/><stop offset="0.388" stop-color="#ff8200"/><stop offset="0.650" stop-color="#ff8400"/><stop offset="1.000" stop-color="#ff8300"/></linearGradient><linearGradient id="g129" gradientUnits="userSpaceOnUse" x1="84.6" y1="0" x2="647.8" y2="0"><stop offset="0.000" stop-color="#ff9900"/><stop offset="0.212" stop-color="#ff9900"/><stop offset="0.225" stop-color="#ff7f00"/><stop offset="0.412" stop-color="#ff8200"/><stop offset="0.450" stop-color="#ff8100"/><stop offset="0.475" stop-color="#ff7f00"/><stop offset="0.600" stop-color="#ff8100"/><stop offset="0.625" stop-color="#ff8200"/><stop offset="1.000" stop-color="#ff8300"/></linearGradient></defs>
<g clip-path="url(#clipA1)" fill="none" stroke-width="2.1" stroke-linejoin="round">
<path d="M84.6,824.8 376.1,824.8 376.8,824.0 381.7,816.1 388.7,812.7 396.5,809.3 406.3,805.6 417.6,802.1 437.3,796.7 454.9,792.4 469.7,789.2 485.2,786.1 519.7,780.4 595.7,769.0 621.0,765.6 647.8,762.3" stroke="#ff7f00"/>
<path d="M84.6,820.1 370.4,820.1 376.1,811.1 383.8,807.2 391.5,803.8 401.4,800.0 413.4,796.1 433.1,790.6 450.7,786.2 466.2,782.7 481.7,779.5 516.9,773.4 594.3,761.5 620.3,757.9 647.8,754.4" stroke="#ff7f00"/>
<path d="M84.6,815.7 364.8,815.7 365.5,815.4 371.1,806.2 379.6,802.0 386.6,798.8 396.5,794.9 408.4,791.0 428.9,785.1 447.2,780.4 462.6,776.8 478.1,773.6 493.6,770.8 514.7,767.1 593.6,754.7 620.3,750.9 647.8,747.3" stroke="#ff7f00"/>
<path d="M84.6,810.5 359.9,810.5 360.6,810.4 366.2,801.1 374.6,796.8 383.1,793.0 393.0,789.2 405.6,785.1 426.0,779.3 444.3,774.6 459.8,771.0 476.0,767.7 491.5,764.8 512.6,761.1 592.2,748.6 619.6,744.7 647.8,741.0" stroke="#ff7f00"/>
<path d="M84.6,805.9 355.6,805.9 356.3,805.2 361.3,797.1 362.0,796.3 370.4,792.1 378.2,788.6 388.7,784.5 401.4,780.4 422.5,774.3 441.5,769.4 457.7,765.7 473.9,762.3 490.1,759.3 511.2,755.6 591.5,742.9 618.9,738.9 647.8,735.1" stroke="#ff7f00"/>
<path d="M84.6,801.3 350.7,801.3 351.4,801.1 357.0,792.2 357.8,791.6 366.9,787.1 374.6,783.7 385.2,779.7 397.9,775.6 419.7,769.4 438.7,764.6 454.9,760.8 471.1,757.4 488.0,754.2 509.8,750.4 590.1,737.6 618.2,733.6 647.8,729.7" stroke="url(#g115)"/>
<path d="M84.6,797.1 346.5,797.1 352.8,787.7 362.0,783.3 370.4,779.6 381.0,775.6 394.4,771.3 416.9,764.9 436.6,759.9 453.5,756.0 469.7,752.6 487.3,749.3 508.4,745.6 588.7,732.7 617.5,728.6 647.8,724.5" stroke="url(#g116)"/>
<path d="M84.6,792.9 341.6,792.9 347.9,783.7 357.8,779.0 366.9,775.1 378.2,771.0 391.5,766.8 414.1,760.6 434.5,755.4 452.1,751.4 468.3,748.0 486.6,744.5 507.7,740.8 587.3,728.0 616.8,723.8 647.8,719.6" stroke="url(#g117)"/>
<path d="M84.6,789.0 335.9,789.0 336.6,788.5 342.3,780.4 343.0,779.9 353.5,775.0 362.7,771.1 373.9,767.1 388.0,762.8 411.3,756.4 433.1,751.0 450.7,747.0 466.9,743.6 486.6,739.8 507.0,736.2 585.8,723.6 616.1,719.2 647.8,714.9" stroke="url(#g118)"/>
<path d="M84.6,785.4 330.3,785.3 336.6,776.7 347.9,771.6 357.8,767.6 369.7,763.4 385.2,758.8 408.4,752.5 432.4,746.6 450.0,742.6 466.9,739.0 487.3,735.2 507.0,731.7 584.4,719.2 615.4,714.7 647.8,710.4" stroke="url(#g119)"/>
<path d="M84.6,782.4 323.3,782.4 324.0,781.7 329.6,774.5 330.3,773.9 342.3,768.5 352.8,764.3 367.6,759.4 388.7,753.4 409.1,748.0 431.7,742.5 450.0,738.3 468.3,734.5 488.0,730.8 508.4,727.2 583.7,714.9 615.4,710.3 647.8,706.0" stroke="url(#g120)"/>
<path d="M84.6,779.7 315.5,779.7 322.6,771.5 335.2,766.0 347.2,761.3 362.0,756.5 385.2,750.0 406.3,744.5 431.7,738.3 451.4,733.8 473.9,729.2 492.2,725.8 520.4,721.0 585.8,710.3 616.1,705.9 647.8,701.6" stroke="url(#g121)"/>
<path d="M84.6,778.3 306.4,778.3 307.1,778.0 313.4,770.8 314.1,770.3 328.2,764.2 340.9,759.4 356.3,754.4 381.7,747.3 404.2,741.4 432.4,734.5 453.5,729.7 475.3,725.2 492.9,721.9 526.7,716.0 562.6,709.9 587.3,706.0 617.5,701.5 647.8,697.3" stroke="url(#g122)"/>
<path d="M84.6,777.2 296.5,777.2 297.2,776.6 303.5,769.9 304.2,769.4 319.7,762.8 333.1,757.9 348.6,753.0 375.4,745.4 400.7,738.8 431.0,731.2 453.5,726.0 473.9,721.8 529.5,711.6 561.9,706.1 588.0,701.9 617.5,697.4 647.8,693.1" stroke="url(#g123)"/>
<path d="M84.6,776.3 284.5,776.3 285.2,776.2 292.3,769.3 293.0,769.0 309.2,762.2 324.0,756.8 339.4,751.9 367.6,744.0 407.0,733.6 428.9,728.1 451.4,722.8 470.4,718.8 530.9,707.5 561.2,702.2 588.7,697.7 618.2,693.2 647.8,689.0" stroke="url(#g124)"/>
<path d="M84.6,775.8 271.9,775.8 279.6,769.1 297.9,761.6 314.1,755.8 330.3,750.9 360.6,742.3 408.4,729.5 431.7,723.7 451.4,719.1 468.3,715.5 533.0,703.2 561.2,698.3 589.4,693.6 618.2,689.1 647.8,684.8" stroke="url(#g125)"/>
<path d="M84.6,775.4 257.1,775.3 264.8,769.4 284.5,761.4 293.7,758.1 302.8,755.1 319.0,750.3 351.4,741.2 404.9,726.7 433.8,719.4 450.7,715.4 466.9,712.0 509.1,703.7 534.5,699.0 561.9,694.2 590.8,689.4 618.9,685.0 647.8,680.7" stroke="url(#g126)"/>
<path d="M84.6,775.0 240.2,775.0 247.9,770.0 249.3,769.3 270.5,761.1 280.3,757.7 289.5,754.8 326.8,744.1 392.2,726.1 413.4,720.5 432.4,715.7 447.2,712.3 463.4,708.9 507.0,700.2 532.3,695.4 559.8,690.6 590.1,685.5 647.8,676.6" stroke="url(#g127)"/>
<path d="M84.6,774.8 221.2,774.7 229.6,770.3 239.5,766.5 257.1,760.2 274.0,754.8 290.9,749.9 350.0,733.7 385.9,723.5 411.3,716.8 428.9,712.4 442.9,709.2 459.8,705.6 502.8,696.9 528.1,692.1 556.3,687.1 588.7,681.7 647.8,672.5" stroke="url(#g128)"/>
<path d="M84.6,774.5 200.1,774.5 214.8,768.9 229.6,763.6 243.7,758.9 256.4,755.1 334.5,733.6 377.5,721.4 404.2,714.2 422.5,709.6 442.2,705.2 483.1,696.8 522.5,689.0 551.4,683.9 586.6,678.0 617.5,673.0 647.8,668.4" stroke="url(#g129)"/>
</g>
<g clip-path="url(#clipA1)" fill="#ff9900" stroke="none">
<path d="M84.6,773.5 199.4,773.5 200.1,773.4 203.6,772.1 204.3,773.7 220.5,773.7 221.2,773.7 224.0,772.2 224.7,774.0 240.2,773.9 242.3,772.6 243.0,774.3 256.4,774.3 257.1,774.3 258.5,773.2 259.2,774.7 271.9,774.7 273.3,773.5 274.0,775.3 284.5,775.3 285.2,775.2 285.9,774.5 286.6,776.1 296.5,776.1 297.2,775.6 297.2,780.8 84.6,780.8Z"/>
</g>
<clipPath id="clipB1"><rect x="885.60" y="595.00" width="563.60" height="394.20"/></clipPath>
<defs><linearGradient id="g130" gradientUnits="userSpaceOnUse" x1="885.6" y1="0" x2="1449.2" y2="0"><stop offset="0.000" stop-color="#ff7f00"/><stop offset="0.650" stop-color="#ff7f00"/><stop offset="0.663" stop-color="#ff8200"/><stop offset="0.675" stop-color="#ff7f00"/><stop offset="1.000" stop-color="#ff7f00"/></linearGradient><linearGradient id="g131" gradientUnits="userSpaceOnUse" x1="885.6" y1="0" x2="1449.2" y2="0"><stop offset="0.000" stop-color="#ff7f00"/><stop offset="0.650" stop-color="#ff7f00"/><stop offset="0.663" stop-color="#ff8200"/><stop offset="0.675" stop-color="#ff8500"/><stop offset="0.688" stop-color="#ff7f00"/><stop offset="1.000" stop-color="#ff7f00"/></linearGradient><linearGradient id="g132" gradientUnits="userSpaceOnUse" x1="885.6" y1="0" x2="1449.2" y2="0"><stop offset="0.000" stop-color="#ff7f00"/><stop offset="0.663" stop-color="#ff7f00"/><stop offset="0.675" stop-color="#ff8500"/><stop offset="0.688" stop-color="#ff8500"/><stop offset="0.700" stop-color="#ff7f00"/><stop offset="1.000" stop-color="#ff7f00"/></linearGradient><linearGradient id="g133" gradientUnits="userSpaceOnUse" x1="885.6" y1="0" x2="1449.2" y2="0"><stop offset="0.000" stop-color="#ff7f00"/><stop offset="0.675" stop-color="#ff7f00"/><stop offset="0.688" stop-color="#ff8c00"/><stop offset="0.700" stop-color="#ff7f00"/><stop offset="1.000" stop-color="#ff7f00"/></linearGradient><linearGradient id="g134" gradientUnits="userSpaceOnUse" x1="885.6" y1="0" x2="1449.2" y2="0"><stop offset="0.000" stop-color="#ff7f00"/><stop offset="0.688" stop-color="#ff7f00"/><stop offset="0.700" stop-color="#ff8a00"/><stop offset="0.712" stop-color="#ff7f00"/><stop offset="1.000" stop-color="#ff7f00"/></linearGradient><linearGradient id="g135" gradientUnits="userSpaceOnUse" x1="885.6" y1="0" x2="1449.2" y2="0"><stop offset="0.000" stop-color="#ff7f00"/><stop offset="0.688" stop-color="#ff7f00"/><stop offset="0.700" stop-color="#ff8500"/><stop offset="0.712" stop-color="#ff8c00"/><stop offset="0.725" stop-color="#ff7f00"/><stop offset="1.000" stop-color="#ff7f00"/></linearGradient><linearGradient id="g136" gradientUnits="userSpaceOnUse" x1="885.6" y1="0" x2="1449.2" y2="0"><stop offset="0.000" stop-color="#ff7f00"/><stop offset="0.700" stop-color="#ff7f00"/><stop offset="0.712" stop-color="#ff9700"/><stop offset="0.725" stop-color="#ff7f00"/><stop offset="1.000" stop-color="#ff7f00"/></linearGradient><linearGradient id="g137" gradientUnits="userSpaceOnUse" x1="885.6" y1="0" x2="1449.2" y2="0"><stop offset="0.000" stop-color="#ff7f00"/><stop offset="0.700" stop-color="#ff7f00"/><stop offset="0.712" stop-color="#ff8900"/><stop offset="0.725" stop-color="#ff8f00"/><stop offset="0.738" stop-color="#ff8200"/><stop offset="0.762" stop-color="#ff7f00"/><stop offset="0.950" stop-color="#ff8100"/><stop offset="1.000" stop-color="#ff8200"/></linearGradient><linearGradient id="g138" gradientUnits="userSpaceOnUse" x1="885.6" y1="0" x2="1449.2" y2="0"><stop offset="0.000" stop-color="#ff7f00"/><stop offset="0.712" stop-color="#ff7f00"/><stop offset="0.725" stop-color="#ff9900"/><stop offset="0.738" stop-color="#ff8500"/><stop offset="0.750" stop-color="#ff8200"/><stop offset="0.775" stop-color="#ff7f00"/><stop offset="0.963" stop-color="#ff8100"/><stop offset="1.000" stop-color="#ff8200"/></linearGradient><linearGradient id="g139" gradientUnits="userSpaceOnUse" x1="885.6" y1="0" x2="1449.2" y2="0"><stop offset="0.000" stop-color="#ff7f00"/><stop offset="0.712" stop-color="#ff7f00"/><stop offset="0.725" stop-color="#ff8d00"/><stop offset="0.738" stop-color="#ff9500"/><stop offset="0.750" stop-color="#ff8800"/><stop offset="0.762" stop-color="#ff8600"/><stop offset="0.775" stop-color="#ff8400"/><stop offset="0.850" stop-color="#ff8200"/><stop offset="1.000" stop-color="#ff8200"/></linearGradient><linearGradient id="g140" gradientUnits="userSpaceOnUse" x1="885.6" y1="0" x2="1449.2" y2="0"><stop offset="0.000" stop-color="#ff7f00"/><stop offset="0.725" stop-color="#ff7f00"/><stop offset="0.738" stop-color="#ff9900"/><stop offset="0.750" stop-color="#ff8900"/><stop offset="0.762" stop-color="#ff8600"/><stop offset="0.775" stop-color="#ff8400"/><stop offset="0.850" stop-color="#ff8200"/><stop offset="1.000" stop-color="#ff8200"/></linearGradient><linearGradient id="g141" gradientUnits="userSpaceOnUse" x1="885.6" y1="0" x2="1449.2" y2="0"><stop offset="0.000" stop-color="#ff7f00"/><stop offset="0.725" stop-color="#ff7f00"/><stop offset="0.738" stop-color="#ff9200"/><stop offset="0.750" stop-color="#ff9800"/><stop offset="0.762" stop-color="#ff8b00"/><stop offset="0.775" stop-color="#ff8900"/><stop offset="0.787" stop-color="#ff8800"/><stop offset="1.000" stop-color="#ff8800"/></linearGradient><linearGradient id="g142" gradientUnits="userSpaceOnUse" x1="885.6" y1="0" x2="1449.2" y2="0"><stop offset="0.000" stop-color="#ff7f00"/><stop offset="0.725" stop-color="#ff7f00"/><stop offset="0.750" stop-color="#ff9900"/><stop offset="0.762" stop-color="#ff8c00"/><stop offset="0.775" stop-color="#ff8900"/><stop offset="0.787" stop-color="#ff8800"/><stop offset="1.000" stop-color="#ff8800"/></linearGradient><linearGradient id="g143" gradientUnits="userSpaceOnUse" x1="885.6" y1="0" x2="1449.2" y2="0"><stop offset="0.000" stop-color="#ff8200"/><stop offset="0.738" stop-color="#ff8200"/><stop offset="0.750" stop-color="#ff9400"/><stop offset="0.762" stop-color="#ff9900"/><stop offset="0.775" stop-color="#ff9000"/><stop offset="0.787" stop-color="#ff8d00"/><stop offset="0.800" stop-color="#ff8c00"/><stop offset="0.850" stop-color="#ff8a00"/><stop offset="1.000" stop-color="#ff8900"/></linearGradient><linearGradient id="g144" gradientUnits="userSpaceOnUse" x1="885.6" y1="0" x2="1449.2" y2="0"><stop offset="0.000" stop-color="#ff8800"/><stop offset="0.750" stop-color="#ff8800"/><stop offset="0.762" stop-color="#ff9900"/><stop offset="0.775" stop-color="#ff9600"/><stop offset="0.787" stop-color="#ff9300"/><stop offset="0.800" stop-color="#ff9200"/><stop offset="1.000" stop-color="#ff9000"/></linearGradient><linearGradient id="g145" gradientUnits="userSpaceOnUse" x1="885.6" y1="0" x2="1449.2" y2="0"><stop offset="0.000" stop-color="#ff8800"/><stop offset="0.750" stop-color="#ff8800"/><stop offset="0.762" stop-color="#ff9900"/><stop offset="0.775" stop-color="#ff9900"/><stop offset="0.787" stop-color="#ff9300"/><stop offset="0.800" stop-color="#ff9200"/><stop offset="1.000" stop-color="#ff9000"/></linearGradient><linearGradient id="g146" gradientUnits="userSpaceOnUse" x1="885.6" y1="0" x2="1449.2" y2="0"><stop offset="0.000" stop-color="#ff8800"/><stop offset="0.750" stop-color="#ff8800"/><stop offset="0.775" stop-color="#ff9900"/><stop offset="0.787" stop-color="#ff9200"/><stop offset="0.800" stop-color="#ff8f00"/><stop offset="0.813" stop-color="#ff8e00"/><stop offset="0.862" stop-color="#ff8b00"/><stop offset="0.988" stop-color="#ff8900"/><stop offset="1.000" stop-color="#ff8900"/></linearGradient><linearGradient id="g147" gradientUnits="userSpaceOnUse" x1="885.6" y1="0" x2="1449.2" y2="0"><stop offset="0.000" stop-color="#ff8800"/><stop offset="0.762" stop-color="#ff8800"/><stop offset="0.775" stop-color="#ff9900"/><stop offset="0.787" stop-color="#ff9500"/><stop offset="0.800" stop-color="#ff8f00"/><stop offset="0.813" stop-color="#ff8e00"/><stop offset="0.862" stop-color="#ff8b00"/><stop offset="0.988" stop-color="#ff8900"/><stop offset="1.000" stop-color="#ff8900"/></linearGradient><linearGradient id="g148" gradientUnits="userSpaceOnUse" x1="885.6" y1="0" x2="1449.2" y2="0"><stop offset="0.000" stop-color="#ff8d00"/><stop offset="0.762" stop-color="#ff8d00"/><stop offset="0.775" stop-color="#ff9200"/><stop offset="0.787" stop-color="#ff9900"/><stop offset="0.800" stop-color="#ff9500"/><stop offset="0.825" stop-color="#ff9200"/><stop offset="0.888" stop-color="#ff9000"/><stop offset="1.000" stop-color="#ff8f00"/></linearGradient><linearGradient id="g149" gradientUnits="userSpaceOnUse" x1="885.6" y1="0" x2="1449.2" y2="0"><stop offset="0.000" stop-color="#ff9200"/><stop offset="0.775" stop-color="#ff9200"/><stop offset="0.787" stop-color="#ff9900"/><stop offset="0.800" stop-color="#ff9900"/><stop offset="0.825" stop-color="#ff9600"/><stop offset="0.912" stop-color="#ff9400"/><stop offset="1.000" stop-color="#ff9400"/></linearGradient><linearGradient id="g150" gradientUnits="userSpaceOnUse" x1="885.6" y1="0" x2="1449.2" y2="0"><stop offset="0.000" stop-color="#ff9200"/><stop offset="0.775" stop-color="#ff9200"/><stop offset="0.787" stop-color="#ff9900"/><stop offset="0.800" stop-color="#ff9900"/><stop offset="0.825" stop-color="#ff9700"/><stop offset="1.000" stop-color="#ff9500"/></linearGradient><linearGradient id="g151" gradientUnits="userSpaceOnUse" x1="885.6" y1="0" x2="1449.2" y2="0"><stop offset="0.000" stop-color="#ff9800"/><stop offset="0.775" stop-color="#ff9800"/><stop offset="0.787" stop-color="#ff9900"/><stop offset="1.000" stop-color="#ff9900"/></linearGradient><linearGradient id="g152" gradientUnits="userSpaceOnUse" x1="885.6" y1="0" x2="1449.2" y2="0"><stop offset="0.000" stop-color="#ff9800"/><stop offset="0.775" stop-color="#ff9800"/><stop offset="0.787" stop-color="#ff9900"/><stop offset="1.000" stop-color="#ff9900"/></linearGradient><linearGradient id="g153" gradientUnits="userSpaceOnUse" x1="885.6" y1="0" x2="1449.2" y2="0"><stop offset="0.000" stop-color="#ff9800"/><stop offset="0.787" stop-color="#ff9800"/><stop offset="0.800" stop-color="#ff9900"/><stop offset="1.000" stop-color="#ff9900"/></linearGradient><linearGradient id="g154" gradientUnits="userSpaceOnUse" x1="885.6" y1="0" x2="1449.2" y2="0"><stop offset="0.000" stop-color="#ff9800"/><stop offset="0.787" stop-color="#ff9800"/><stop offset="0.800" stop-color="#ff9900"/><stop offset="1.000" stop-color="#ff9900"/></linearGradient><linearGradient id="g155" gradientUnits="userSpaceOnUse" x1="885.6" y1="0" x2="1449.2" y2="0"><stop offset="0.000" stop-color="#ff9800"/><stop offset="0.787" stop-color="#ff9800"/><stop offset="0.800" stop-color="#ff9900"/><stop offset="1.000" stop-color="#ff9900"/></linearGradient><linearGradient id="g156" gradientUnits="userSpaceOnUse" x1="885.6" y1="0" x2="1449.2" y2="0"><stop offset="0.000" stop-color="#ff9800"/><stop offset="0.800" stop-color="#ff9800"/><stop offset="0.813" stop-color="#ff9900"/><stop offset="1.000" stop-color="#ff9900"/></linearGradient><linearGradient id="g157" gradientUnits="userSpaceOnUse" x1="885.6" y1="0" x2="1449.2" y2="0"><stop offset="0.000" stop-color="#ff9800"/><stop offset="0.800" stop-color="#ff9800"/><stop offset="0.813" stop-color="#ff9900"/><stop offset="1.000" stop-color="#ff9900"/></linearGradient><linearGradient id="g158" gradientUnits="userSpaceOnUse" x1="885.6" y1="0" x2="1449.2" y2="0"><stop offset="0.000" stop-color="#ff9800"/><stop offset="0.800" stop-color="#ff9800"/><stop offset="0.813" stop-color="#ff9900"/><stop offset="1.000" stop-color="#ff9900"/></linearGradient><linearGradient id="g159" gradientUnits="userSpaceOnUse" x1="885.6" y1="0" x2="1449.2" y2="0"><stop offset="0.000" stop-color="#ff9800"/><stop offset="0.800" stop-color="#ff9800"/><stop offset="0.813" stop-color="#ff9900"/><stop offset="1.000" stop-color="#ff9900"/></linearGradient><linearGradient id="g160" gradientUnits="userSpaceOnUse" x1="885.6" y1="0" x2="1449.2" y2="0"><stop offset="0.000" stop-color="#ff9500"/><stop offset="0.825" stop-color="#ff9600"/><stop offset="0.837" stop-color="#ff9900"/><stop offset="1.000" stop-color="#ff9900"/></linearGradient><linearGradient id="g161" gradientUnits="userSpaceOnUse" x1="885.6" y1="0" x2="1449.2" y2="0"><stop offset="0.000" stop-color="#ff9800"/><stop offset="0.850" stop-color="#ff9800"/><stop offset="0.862" stop-color="#ff9900"/><stop offset="1.000" stop-color="#ff9900"/></linearGradient><linearGradient id="g162" gradientUnits="userSpaceOnUse" x1="885.6" y1="0" x2="1449.2" y2="0"><stop offset="0.000" stop-color="#ff9800"/><stop offset="0.875" stop-color="#ff9800"/><stop offset="0.888" stop-color="#ff9900"/><stop offset="1.000" stop-color="#ff9900"/></linearGradient></defs>
<g clip-path="url(#clipB1)" fill="none" stroke-width="2.1" stroke-linejoin="round">
<path d="M885.6,941.7 1175.9,941.7 1176.6,941.7 1181.5,934.3 1182.2,933.5 1190.6,929.7 1197.7,926.9 1207.6,923.5 1218.8,920.2 1238.6,915.2 1255.5,911.3 1270.3,908.3 1285.8,905.5 1320.3,900.1 1397.1,889.3 1422.4,886.1 1449.2,883.0" stroke="#ff7f00"/>
<path d="M885.6,919.2 1187.8,919.2 1188.5,918.8 1193.5,911.7 1201.2,908.4 1208.3,905.6 1217.4,902.6 1228.7,899.4 1247.7,894.8 1263.9,891.2 1278.0,888.4 1292.8,885.8 1325.9,880.8 1399.2,871.0 1423.8,868.0 1449.2,865.2" stroke="#ff7f00"/>
<path d="M885.6,899.6 1199.1,899.6 1204.0,892.6 1210.4,889.8 1218.1,886.8 1227.3,883.8 1237.8,880.8 1256.2,876.4 1271.7,873.0 1285.1,870.4 1299.1,868.0 1331.5,863.1 1401.3,853.9 1449.2,848.3" stroke="#ff7f00"/>
<path d="M885.6,881.6 1210.4,881.6 1211.1,881.5 1215.3,875.4 1216.0,874.7 1223.1,871.7 1229.4,869.2 1237.8,866.4 1247.7,863.7 1265.3,859.4 1280.1,856.2 1292.8,853.7 1306.2,851.4 1337.2,846.7 1403.4,837.9 1449.2,832.6" stroke="#ff7f00"/>
<path d="M885.6,866.0 1221.6,866.0 1225.9,860.1 1226.6,859.5 1238.6,854.8 1246.3,852.2 1256.2,849.5 1272.4,845.7 1287.2,842.5 1312.5,837.9 1341.4,833.7 1405.5,825.4 1449.2,820.5" stroke="#ff7f00"/>
<path d="M885.6,852.2 1230.1,852.2 1230.8,851.7 1235.0,846.2 1247.0,841.5 1254.8,839.1 1263.9,836.7 1279.4,833.1 1293.5,830.1 1317.5,825.9 1345.6,821.9 1406.9,814.1 1449.2,809.4" stroke="#ff7f00"/>
<path d="M885.6,839.4 1238.6,839.3 1242.8,833.6 1254.1,829.2 1261.1,826.9 1270.3,824.4 1285.8,820.8 1299.1,818.0 1322.4,813.8 1349.2,810.0 1408.3,802.4 1449.2,797.9" stroke="#ff7f00"/>
<path d="M885.6,827.9 1245.6,827.9 1246.3,827.6 1249.8,822.7 1250.5,822.2 1261.8,817.8 1268.8,815.6 1277.3,813.3 1292.1,809.9 1304.8,807.2 1327.3,803.2 1353.4,799.5 1410.5,792.2 1449.2,787.9" stroke="#ff7f00"/>
<path d="M885.6,817.2 1253.3,817.2 1254.1,816.6 1257.6,811.8 1268.8,807.4 1275.9,805.2 1284.3,802.9 1298.4,799.6 1310.4,797.1 1332.3,793.2 1356.9,789.7 1411.9,782.6 1449.2,778.4" stroke="url(#g130)"/>
<path d="M885.6,807.5 1260.4,807.5 1261.1,806.9 1264.6,802.2 1275.2,798.1 1281.5,796.0 1290.0,793.8 1303.4,790.6 1315.3,788.1 1336.5,784.3 1360.4,780.9 1413.3,774.0 1449.2,770.0" stroke="url(#g131)"/>
<path d="M885.6,798.4 1266.7,798.4 1267.4,797.7 1270.3,793.9 1271.0,793.3 1280.8,789.5 1287.2,787.4 1294.9,785.4 1308.3,782.3 1319.6,779.9 1340.0,776.3 1363.3,773.0 1414.0,766.6 1449.2,762.7" stroke="url(#g132)"/>
<path d="M885.6,790.4 1271.7,790.4 1272.4,789.9 1275.2,786.0 1275.9,785.5 1285.1,781.9 1291.4,779.9 1299.1,777.8 1311.8,774.9 1323.1,772.6 1342.8,769.1 1365.4,765.9 1415.4,759.5 1449.2,755.8" stroke="url(#g133)"/>
<path d="M885.6,782.9 1275.9,782.9 1276.6,782.7 1280.1,778.1 1290.0,774.3 1296.3,772.3 1303.4,770.5 1316.0,767.5 1326.6,765.3 1345.6,762.0 1367.5,758.8 1416.1,752.7 1449.2,749.0" stroke="url(#g134)"/>
<path d="M885.6,775.3 1280.8,775.3 1281.5,774.6 1284.3,770.8 1293.5,767.1 1299.8,765.1 1306.9,763.2 1318.9,760.4 1329.4,758.2 1347.8,754.9 1369.6,751.8 1416.8,745.8 1449.2,742.2" stroke="url(#g135)"/>
<path d="M885.6,769.2 1284.3,769.2 1285.1,768.9 1287.9,765.0 1288.6,764.5 1297.7,761.0 1303.4,759.2 1310.4,757.3 1322.4,754.6 1332.3,752.5 1350.6,749.3 1371.7,746.2 1417.5,740.4 1449.2,736.9" stroke="url(#g136)"/>
<path d="M885.6,762.9 1288.6,762.9 1292.1,758.5 1300.6,755.1 1306.2,753.3 1313.2,751.4 1325.2,748.6 1335.1,746.5 1352.7,743.3 1373.1,740.4 1418.2,734.6 1449.2,731.1" stroke="url(#g137)"/>
<path d="M885.6,757.0 1292.1,757.0 1292.8,756.6 1295.6,752.9 1304.8,749.4 1310.4,747.7 1316.8,746.0 1337.9,741.4 1355.5,738.4 1375.2,735.6 1418.9,730.2 1449.2,726.9" stroke="url(#g138)"/>
<path d="M885.6,751.6 1295.6,751.6 1296.3,751.2 1299.1,747.5 1307.6,744.3 1313.2,742.5 1319.6,740.9 1330.8,738.3 1340.7,736.3 1357.6,733.4 1377.3,730.7 1419.6,725.4 1449.2,722.2" stroke="url(#g139)"/>
<path d="M885.6,746.7 1299.1,746.7 1302.0,743.1 1302.7,742.6 1310.4,739.6 1316.0,737.9 1322.4,736.2 1342.8,731.8 1359.7,728.9 1378.8,726.3 1420.3,721.1 1449.2,718.0" stroke="url(#g140)"/>
<path d="M885.6,742.0 1302.0,742.0 1302.7,741.9 1305.5,738.1 1313.9,734.7 1318.9,733.2 1325.2,731.5 1344.9,727.1 1361.1,724.3 1380.2,721.6 1421.0,716.4 1449.2,713.3" stroke="url(#g141)"/>
<path d="M885.6,737.3 1306.2,737.3 1309.0,733.5 1316.8,730.5 1321.7,728.9 1328.0,727.2 1347.8,722.9 1363.3,720.2 1381.6,717.6 1421.7,712.6 1449.2,709.6" stroke="url(#g142)"/>
<path d="M885.6,732.2 1310.4,732.2 1313.2,728.5 1321.0,725.5 1325.9,723.9 1331.5,722.5 1350.6,718.3 1366.1,715.6 1383.7,713.1 1422.4,708.3 1449.2,705.4" stroke="url(#g143)"/>
<path d="M885.6,728.0 1313.9,728.0 1316.8,724.4 1324.5,721.4 1329.4,719.9 1335.1,718.4 1353.4,714.4 1368.2,711.8 1385.8,709.3 1423.1,704.7 1449.2,701.8" stroke="url(#g144)"/>
<path d="M885.6,724.3 1316.8,724.3 1317.5,724.1 1319.6,721.3 1320.3,720.6 1327.3,718.0 1332.3,716.4 1337.9,715.0 1355.5,711.2 1370.3,708.6 1387.2,706.3 1423.8,701.7 1449.2,699.0" stroke="url(#g145)"/>
<path d="M885.6,720.6 1320.3,720.6 1323.1,717.0 1330.1,714.3 1334.4,712.9 1340.0,711.4 1357.6,707.5 1371.7,705.0 1388.6,702.6 1424.5,698.1 1449.2,695.3" stroke="url(#g146)"/>
<path d="M885.6,716.9 1323.1,716.9 1325.9,713.3 1333.0,710.6 1337.2,709.2 1342.8,707.7 1359.7,703.9 1373.8,701.4 1390.0,699.1 1425.2,694.5 1449.2,691.8" stroke="url(#g147)"/>
<path d="M885.6,713.3 1325.2,713.3 1325.9,713.0 1328.0,710.0 1328.7,709.5 1335.1,707.0 1339.3,705.6 1344.9,704.0 1361.8,700.2 1375.2,697.7 1391.4,695.3 1425.2,690.9 1449.2,688.1" stroke="url(#g148)"/>
<path d="M885.6,710.1 1327.3,710.1 1328.0,709.8 1330.1,706.7 1337.2,703.8 1341.4,702.4 1347.0,700.8 1363.3,697.1 1376.6,694.6 1392.1,692.3 1426.0,687.8 1449.2,685.1" stroke="url(#g149)"/>
<path d="M885.6,707.5 1329.4,707.5 1331.5,704.5 1332.3,703.8 1338.6,701.2 1347.8,698.4 1364.0,694.6 1377.3,692.1 1392.8,689.8 1426.0,685.3 1449.2,682.6" stroke="url(#g150)"/>
<path d="M885.6,704.9 1330.8,704.9 1331.5,704.2 1333.7,701.3 1340.0,698.7 1344.2,697.3 1349.2,695.9 1365.4,692.1 1378.0,689.7 1393.5,687.3 1426.7,682.8 1449.2,680.2" stroke="url(#g151)"/>
<path d="M885.6,702.7 1332.3,702.7 1334.4,699.9 1335.1,699.2 1341.4,696.7 1350.6,693.9 1366.1,690.3 1378.8,687.9 1394.2,685.6 1426.7,681.3 1449.2,678.6" stroke="url(#g152)"/>
<path d="M885.6,700.6 1333.7,700.6 1335.8,697.6 1336.5,697.1 1342.1,694.8 1346.3,693.4 1351.3,692.0 1366.8,688.4 1379.5,686.1 1394.2,683.8 1426.7,679.5 1449.2,676.9" stroke="url(#g153)"/>
<path d="M885.6,698.5 1334.4,698.5 1335.1,698.3 1337.2,695.3 1344.2,692.5 1353.4,689.8 1368.2,686.5 1380.9,684.2 1395.7,682.0 1427.4,677.8 1449.2,675.3" stroke="#ff9900"/>
<path d="M885.6,696.7 1335.8,696.7 1338.6,693.4 1344.9,690.9 1353.4,688.4 1368.9,684.9 1381.6,682.6 1395.7,680.6 1427.4,676.5 1449.2,674.0" stroke="#ff9900"/>
<path d="M885.6,694.9 1336.5,694.9 1337.2,694.8 1339.3,691.9 1345.6,689.3 1354.1,686.9 1369.6,683.4 1382.3,681.1 1396.4,679.1 1427.4,675.1 1449.2,672.7" stroke="#ff9900"/>
<path d="M885.6,692.8 1337.9,692.8 1338.6,692.5 1340.7,689.8 1347.0,687.4 1355.5,685.0 1370.3,681.8 1383.0,679.7 1397.1,677.7 1428.1,673.9 1449.2,671.6" stroke="url(#g154)"/>
<path d="M885.6,690.7 1339.3,690.7 1340.0,690.2 1342.1,687.8 1348.5,685.5 1356.9,683.3 1371.7,680.3 1383.7,678.4 1397.8,676.5 1428.1,672.9 1449.2,670.8" stroke="url(#g155)"/>
<path d="M885.6,688.6 1340.7,688.6 1342.8,686.1 1343.5,685.7 1349.2,683.7 1357.6,681.5 1372.4,678.6 1384.4,676.7 1398.5,674.9 1428.8,671.4 1449.2,669.4" stroke="url(#g156)"/>
<path d="M885.6,686.5 1341.4,686.5 1342.1,686.4 1344.2,683.8 1350.6,681.6 1359.0,679.5 1373.1,676.7 1385.1,674.8 1398.5,673.1 1428.8,669.7 1449.2,667.7" stroke="url(#g157)"/>
<path d="M885.6,684.4 1342.8,684.4 1343.5,684.1 1345.6,681.9 1351.3,680.0 1359.7,678.0 1373.8,675.4 1385.8,673.6 1399.2,672.0 1428.8,668.8 1449.2,667.0" stroke="url(#g158)"/>
<path d="M885.6,682.2 1344.2,682.2 1344.9,681.9 1346.3,680.4 1347.0,680.0 1352.7,678.3 1361.1,676.5 1375.2,674.1 1386.5,672.6 1399.9,671.1 1428.8,668.3 1449.2,666.6" stroke="url(#g159)"/>
<path d="M885.6,680.1 1345.6,680.1 1346.3,679.8 1347.8,678.5 1348.5,678.1 1354.1,676.6 1361.8,675.1 1375.9,673.0 1387.2,671.6 1400.6,670.3 1429.5,667.8 1449.2,666.3" stroke="#ff9900"/>
<path d="M885.6,678.3 1347.0,678.3 1349.2,676.7 1354.8,675.3 1362.5,673.9 1376.6,672.0 1387.9,670.8 1401.3,669.7 1449.2,666.2" stroke="#ff9900"/>
<path d="M885.6,673.6 1449.2,673.6" stroke="url(#g160)"/>
<path d="M885.6,671.2 1449.2,671.2" stroke="url(#g161)"/>
<path d="M885.6,669.1 1449.2,669.1" stroke="url(#g162)"/>
</g>
<g clip-path="url(#clipB1)" fill="#ff9900" stroke="none">
<path d="M885.6,693.8 1336.5,693.8 1337.2,693.7 1338.6,689.6 1339.3,689.6 1340.0,687.5 1340.7,687.5 1341.4,685.4 1342.1,685.3 1343.5,681.2 1344.2,681.2 1344.9,677.3 1347.0,677.3 1349.2,675.7 1353.4,674.6 1354.1,672.5 1364.7,672.5 1368.2,672.1 1368.9,670.2 1383.7,670.2 1385.8,670.0 1386.5,668.1 1408.3,668.1 1449.2,665.1 1449.2,681.3 1428.1,683.7 1402.7,687.1 1385.1,689.6 1373.8,691.5 1361.1,694.0 1348.5,697.1 1341.4,699.3 1334.4,702.1 1333.7,699.6 885.6,699.6Z"/>
</g>
<g clip-path="url(#clipB1)" fill="none" stroke="#d0202e" stroke-width="2.1">
<path d="M885.6,664.6 1449.2,664.6"/>
<path d="M885.6,667.0 1449.2,667.0"/>
<path d="M885.6,675.6 1353.4,675.6 1355.5,675.1 1360.4,674.7 1380.9,673.7 1449.2,671.9"/>
</g>
<rect x="111.50" y="83.80" width="45.40" height="27.00" fill="#5aab63" stroke="#000" stroke-width="2.2"/>
<rect x="298.10" y="83.80" width="45.10" height="27.00" fill="#ff9900" stroke="#000" stroke-width="2.2"/>
<line x1="285.10" y1="97.60" x2="216.90" y2="97.60" stroke="#000" stroke-width="1.6"/>
<path d="M206.60,97.60 L218.60,94.00 L216.90,97.60 L218.60,101.20 Z" fill="#000"/>
<rect x="109.40" y="611.50" width="45.80" height="26.60" fill="#5aab63" stroke="#000" stroke-width="2.2"/>
<rect x="296.40" y="611.50" width="45.40" height="26.60" fill="#ff9900" stroke="#000" stroke-width="2.2"/>
<line x1="206.30" y1="625.00" x2="274.20" y2="625.00" stroke="#000" stroke-width="1.6"/>
<path d="M284.50,625.00 L272.50,628.60 L274.20,625.00 L272.50,621.40 Z" fill="#000"/>
<rect x="909.40" y="84.00" width="45.70" height="26.40" fill="#ff9900" stroke="#000" stroke-width="2.2"/>
<rect x="1128.60" y="84.00" width="45.80" height="26.40" fill="#d42232" stroke="#000" stroke-width="2.2"/>
<line x1="1117.40" y1="97.50" x2="1049.70" y2="97.50" stroke="#000" stroke-width="1.6"/>
<path d="M1039.40,97.50 L1051.40,93.90 L1049.70,97.50 L1051.40,101.10 Z" fill="#000"/>
<rect x="909.40" y="615.70" width="45.70" height="26.80" fill="#ff9900" stroke="#000" stroke-width="2.2"/>
<rect x="1128.60" y="615.70" width="45.80" height="26.80" fill="#d42232" stroke="#000" stroke-width="2.2"/>
<line x1="1040.50" y1="629.70" x2="1108.00" y2="629.70" stroke="#000" stroke-width="1.6"/>
<path d="M1118.30,629.70 L1106.30,633.30 L1108.00,629.70 L1106.30,626.10 Z" fill="#000"/>
<line x1="696.20" y1="218.00" x2="696.20" y2="115.20" stroke="#000" stroke-width="1.6"/>
<path d="M696.20,104.90 L699.80,116.90 L696.20,115.20 L692.60,116.90 Z" fill="#000"/>
<line x1="694.10" y1="637.70" x2="694.10" y2="740.90" stroke="#000" stroke-width="1.6"/>
<path d="M694.10,751.20 L690.50,739.20 L694.10,740.90 L697.70,739.20 Z" fill="#000"/>
<line x1="843.80" y1="150.00" x2="843.80" y2="386.70" stroke="#000" stroke-width="1.6"/>
<path d="M843.80,397.80 L839.80,385.00 L843.80,386.70 L847.80,385.00 Z" fill="#000"/>
<line x1="844.00" y1="929.50" x2="844.00" y2="689.30" stroke="#000" stroke-width="1.6"/>
<path d="M844.00,678.40 L847.90,691.00 L844.00,689.30 L840.10,691.00 Z" fill="#000"/>
<rect x="84.60" y="63.60" width="563.20" height="394.20" fill="none" stroke="#111" stroke-width="1.5"/>
<path d="M140.92,457.80v-5.5M140.92,63.60v5.5M197.24,457.80v-11.0M197.24,63.60v11.0M253.56,457.80v-5.5M253.56,63.60v5.5M309.88,457.80v-11.0M309.88,63.60v11.0M366.20,457.80v-5.5M366.20,63.60v5.5M422.52,457.80v-11.0M422.52,63.60v11.0M478.84,457.80v-5.5M478.84,63.60v5.5M535.16,457.80v-11.0M535.16,63.60v11.0M591.48,457.80v-5.5M591.48,63.60v5.5M84.60,457.80h11.0M647.80,457.80h-11.0M84.60,345.17h11.0M647.80,345.17h-11.0M84.60,232.54h11.0M647.80,232.54h-11.0M84.60,119.91h11.0M647.80,119.91h-11.0M84.60,401.49h5.5M647.80,401.49h-5.5M84.60,288.86h5.5M647.80,288.86h-5.5M84.60,176.23h5.5M647.80,176.23h-5.5" stroke="#111" stroke-width="1.5" fill="none"/>
<text transform="translate(84.60,480.40) scale(0.920,1.000)" font-family="'Liberation Serif', 'Times New Roman', serif" font-size="25" text-anchor="middle">0</text>
<text transform="translate(197.24,480.40) scale(0.920,1.000)" font-family="'Liberation Serif', 'Times New Roman', serif" font-size="25" text-anchor="middle">0.2</text>
<text transform="translate(309.88,480.40) scale(0.920,1.000)" font-family="'Liberation Serif', 'Times New Roman', serif" font-size="25" text-anchor="middle">0.4</text>
<text transform="translate(422.52,480.40) scale(0.920,1.000)" font-family="'Liberation Serif', 'Times New Roman', serif" font-size="25" text-anchor="middle">0.6</text>
<text transform="translate(535.16,480.40) scale(0.920,1.000)" font-family="'Liberation Serif', 'Times New Roman', serif" font-size="25" text-anchor="middle">0.8</text>
<text transform="translate(649.20,480.40) scale(0.920,1.000)" font-family="'Liberation Serif', 'Times New Roman', serif" font-size="25" text-anchor="middle">1</text>
<text transform="translate(79.00,466.20) scale(0.920,1.000)" font-family="'Liberation Serif', 'Times New Roman', serif" font-size="25" text-anchor="end">100</text>
<text transform="translate(79.00,353.57) scale(0.920,1.000)" font-family="'Liberation Serif', 'Times New Roman', serif" font-size="25" text-anchor="end">120</text>
<text transform="translate(79.00,240.94) scale(0.920,1.000)" font-family="'Liberation Serif', 'Times New Roman', serif" font-size="25" text-anchor="end">140</text>
<text transform="translate(79.00,128.31) scale(0.920,1.000)" font-family="'Liberation Serif', 'Times New Roman', serif" font-size="25" text-anchor="end">160</text>
<rect x="885.60" y="63.60" width="563.60" height="394.20" fill="none" stroke="#111" stroke-width="1.5"/>
<path d="M941.96,457.80v-5.5M941.96,63.60v5.5M998.32,457.80v-11.0M998.32,63.60v11.0M1054.68,457.80v-5.5M1054.68,63.60v5.5M1111.04,457.80v-11.0M1111.04,63.60v11.0M1167.40,457.80v-5.5M1167.40,63.60v5.5M1223.76,457.80v-11.0M1223.76,63.60v11.0M1280.12,457.80v-5.5M1280.12,63.60v5.5M1336.48,457.80v-11.0M1336.48,63.60v11.0M1392.84,457.80v-5.5M1392.84,63.60v5.5M885.60,431.52h11.0M1449.20,431.52h-11.0M885.60,300.12h11.0M1449.20,300.12h-11.0M885.60,168.72h11.0M1449.20,168.72h-11.0M885.60,365.82h5.5M1449.20,365.82h-5.5M885.60,234.42h5.5M1449.20,234.42h-5.5M885.60,103.02h5.5M1449.20,103.02h-5.5" stroke="#111" stroke-width="1.5" fill="none"/>
<text transform="translate(885.60,480.40) scale(0.920,1.000)" font-family="'Liberation Serif', 'Times New Roman', serif" font-size="25" text-anchor="middle">0</text>
<text transform="translate(998.32,480.40) scale(0.920,1.000)" font-family="'Liberation Serif', 'Times New Roman', serif" font-size="25" text-anchor="middle">0.2</text>
<text transform="translate(1111.04,480.40) scale(0.920,1.000)" font-family="'Liberation Serif', 'Times New Roman', serif" font-size="25" text-anchor="middle">0.4</text>
<text transform="translate(1223.76,480.40) scale(0.920,1.000)" font-family="'Liberation Serif', 'Times New Roman', serif" font-size="25" text-anchor="middle">0.6</text>
<text transform="translate(1336.48,480.40) scale(0.920,1.000)" font-family="'Liberation Serif', 'Times New Roman', serif" font-size="25" text-anchor="middle">0.8</text>
<text transform="translate(1450.60,480.40) scale(0.920,1.000)" font-family="'Liberation Serif', 'Times New Roman', serif" font-size="25" text-anchor="middle">1</text>
<text transform="translate(1454.80,439.92) scale(0.920,1.000)" font-family="'Liberation Serif', 'Times New Roman', serif" font-size="25" text-anchor="start">125</text>
<text transform="translate(1454.80,308.52) scale(0.920,1.000)" font-family="'Liberation Serif', 'Times New Roman', serif" font-size="25" text-anchor="start">150</text>
<text transform="translate(1454.80,177.12) scale(0.920,1.000)" font-family="'Liberation Serif', 'Times New Roman', serif" font-size="25" text-anchor="start">175</text>
<rect x="84.60" y="595.00" width="563.20" height="394.20" fill="none" stroke="#111" stroke-width="1.5"/>
<path d="M140.92,989.20v-5.5M140.92,595.00v5.5M197.24,989.20v-11.0M197.24,595.00v11.0M253.56,989.20v-5.5M253.56,595.00v5.5M309.88,989.20v-11.0M309.88,595.00v11.0M366.20,989.20v-5.5M366.20,595.00v5.5M422.52,989.20v-11.0M422.52,595.00v11.0M478.84,989.20v-5.5M478.84,595.00v5.5M535.16,989.20v-11.0M535.16,595.00v11.0M591.48,989.20v-5.5M591.48,595.00v5.5M84.60,989.20h11.0M647.80,989.20h-11.0M84.60,876.57h11.0M647.80,876.57h-11.0M84.60,763.94h11.0M647.80,763.94h-11.0M84.60,651.31h11.0M647.80,651.31h-11.0M84.60,932.89h5.5M647.80,932.89h-5.5M84.60,820.26h5.5M647.80,820.26h-5.5M84.60,707.63h5.5M647.80,707.63h-5.5" stroke="#111" stroke-width="1.5" fill="none"/>
<text transform="translate(84.60,1011.80) scale(0.920,1.000)" font-family="'Liberation Serif', 'Times New Roman', serif" font-size="25" text-anchor="middle">0</text>
<text transform="translate(197.24,1011.80) scale(0.920,1.000)" font-family="'Liberation Serif', 'Times New Roman', serif" font-size="25" text-anchor="middle">0.2</text>
<text transform="translate(309.88,1011.80) scale(0.920,1.000)" font-family="'Liberation Serif', 'Times New Roman', serif" font-size="25" text-anchor="middle">0.4</text>
<text transform="translate(422.52,1011.80) scale(0.920,1.000)" font-family="'Liberation Serif', 'Times New Roman', serif" font-size="25" text-anchor="middle">0.6</text>
<text transform="translate(535.16,1011.80) scale(0.920,1.000)" font-family="'Liberation Serif', 'Times New Roman', serif" font-size="25" text-anchor="middle">0.8</text>
<text transform="translate(649.20,1011.80) scale(0.920,1.000)" font-family="'Liberation Serif', 'Times New Roman', serif" font-size="25" text-anchor="middle">1</text>
<text transform="translate(79.00,997.60) scale(0.920,1.000)" font-family="'Liberation Serif', 'Times New Roman', serif" font-size="25" text-anchor="end">100</text>
<text transform="translate(79.00,884.97) scale(0.920,1.000)" font-family="'Liberation Serif', 'Times New Roman', serif" font-size="25" text-anchor="end">120</text>
<text transform="translate(79.00,772.34) scale(0.920,1.000)" font-family="'Liberation Serif', 'Times New Roman', serif" font-size="25" text-anchor="end">140</text>
<text transform="translate(79.00,659.71) scale(0.920,1.000)" font-family="'Liberation Serif', 'Times New Roman', serif" font-size="25" text-anchor="end">160</text>
<rect x="885.60" y="595.00" width="563.60" height="394.20" fill="none" stroke="#111" stroke-width="1.5"/>
<path d="M941.96,989.20v-5.5M941.96,595.00v5.5M998.32,989.20v-11.0M998.32,595.00v11.0M1054.68,989.20v-5.5M1054.68,595.00v5.5M1111.04,989.20v-11.0M1111.04,595.00v11.0M1167.40,989.20v-5.5M1167.40,595.00v5.5M1223.76,989.20v-11.0M1223.76,595.00v11.0M1280.12,989.20v-5.5M1280.12,595.00v5.5M1336.48,989.20v-11.0M1336.48,595.00v11.0M1392.84,989.20v-5.5M1392.84,595.00v5.5M885.60,962.92h11.0M1449.20,962.92h-11.0M885.60,831.52h11.0M1449.20,831.52h-11.0M885.60,700.12h11.0M1449.20,700.12h-11.0M885.60,897.22h5.5M1449.20,897.22h-5.5M885.60,765.82h5.5M1449.20,765.82h-5.5M885.60,634.42h5.5M1449.20,634.42h-5.5" stroke="#111" stroke-width="1.5" fill="none"/>
<text transform="translate(885.60,1011.80) scale(0.920,1.000)" font-family="'Liberation Serif', 'Times New Roman', serif" font-size="25" text-anchor="middle">0</text>
<text transform="translate(998.32,1011.80) scale(0.920,1.000)" font-family="'Liberation Serif', 'Times New Roman', serif" font-size="25" text-anchor="middle">0.2</text>
<text transform="translate(1111.04,1011.80) scale(0.920,1.000)" font-family="'Liberation Serif', 'Times New Roman', serif" font-size="25" text-anchor="middle">0.4</text>
<text transform="translate(1223.76,1011.80) scale(0.920,1.000)" font-family="'Liberation Serif', 'Times New Roman', serif" font-size="25" text-anchor="middle">0.6</text>
<text transform="translate(1336.48,1011.80) scale(0.920,1.000)" font-family="'Liberation Serif', 'Times New Roman', serif" font-size="25" text-anchor="middle">0.8</text>
<text transform="translate(1450.60,1011.80) scale(0.920,1.000)" font-family="'Liberation Serif', 'Times New Roman', serif" font-size="25" text-anchor="middle">1</text>
<text transform="translate(1454.80,971.32) scale(0.920,1.000)" font-family="'Liberation Serif', 'Times New Roman', serif" font-size="25" text-anchor="start">125</text>
<text transform="translate(1454.80,839.92) scale(0.920,1.000)" font-family="'Liberation Serif', 'Times New Roman', serif" font-size="25" text-anchor="start">150</text>
<text transform="translate(1454.80,708.52) scale(0.920,1.000)" font-family="'Liberation Serif', 'Times New Roman', serif" font-size="25" text-anchor="start">175</text>
<text transform="translate(6.79,36.80) scale(1.0087,1.0000)" font-family="'Liberation Sans', Arial, sans-serif" font-size="34.5" font-weight="bold">A</text>
<text transform="translate(802.07,36.80) scale(0.9476,0.9895)" font-family="'Liberation Sans', Arial, sans-serif" font-size="34.5" font-weight="bold">B</text>
<text transform="translate(168.16,109.60) scale(1.0374,0.9957)" font-family="'Liberation Serif', 'Times New Roman', serif" font-size="35">D</text>
<text transform="translate(354.41,109.85) scale(0.9861,1.0085)" font-family="'Liberation Serif', 'Times New Roman', serif" font-size="35">D+S</text>
<text transform="translate(525.00,420.20) scale(0.9903,1.0143)" font-family="'Liberation Serif', 'Times New Roman', serif" font-size="43" font-style="italic">K</text>
<text transform="translate(561.69,415.54) scale(1.0700,0.6605)" font-family="'Liberation Serif', 'Times New Roman', serif" font-size="43">=</text>
<text transform="translate(596.24,420.00) scale(0.8789,0.9983)" font-family="'Liberation Serif', 'Times New Roman', serif" font-size="43">3</text>
<text transform="translate(653.73,104.39) scale(0.9709,1.0222)" font-family="'Liberation Serif', 'Times New Roman', serif" font-size="23.5" font-style="italic">ΔK = 60%</text>
<text transform="translate(653.73,235.17) scale(0.9709,1.0540)" font-family="'Liberation Serif', 'Times New Roman', serif" font-size="23.5" font-style="italic">ΔK = 10%</text>
<text transform="translate(335.19,514.27) scale(0.9842,0.9969)" font-family="'Liberation Serif', 'Times New Roman', serif" font-size="37" font-style="italic"><tspan>K</tspan><tspan font-size="24" dy="7.5">rank</tspan></text>
<text transform="translate(34.24,323.37) scale(1.0127,0.9811) rotate(-90)" font-family="'Liberation Serif', 'Times New Roman', serif" font-size="38" font-style="italic">r [Hz]</text>
<text transform="translate(166.56,637.40) scale(1.0374,0.9957)" font-family="'Liberation Serif', 'Times New Roman', serif" font-size="35">D</text>
<text transform="translate(352.30,637.65) scale(1.0041,1.0085)" font-family="'Liberation Serif', 'Times New Roman', serif" font-size="35">D+S</text>
<text transform="translate(525.00,957.60) scale(0.9903,1.0071)" font-family="'Liberation Serif', 'Times New Roman', serif" font-size="43" font-style="italic">K</text>
<text transform="translate(561.69,952.64) scale(1.0700,0.6605)" font-family="'Liberation Serif', 'Times New Roman', serif" font-size="43">=</text>
<text transform="translate(596.24,957.60) scale(0.8789,0.9983)" font-family="'Liberation Serif', 'Times New Roman', serif" font-size="43">3</text>
<text transform="translate(652.13,635.59) scale(0.9709,1.0222)" font-family="'Liberation Serif', 'Times New Roman', serif" font-size="23.5" font-style="italic">ΔK = 60%</text>
<text transform="translate(652.13,766.77) scale(0.9709,1.0540)" font-family="'Liberation Serif', 'Times New Roman', serif" font-size="23.5" font-style="italic">ΔK = 10%</text>
<text transform="translate(333.49,1043.57) scale(0.9842,0.9969)" font-family="'Liberation Serif', 'Times New Roman', serif" font-size="37" font-style="italic"><tspan>K</tspan><tspan font-size="24" dy="7.5">rank</tspan></text>
<text transform="translate(32.05,852.27) scale(1.0095,0.9811) rotate(-90)" font-family="'Liberation Serif', 'Times New Roman', serif" font-size="38" font-style="italic">r [Hz]</text>
<text transform="translate(967.51,110.05) scale(0.9927,1.0085)" font-family="'Liberation Serif', 'Times New Roman', serif" font-size="35">D+S</text>
<text transform="translate(1183.18,110.05) scale(1.0733,1.0085)" font-family="'Liberation Serif', 'Times New Roman', serif" font-size="35">S</text>
<text transform="translate(814.43,141.70) scale(0.9353,1.0222)" font-family="'Liberation Serif', 'Times New Roman', serif" font-size="24" font-style="italic">K = 12</text>
<text transform="translate(814.43,418.26) scale(0.9369,0.9625)" font-family="'Liberation Serif', 'Times New Roman', serif" font-size="24" font-style="italic">K = 3</text>
<text transform="translate(1199.63,432.18) scale(0.9530,0.9588)" font-family="'Liberation Serif', 'Times New Roman', serif" font-size="48" font-style="italic">ΔK/K = 0.1</text>
<text transform="translate(1128.99,514.27) scale(0.9885,0.9969)" font-family="'Liberation Serif', 'Times New Roman', serif" font-size="37" font-style="italic"><tspan>K</tspan><tspan font-size="24" dy="7.5">rank</tspan></text>
<text transform="translate(1524.92,312.77) scale(1.0159,0.9811) rotate(-90)" font-family="'Liberation Serif', 'Times New Roman', serif" font-size="38" font-style="italic">r [Hz]</text>
<text transform="translate(967.51,641.95) scale(0.9927,1.0085)" font-family="'Liberation Serif', 'Times New Roman', serif" font-size="35">D+S</text>
<text transform="translate(1183.18,641.95) scale(1.0733,1.0085)" font-family="'Liberation Serif', 'Times New Roman', serif" font-size="35">S</text>
<text transform="translate(814.53,671.60) scale(0.9353,0.9905)" font-family="'Liberation Serif', 'Times New Roman', serif" font-size="24" font-style="italic">K = 12</text>
<text transform="translate(814.53,949.35) scale(0.9315,0.9813)" font-family="'Liberation Serif', 'Times New Roman', serif" font-size="24" font-style="italic">K = 3</text>
<text transform="translate(1199.63,959.68) scale(0.9530,0.9588)" font-family="'Liberation Serif', 'Times New Roman', serif" font-size="48" font-style="italic">ΔK/K = 0.1</text>
<text transform="translate(1128.99,1043.97) scale(0.9885,0.9969)" font-family="'Liberation Serif', 'Times New Roman', serif" font-size="37" font-style="italic"><tspan>K</tspan><tspan font-size="24" dy="7.5">rank</tspan></text>
<text transform="translate(1524.56,852.17) scale(1.0286,0.9801) rotate(-90)" font-family="'Liberation Serif', 'Times New Roman', serif" font-size="38" font-style="italic">r [Hz]</text>
<rect x="533.4" y="386.05" width="25.50" height="2.1" fill="#000"/>
<rect x="533.4" y="923.45" width="25.50" height="2.1" fill="#000"/>
<rect x="817.9" y="122.85" width="12.20" height="1.5" fill="#000"/>
<rect x="817.9" y="399.75" width="12.20" height="1.5" fill="#000"/>
<rect x="817.9" y="652.35" width="12.20" height="1.5" fill="#000"/>
<rect x="817.9" y="930.75" width="12.20" height="1.5" fill="#000"/>
<rect x="1277.6" y="395.60" width="24.30" height="2.6" fill="#000"/>
<rect x="1277.6" y="924.40" width="24.30" height="2.6" fill="#000"/>
</svg></body></html>
